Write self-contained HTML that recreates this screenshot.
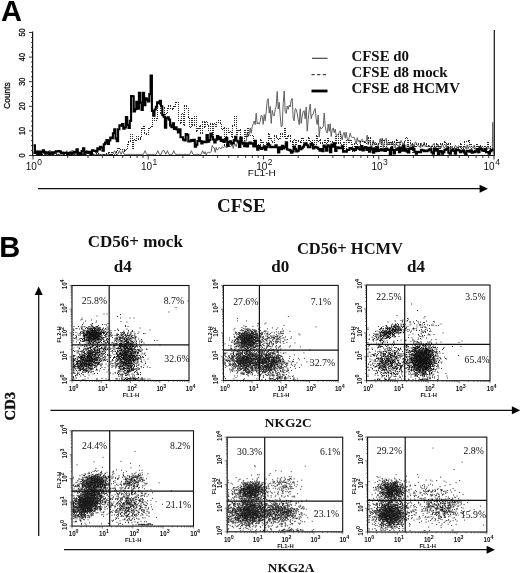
<!DOCTYPE html>
<html><head><meta charset="utf-8"><title>Figure</title>
<style>html,body{margin:0;padding:0;background:#fff}body{width:520px;height:573px;overflow:hidden}</style></head>
<body>
<svg width="520" height="573" viewBox="0 0 520 573" style="display:block;filter:grayscale(1)">
<rect width="520" height="573" fill="#fff"/>
<text x="1" y="21.2" font-family="Liberation Sans, sans-serif" font-weight="bold" font-size="29" fill="#000">A</text>
<text x="-0.7" y="256.7" font-family="Liberation Sans, sans-serif" font-weight="bold" font-size="29" fill="#000">B</text>
<path d="M32.6 31.5V155.5H494.3V30" fill="none" stroke="#111" stroke-width="1.2"/>
<path d="M29.0 155.5H33M31.0 150.6H33M31.0 145.7H33M31.0 140.7H33M31.0 135.8H33M29.0 130.9H33M31.0 126.0H33M31.0 121.1H33M31.0 116.1H33M31.0 111.2H33M29.0 106.3H33M31.0 101.4H33M31.0 96.5H33M31.0 91.5H33M31.0 86.6H33M29.0 81.7H33M31.0 76.8H33M31.0 71.9H33M31.0 66.9H33M31.0 62.0H33M29.0 57.1H33M31.0 52.2H33M31.0 47.3H33M31.0 42.3H33M31.0 37.4H33M29.0 32.5H33" stroke="#222" stroke-width="0.9" fill="none"/>
<path d="M33.0 155.5v4M67.7 155.5v2.5M88.0 155.5v2.5M102.4 155.5v2.5M113.6 155.5v2.5M122.7 155.5v2.5M130.4 155.5v2.5M137.1 155.5v2.5M143.0 155.5v2.5M148.2 155.5v4M182.9 155.5v2.5M203.2 155.5v2.5M217.6 155.5v2.5M228.8 155.5v2.5M237.9 155.5v2.5M245.6 155.5v2.5M252.3 155.5v2.5M258.2 155.5v2.5M263.5 155.5v4M298.2 155.5v2.5M318.5 155.5v2.5M332.9 155.5v2.5M344.1 155.5v2.5M353.2 155.5v2.5M360.9 155.5v2.5M367.6 155.5v2.5M373.5 155.5v2.5M378.8 155.5v4M413.4 155.5v2.5M433.7 155.5v2.5M448.1 155.5v2.5M459.3 155.5v2.5M468.4 155.5v2.5M476.1 155.5v2.5M482.8 155.5v2.5M488.7 155.5v2.5M494.0 155.5v4" stroke="#222" stroke-width="0.9" fill="none"/>
<text transform="translate(24.5 155.5) rotate(-90) scale(0.85 1)" text-anchor="middle" font-family="Liberation Sans, sans-serif" font-size="8.6" fill="#111" stroke="#111" stroke-width="0.3">0</text>
<text transform="translate(24.5 130.9) rotate(-90) scale(0.85 1)" text-anchor="middle" font-family="Liberation Sans, sans-serif" font-size="8.6" fill="#111" stroke="#111" stroke-width="0.3">10</text>
<text transform="translate(24.5 106.3) rotate(-90) scale(0.85 1)" text-anchor="middle" font-family="Liberation Sans, sans-serif" font-size="8.6" fill="#111" stroke="#111" stroke-width="0.3">20</text>
<text transform="translate(24.5 81.7) rotate(-90) scale(0.85 1)" text-anchor="middle" font-family="Liberation Sans, sans-serif" font-size="8.6" fill="#111" stroke="#111" stroke-width="0.3">30</text>
<text transform="translate(24.5 57.1) rotate(-90) scale(0.85 1)" text-anchor="middle" font-family="Liberation Sans, sans-serif" font-size="8.6" fill="#111" stroke="#111" stroke-width="0.3">40</text>
<text transform="translate(24.5 32.5) rotate(-90) scale(0.85 1)" text-anchor="middle" font-family="Liberation Sans, sans-serif" font-size="8.6" fill="#111" stroke="#111" stroke-width="0.3">50</text>
<text transform="translate(10.2 95.5) rotate(-90)" text-anchor="middle" font-family="Liberation Sans, sans-serif" font-size="8.3" fill="#111" stroke="#111" stroke-width="0.3">Counts</text>
<text x="25.7" y="169.5" font-family="Liberation Sans, sans-serif" font-size="10" fill="#111">10<tspan dy="-5" dx="0.5" font-size="8.5">0</tspan></text>
<text x="140.9" y="169.5" font-family="Liberation Sans, sans-serif" font-size="10" fill="#111">10<tspan dy="-5" dx="0.5" font-size="8.5">1</tspan></text>
<text x="256.2" y="169.5" font-family="Liberation Sans, sans-serif" font-size="10" fill="#111">10<tspan dy="-5" dx="0.5" font-size="8.5">2</tspan></text>
<text x="371.4" y="169.5" font-family="Liberation Sans, sans-serif" font-size="10" fill="#111">10<tspan dy="-5" dx="0.5" font-size="8.5">3</tspan></text>
<text x="483.5" y="169.5" font-family="Liberation Sans, sans-serif" font-size="10" fill="#111">10<tspan dy="-5" dx="0.5" font-size="8.5">4</tspan></text>
<text x="247.8" y="176.3" font-family="Liberation Sans, sans-serif" font-size="8.6" textLength="28" lengthAdjust="spacingAndGlyphs" fill="#111">FL1-H</text>
<path d="M33.0 154.4 L34.6 150.7 L36.2 154.4 L37.8 150.7 L39.4 154.4 L41.0 154.4 L42.6 150.7 L44.2 154.4 L45.8 150.7 L47.4 154.4 L49.0 150.7 L50.6 150.7 L52.2 154.4 L53.8 154.4 L55.4 150.7 L57.0 154.4 L58.6 154.4 L60.2 154.4 L61.8 154.4 L63.4 154.4 L65.0 154.4 L66.6 150.7 L68.2 154.4 L69.8 154.4 L71.4 150.7 L73.0 150.7 L74.6 154.4 L76.2 154.4 L77.8 154.4 L79.4 154.4 L81.0 154.4 L82.6 154.4 L84.2 154.4 L85.8 150.7 L87.4 150.7 L89.0 154.4 L90.6 154.4 L92.2 154.4 L93.8 154.4 L95.4 154.4 L97.0 154.4 L98.6 154.4 L100.2 154.4 L101.8 154.4 L103.4 154.4 L105.0 154.4 L106.6 154.4 L108.2 154.4 L109.8 154.4 L111.4 154.4 L113.0 154.4 L114.6 150.7 L116.2 154.4 L117.8 154.4 L119.4 150.7 L121.0 154.4 L122.6 150.7 L124.2 154.4 L125.8 154.4 L127.4 154.4 L129.0 154.4 L130.6 154.4 L132.2 154.4 L133.8 154.4 L135.4 154.4 L137.0 154.4 L138.6 154.4 L140.2 154.4 L141.8 154.4 L143.4 154.4 L145.0 150.7 L146.6 154.4 L148.2 154.4 L149.8 154.4 L151.4 154.4 L153.0 154.4 L154.6 154.4 L156.2 154.4 L157.8 150.7 L159.4 154.4 L161.0 154.4 L162.6 150.7 L164.2 150.7 L165.8 154.4 L167.4 150.7 L169.0 154.4 L170.6 154.4 L172.2 154.4 L173.8 150.7 L175.4 154.4 L177.0 154.4 L178.6 154.4 L180.2 154.4 L181.8 154.4 L183.4 154.4 L185.0 154.4 L186.6 154.4 L188.2 154.4 L189.8 154.4 L191.4 150.7 L193.0 154.4 L194.6 154.4 L196.2 154.4 L197.8 154.4 L199.4 154.4 L201.0 154.4 L202.6 150.7 L204.2 154.0 L205.2 151.7 L206.2 155.0 L207.2 153.4 L208.2 152.0 L209.2 152.8 L210.2 152.4 L211.2 151.8 L212.2 145.5 L213.2 147.5 L214.2 147.7 L215.2 152.4 L216.2 147.5 L217.2 150.2 L218.2 148.9 L219.2 147.5 L220.2 148.6 L221.2 148.7 L222.2 146.8 L223.2 147.5 L224.2 147.1 L225.2 146.2 L226.2 147.6 L227.2 147.4 L228.2 146.6 L229.2 146.1 L230.2 147.1 L231.2 146.1 L232.2 144.0 L233.2 148.4 L234.2 144.7 L235.2 144.1 L236.2 146.7 L237.2 143.1 L238.2 141.3 L239.2 141.1 L240.2 141.4 L241.2 144.3 L242.2 145.0 L243.2 143.5 L244.2 141.3 L245.2 141.2 L246.2 141.4 L247.2 132.4 L248.2 136.5 L249.2 134.2 L250.2 128.1 L251.2 133.2 L252.2 126.6 L253.2 123.8 L254.2 121.0 L255.2 124.6 L256.2 113.3 L257.2 124.1 L258.2 122.6 L259.2 124.2 L260.2 121.4 L261.2 115.2 L262.2 116.1 L263.2 124.4 L264.2 114.5 L265.2 120.8 L266.2 111.9 L267.2 100.7 L268.2 98.7 L269.2 113.1 L270.2 106.4 L271.2 123.4 L272.2 110.4 L273.2 114.9 L274.2 116.1 L275.2 109.3 L276.2 106.1 L277.2 91.5 L278.2 109.0 L279.2 102.3 L280.2 115.3 L281.2 126.7 L282.2 126.0 L283.2 103.7 L284.2 91.1 L285.2 111.4 L286.2 113.5 L287.2 106.0 L288.2 109.3 L289.2 105.1 L290.2 107.0 L291.2 100.0 L292.2 98.4 L293.2 118.4 L294.2 120.8 L295.2 108.6 L296.2 109.3 L297.2 113.5 L298.2 119.4 L299.2 124.6 L300.2 108.8 L301.2 123.4 L302.2 116.3 L303.2 111.4 L304.2 110.7 L305.2 118.7 L306.2 107.0 L307.2 131.1 L308.2 119.3 L309.2 109.9 L310.2 104.2 L311.2 118.7 L312.2 114.5 L313.2 114.3 L314.2 110.3 L315.2 108.5 L316.2 119.2 L317.2 124.5 L318.2 115.0 L319.2 137.1 L320.2 126.7 L321.2 128.8 L322.2 127.9 L323.2 126.8 L324.2 113.0 L325.2 126.1 L326.2 131.4 L327.2 133.1 L328.2 124.1 L329.2 131.3 L330.2 123.7 L331.2 136.5 L332.2 129.9 L333.2 127.9 L334.2 132.6 L335.2 129.1 L336.2 135.4 L337.2 134.6 L338.2 135.3 L339.2 132.6 L340.2 130.8 L341.2 136.4 L342.2 139.9 L343.2 133.8 L344.2 132.2 L345.2 138.1 L346.2 132.2 L347.2 138.5 L348.2 141.0 L349.2 137.7 L350.2 133.1 L351.2 136.8 L352.2 137.3 L353.2 137.4 L354.2 137.3 L355.2 140.2 L356.2 143.9 L357.2 137.7 L358.2 141.7 L359.2 140.1 L360.2 143.6 L361.2 140.0 L362.2 139.3 L363.2 141.3 L364.2 142.3 L365.2 141.1 L366.2 141.3 L367.2 135.1 L368.2 144.8 L369.2 141.0 L370.2 140.6 L371.2 148.0 L372.2 145.3 L373.2 140.1 L374.2 145.3 L375.2 142.0 L376.2 143.2 L377.2 145.3 L378.2 145.7 L379.2 143.3 L380.2 138.5 L381.2 144.4 L382.2 138.0 L383.2 147.8 L384.2 143.3 L385.2 139.6 L386.2 138.3 L387.2 145.3 L388.2 142.6 L389.2 142.5 L390.2 144.7 L391.2 143.4 L392.2 143.8 L393.2 143.0 L394.2 146.4 L395.2 148.3 L396.2 143.1 L397.2 145.3 L398.2 145.3 L399.2 148.4 L400.2 141.3 L401.2 140.5 L402.2 143.0 L403.2 145.3 L404.2 142.5 L405.2 145.8 L406.2 152.8 L407.2 144.5 L408.2 144.5 L409.2 146.6 L410.2 148.1 L411.2 144.1 L412.2 146.4 L413.2 144.1 L414.2 147.3 L415.2 142.1 L416.2 142.6 L417.2 145.4 L418.2 146.3 L419.2 145.8 L420.2 147.7 L421.2 143.1 L422.2 147.0 L423.2 146.3 L424.2 142.1 L425.2 146.7 L426.2 145.3 L427.2 146.7 L428.2 146.6 L429.2 145.9 L430.2 146.3 L431.2 148.5 L432.2 145.1 L433.2 145.0 L434.2 143.2 L435.2 149.1 L436.2 147.0 L437.2 145.6 L438.2 144.4 L439.2 148.5 L440.2 147.4 L441.2 148.0 L442.2 143.9 L443.2 146.0 L444.2 148.0 L445.2 146.9 L446.2 144.3 L447.2 148.6 L448.2 147.1 L449.2 148.3 L450.2 147.0 L451.2 148.2 L452.2 146.0 L453.2 149.4 L454.2 149.1 L455.2 145.3 L456.2 146.2 L457.2 148.5 L458.2 146.0 L459.2 145.9 L460.2 147.8 L461.2 146.9 L462.2 147.6 L463.2 147.4 L464.2 147.5 L465.2 146.3 L466.2 149.4 L467.2 144.8 L468.2 148.8 L469.2 145.8 L470.2 147.4 L471.2 146.6 L472.2 146.8 L473.2 148.2 L474.2 145.1 L475.2 148.2 L476.2 149.8 L477.2 149.0 L478.2 153.4 L479.2 147.9 L480.2 145.7 L481.2 146.4 L482.2 151.0 L483.2 147.8 L484.2 147.8 L485.2 150.7 L486.2 152.0 L487.2 149.1 L488.2 147.2 L489.2 149.3 L490.2 147.6 L491.2 151.9 L492.2 150.6 L492.3 150.6 L492.8 122.3 L493.3 154.3" fill="none" stroke="#5a5a5a" stroke-width="0.95" stroke-linejoin="miter"/>
<path d="M34 155.5h1M36 154.5h1M36 155.5h1M37 154.5h1M38 154.5h1M39 154.5h1M40 154.5h1M40 155.5h1M42 154.5h1M42 155.5h1M44 155.5h1M46 155.5h1M48 152.5h1M48 154.5h1M48 155.5h1M50 152.5h1M50 154.5h1M50 155.5h1M52 154.5h1M52 155.5h1M53 154.5h1M54 155.5h1M56 154.5h1M56 155.5h1M58 154.5h1M58 155.5h1M60 155.5h1M62 155.5h1M63 154.5h1M64 154.5h1M66 153.5h1M66 154.5h1M68 153.5h1M68 154.5h1M68 155.5h1M70 155.5h1M72 152.5h1M72 154.5h1M72 155.5h1M74 152.5h1M74 154.5h1M74 155.5h1M76 155.5h1M78 155.5h1M80 155.5h1M82 155.5h1M84 154.5h1M84 155.5h1M85 154.5h1M86 155.5h1M88 155.5h1M90 155.5h1M92 154.5h1M92 155.5h1M93 154.5h1M94 155.5h1M96 153.5h1M96 154.5h1M96 155.5h1M98 153.5h1M98 154.5h1M100 154.5h1M100 155.5h1M102 155.5h1M103 154.5h1M104 154.5h1M106 153.5h1M106 154.5h1M108 152.5h1M108 153.5h1M109 152.5h1M109 154.5h1M110 154.5h1M111 152.5h1M111 154.5h1M112 152.5h1M112 154.5h1M114 154.5h1M116 151.5h1M116 152.5h1M116 154.5h1M117 148.5h1M117 150.5h1M118 148.5h1M119 148.5h1M120 149.5h1M122 149.5h1M124 149.5h1M124 150.5h1M124 151.5h1M125 150.5h1M126 149.5h1M127 144.5h1M127 146.5h1M127 148.5h1M128 141.5h1M128 142.5h1M128 144.5h1M130 134.5h1M130 136.5h1M130 138.5h1M130 140.5h1M130 141.5h1M132 134.5h1M132 136.5h1M132 138.5h1M132 140.5h1M132 142.5h1M132 144.5h1M132 146.5h1M132 148.5h1M133 140.5h1M133 142.5h1M133 144.5h1M133 146.5h1M133 148.5h1M134 139.5h1M135 140.5h1M136 136.5h1M136 138.5h1M136 140.5h1M138 136.5h1M138 138.5h1M138 139.5h1M140 137.5h1M140 138.5h1M140 139.5h1M141 128.5h1M141 130.5h1M141 132.5h1M141 134.5h1M141 136.5h1M142 128.5h1M143 126.5h1M143 128.5h1M144 126.5h1M144 128.5h1M144 130.5h1M144 132.5h1M144 133.5h1M146 133.5h1M146 134.5h1M148 128.5h1M148 130.5h1M148 132.5h1M148 134.5h1M149 128.5h1M150 127.5h1M151 126.5h1M152 118.5h1M152 120.5h1M152 122.5h1M152 124.5h1M152 126.5h1M154 118.5h1M154 120.5h1M156 118.5h1M156 120.5h1M157 104.5h1M157 106.5h1M157 108.5h1M157 110.5h1M157 112.5h1M157 114.5h1M157 116.5h1M157 118.5h1M158 103.5h1M159 104.5h1M160 104.5h1M160 106.5h1M160 108.5h1M160 110.5h1M160 112.5h1M160 113.5h1M162 107.5h1M162 108.5h1M162 110.5h1M162 112.5h1M162 113.5h1M164 107.5h1M164 108.5h1M164 110.5h1M164 112.5h1M164 114.5h1M164 116.5h1M164 117.5h1M165 114.5h1M165 116.5h1M166 113.5h1M167 108.5h1M167 110.5h1M167 112.5h1M168 105.5h1M168 106.5h1M168 108.5h1M170 105.5h1M170 106.5h1M170 108.5h1M172 108.5h1M172 109.5h1M173 106.5h1M173 108.5h1M174 106.5h1M175 102.5h1M175 104.5h1M175 106.5h1M176 102.5h1M178 102.5h1M178 104.5h1M178 106.5h1M178 108.5h1M178 110.5h1M178 112.5h1M178 114.5h1M178 116.5h1M178 118.5h1M178 120.5h1M180 120.5h1M180 122.5h1M180 123.5h1M181 114.5h1M181 116.5h1M181 118.5h1M181 120.5h1M181 122.5h1M182 113.5h1M183 114.5h1M183 116.5h1M183 118.5h1M183 120.5h1M183 122.5h1M183 124.5h1M184 105.5h1M184 106.5h1M184 108.5h1M184 110.5h1M184 112.5h1M184 114.5h1M184 116.5h1M184 118.5h1M184 120.5h1M184 122.5h1M184 124.5h1M184 125.5h1M186 105.5h1M186 106.5h1M186 108.5h1M188 108.5h1M188 110.5h1M188 112.5h1M188 114.5h1M188 116.5h1M188 117.5h1M189 118.5h1M189 120.5h1M189 122.5h1M189 124.5h1M189 126.5h1M190 127.5h1M191 118.5h1M191 120.5h1M191 122.5h1M191 124.5h1M191 126.5h1M192 118.5h1M192 120.5h1M192 122.5h1M192 124.5h1M192 125.5h1M194 116.5h1M194 118.5h1M194 120.5h1M194 122.5h1M194 124.5h1M194 125.5h1M196 116.5h1M196 118.5h1M196 120.5h1M196 122.5h1M196 124.5h1M196 126.5h1M196 128.5h1M196 130.5h1M196 131.5h1M197 128.5h1M197 130.5h1M198 128.5h1M199 126.5h1M199 128.5h1M200 125.5h1M200 126.5h1M200 128.5h1M200 130.5h1M200 132.5h1M200 133.5h1M202 121.5h1M202 122.5h1M202 124.5h1M202 126.5h1M202 128.5h1M202 130.5h1M202 132.5h1M202 133.5h1M204 121.5h1M204 122.5h1M204 124.5h1M204 126.5h1M204 127.5h1M205 122.5h1M205 124.5h1M205 126.5h1M206 121.5h1M207 122.5h1M207 124.5h1M208 125.5h1M208 126.5h1M208 128.5h1M208 130.5h1M210 123.5h1M210 124.5h1M210 126.5h1M210 128.5h1M210 130.5h1M212 123.5h1M212 124.5h1M212 126.5h1M212 128.5h1M212 130.5h1M212 132.5h1M212 134.5h1M213 124.5h1M213 126.5h1M213 128.5h1M213 130.5h1M213 132.5h1M213 134.5h1M214 123.5h1M215 124.5h1M215 126.5h1M216 122.5h1M216 124.5h1M216 126.5h1M218 120.5h1M218 122.5h1M220 120.5h1M220 122.5h1M220 123.5h1M221 124.5h1M221 126.5h1M221 128.5h1M222 129.5h1M223 128.5h1M224 127.5h1M224 128.5h1M224 130.5h1M224 132.5h1M224 134.5h1M224 136.5h1M224 138.5h1M224 140.5h1M224 142.5h1M224 144.5h1M224 145.5h1M226 128.5h1M226 130.5h1M226 132.5h1M226 134.5h1M226 136.5h1M226 138.5h1M226 140.5h1M226 142.5h1M226 144.5h1M226 145.5h1M228 128.5h1M228 130.5h1M228 132.5h1M229 132.5h1M230 131.5h1M231 132.5h1M231 134.5h1M231 136.5h1M232 125.5h1M232 126.5h1M232 128.5h1M232 130.5h1M232 132.5h1M232 134.5h1M232 136.5h1M232 137.5h1M234 116.5h1M234 118.5h1M234 120.5h1M234 122.5h1M234 124.5h1M234 125.5h1M236 116.5h1M236 118.5h1M236 120.5h1M236 122.5h1M236 124.5h1M236 126.5h1M236 128.5h1M236 130.5h1M236 132.5h1M236 134.5h1M237 130.5h1M237 132.5h1M237 134.5h1M238 130.5h1M239 130.5h1M240 129.5h1M240 130.5h1M240 132.5h1M240 134.5h1M240 136.5h1M240 138.5h1M242 138.5h1M242 140.5h1M242 142.5h1M242 144.5h1M244 130.5h1M244 132.5h1M244 134.5h1M244 136.5h1M244 138.5h1M244 140.5h1M244 142.5h1M244 144.5h1M245 130.5h1M245 132.5h1M245 134.5h1M245 136.5h1M246 136.5h1M247 128.5h1M247 130.5h1M247 132.5h1M247 134.5h1M247 136.5h1M248 128.5h1M248 130.5h1M248 132.5h1M248 134.5h1M248 135.5h1M250 135.5h1M252 135.5h1M253 136.5h1M253 138.5h1M253 140.5h1M254 140.5h1M255 140.5h1M255 142.5h1M256 143.5h1M256 144.5h1M256 145.5h1M258 144.5h1M258 145.5h1M260 139.5h1M260 140.5h1M260 142.5h1M260 144.5h1M261 140.5h1M261 142.5h1M262 142.5h1M263 142.5h1M263 144.5h1M263 146.5h1M264 147.5h1M264 148.5h1M266 142.5h1M266 144.5h1M266 146.5h1M266 148.5h1M268 133.5h1M268 134.5h1M268 136.5h1M268 138.5h1M268 140.5h1M268 142.5h1M269 134.5h1M269 136.5h1M269 138.5h1M270 138.5h1M271 138.5h1M271 140.5h1M272 141.5h1M272 142.5h1M274 135.5h1M274 136.5h1M274 138.5h1M274 140.5h1M274 142.5h1M276 135.5h1M276 136.5h1M276 137.5h1M277 138.5h1M278 139.5h1M279 138.5h1M280 133.5h1M280 134.5h1M280 136.5h1M280 138.5h1M282 133.5h1M282 134.5h1M282 136.5h1M284 128.5h1M284 130.5h1M284 132.5h1M284 134.5h1M284 136.5h1M285 128.5h1M285 130.5h1M285 132.5h1M285 134.5h1M285 136.5h1M285 138.5h1M286 138.5h1M287 136.5h1M287 138.5h1M288 135.5h1M288 136.5h1M290 135.5h1M290 136.5h1M290 138.5h1M290 140.5h1M290 141.5h1M292 141.5h1M292 142.5h1M292 144.5h1M292 146.5h1M293 140.5h1M293 142.5h1M293 144.5h1M293 146.5h1M294 139.5h1M295 140.5h1M295 142.5h1M295 144.5h1M296 140.5h1M296 142.5h1M296 144.5h1M298 140.5h1M298 141.5h1M300 141.5h1M300 142.5h1M301 138.5h1M301 140.5h1M301 142.5h1M302 138.5h1M303 138.5h1M303 140.5h1M303 142.5h1M303 144.5h1M303 146.5h1M304 143.5h1M304 144.5h1M304 146.5h1M306 140.5h1M306 142.5h1M306 143.5h1M308 137.5h1M308 138.5h1M308 140.5h1M309 138.5h1M309 140.5h1M310 141.5h1M311 142.5h1M312 140.5h1M312 142.5h1M312 143.5h1M314 140.5h1M314 142.5h1M314 144.5h1M314 146.5h1M314 147.5h1M316 135.5h1M316 136.5h1M316 138.5h1M316 140.5h1M316 142.5h1M316 144.5h1M316 146.5h1M316 147.5h1M317 136.5h1M317 138.5h1M317 140.5h1M318 141.5h1M319 140.5h1M320 139.5h1M320 140.5h1M320 142.5h1M320 143.5h1M322 142.5h1M322 143.5h1M324 140.5h1M324 142.5h1M325 140.5h1M325 142.5h1M326 143.5h1M327 138.5h1M327 140.5h1M327 142.5h1M328 138.5h1M328 140.5h1M328 141.5h1M330 141.5h1M332 141.5h1M332 142.5h1M333 142.5h1M334 142.5h1M335 136.5h1M335 138.5h1M335 140.5h1M335 142.5h1M336 136.5h1M336 138.5h1M336 140.5h1M336 142.5h1M336 143.5h1M338 134.5h1M338 136.5h1M338 138.5h1M338 140.5h1M338 142.5h1M338 143.5h1M340 134.5h1M340 136.5h1M340 138.5h1M340 140.5h1M340 142.5h1M340 143.5h1M341 144.5h1M342 145.5h1M343 142.5h1M343 144.5h1M344 142.5h1M344 144.5h1M344 146.5h1M344 148.5h1M344 150.5h1M346 140.5h1M346 142.5h1M346 144.5h1M346 146.5h1M346 148.5h1M346 150.5h1M348 140.5h1M348 142.5h1M349 140.5h1M349 142.5h1M350 140.5h1M351 140.5h1M351 142.5h1M351 144.5h1M352 144.5h1M352 146.5h1M352 148.5h1M352 150.5h1M352 151.5h1M354 143.5h1M354 144.5h1M354 146.5h1M354 148.5h1M354 150.5h1M354 151.5h1M356 143.5h1M357 144.5h1M357 146.5h1M357 148.5h1M358 149.5h1M359 146.5h1M359 148.5h1M360 141.5h1M360 142.5h1M360 144.5h1M360 145.5h1M362 141.5h1M364 141.5h1M364 142.5h1M365 142.5h1M366 143.5h1M368 137.5h1M368 138.5h1M368 140.5h1M368 142.5h1M368 143.5h1M370 137.5h1M370 138.5h1M370 140.5h1M370 142.5h1M370 144.5h1M372 142.5h1M372 144.5h1M373 142.5h1M374 143.5h1M375 144.5h1M375 146.5h1M376 143.5h1M376 144.5h1M376 146.5h1M378 143.5h1M378 144.5h1M378 146.5h1M380 146.5h1M380 148.5h1M380 149.5h1M381 140.5h1M381 142.5h1M381 144.5h1M381 146.5h1M381 148.5h1M382 139.5h1M383 140.5h1M384 140.5h1M384 142.5h1M384 144.5h1M384 146.5h1M384 148.5h1M386 140.5h1M386 142.5h1M386 144.5h1M386 146.5h1M386 148.5h1M388 140.5h1M388 142.5h1M388 144.5h1M389 142.5h1M389 144.5h1M390 142.5h1M391 142.5h1M391 144.5h1M391 146.5h1M392 141.5h1M392 142.5h1M392 144.5h1M392 146.5h1M394 141.5h1M394 142.5h1M394 144.5h1M396 139.5h1M396 140.5h1M396 142.5h1M396 144.5h1M397 140.5h1M397 142.5h1M398 142.5h1M399 142.5h1M400 142.5h1M400 144.5h1M402 144.5h1M402 145.5h1M404 141.5h1M404 142.5h1M404 144.5h1M404 145.5h1M405 138.5h1M405 140.5h1M406 137.5h1M407 138.5h1M407 140.5h1M407 142.5h1M407 144.5h1M407 146.5h1M407 148.5h1M408 140.5h1M408 142.5h1M408 144.5h1M408 146.5h1M408 148.5h1M408 149.5h1M410 140.5h1M410 142.5h1M410 143.5h1M412 143.5h1M412 144.5h1M412 146.5h1M412 148.5h1M412 150.5h1M412 152.5h1M413 146.5h1M413 148.5h1M413 150.5h1M413 152.5h1M414 146.5h1M415 146.5h1M416 144.5h1M416 146.5h1M418 143.5h1M418 144.5h1M420 143.5h1M420 144.5h1M420 145.5h1M422 145.5h1M423 144.5h1M424 143.5h1M424 144.5h1M426 143.5h1M426 144.5h1M426 146.5h1M428 145.5h1M428 146.5h1M429 146.5h1M429 148.5h1M430 149.5h1M431 146.5h1M431 148.5h1M432 146.5h1M434 146.5h1M434 148.5h1M436 143.5h1M436 144.5h1M436 146.5h1M436 148.5h1M437 144.5h1M437 146.5h1M438 146.5h1M439 146.5h1M439 148.5h1M439 150.5h1M440 143.5h1M440 144.5h1M440 146.5h1M440 148.5h1M440 150.5h1M442 143.5h1M442 144.5h1M444 141.5h1M444 142.5h1M444 144.5h1M445 142.5h1M446 143.5h1M447 144.5h1M447 146.5h1M448 143.5h1M448 144.5h1M448 146.5h1M448 147.5h1M450 143.5h1M450 144.5h1M450 146.5h1M450 148.5h1M452 148.5h1M452 150.5h1M453 148.5h1M453 150.5h1M454 147.5h1M455 148.5h1M456 148.5h1M458 147.5h1M458 148.5h1M460 143.5h1M460 144.5h1M460 146.5h1M460 147.5h1M461 144.5h1M461 146.5h1M461 148.5h1M461 150.5h1M462 151.5h1M463 146.5h1M463 148.5h1M463 150.5h1M464 141.5h1M464 142.5h1M464 144.5h1M464 146.5h1M466 141.5h1M468 140.5h1M468 141.5h1M469 140.5h1M469 142.5h1M469 144.5h1M470 144.5h1M471 144.5h1M471 146.5h1M471 148.5h1M471 150.5h1M472 150.5h1M474 146.5h1M474 148.5h1M474 150.5h1M476 144.5h1M476 146.5h1M477 144.5h1M477 146.5h1M478 146.5h1M479 146.5h1M480 145.5h1M480 146.5h1M480 148.5h1M482 146.5h1M482 148.5h1M484 146.5h1M485 146.5h1M486 147.5h1M487 142.5h1M487 144.5h1M487 146.5h1M488 142.5h1M488 144.5h1M488 146.5h1M490 146.5h1M490 148.5h1M490 150.5h1M492 148.5h1M492 150.5h1" fill="none" stroke="#2a2a2a" stroke-width="1"/>
<path d="M33.6 145.2H34.9V153.0H36.2V151.5H37.5V154.3H38.8V151.5H40.1V154.2H41.4V152.0H42.7V150.4H44.0V152.2H45.3V153.7H46.6V152.5H47.9V152.3H49.2V154.3H50.5V153.5H51.8V152.3H53.1V153.3H54.4V152.4H55.7V151.4H57.0V151.3H58.3V151.1H59.6V151.6H60.9V153.0H62.2V152.6H63.5V153.0H64.8V153.0H66.1V152.8H67.4V154.3H68.7V153.1H70.0V152.6H71.3V154.1H72.6V152.6H73.9V151.7H75.2V152.8H76.5V149.3H77.8V154.3H79.1V152.9H80.4V154.3H81.7V151.0H83.0V148.3H84.3V154.3H85.6V152.3H86.9V151.7H88.2V153.0H89.5V151.7H90.8V154.3H92.1V150.4H93.4V150.8H94.7V151.0H96.0V151.6H97.3V148.3H98.6V149.5H99.9V146.9H101.2V147.5H102.5V150.8H103.8V144.3H105.1V142.6H106.4V140.1H107.7V143.9H109.0V140.5H110.3V137.5H111.6V138.1H112.9V133.2H114.2V129.2H115.5V138.4H116.8V141.2H118.1V129.3H119.4V125.2H120.7V125.8H122.0V124.1H123.3V128.8H124.6V127.4H125.9V117.1H127.2V124.9H128.5V128.0H129.8V120.9H131.1V96.0H132.4V96.3H133.7V111.5H135.0V109.3H136.3V101.7H137.6V108.6H138.9V92.8H140.2V102.6H141.5V109.9H142.8V92.8H144.1V105.1H145.4V98.2H146.7V99.6H148.0V101.4H149.3V94.1H150.6V75.5H151.9V111.0H153.2V115.7H154.5V109.5H155.8V106.7H157.1V102.3H158.4V103.0H159.7V100.7H161.0V106.2H162.3V114.9H163.6V116.7H164.9V127.7H166.2V118.3H167.5V117.2H168.8V119.6H170.1V125.5H171.4V127.1H172.7V123.4H174.0V129.0H175.3V127.3H176.6V129.5H177.9V132.4H179.2V129.3H180.5V137.2H181.8V137.3H183.1V139.7H184.4V140.5H185.7V134.0H187.0V134.9H188.3V141.5H189.6V141.2H190.9V140.0H192.2V141.0H193.5V139.9H194.8V146.6H196.1V144.6H197.4V141.0H198.7V137.7H200.0V141.1H201.3V143.4H202.6V141.5H203.9V142.0H205.2V142.2H206.5V135.0H207.8V141.8H209.1V140.0H210.4V133.5H211.7V136.7H213.0V139.5H214.3V142.5H215.6V139.6H216.9V136.1H218.2V139.2H219.5V137.4H220.8V140.9H222.1V139.8H223.4V142.0H224.7V140.3H226.0V137.9H227.3V145.9H228.6V142.0H229.9V141.3H231.2V143.7H232.5V143.0H233.8V140.1H235.1V136.8H236.4V140.7H237.7V141.7H239.0V147.0H240.3V137.5H241.6V142.7H242.9V143.1H244.2V146.2H245.5V143.4H246.8V146.4H248.1V143.4H249.4V142.5H250.7V143.8H252.0V143.3H253.3V146.4H254.6V140.7H255.9V146.4H257.2V149.7H258.5V146.1H259.8V147.9H261.1V148.9H262.4V147.7H263.7V146.3H265.0V149.6H266.3V147.3H267.6V143.7H268.9V145.4H270.2V147.3H271.5V146.7H272.8V147.3H274.1V147.2H275.4V145.4H276.7V147.3H278.0V152.5H279.3V147.2H280.6V149.1H281.9V145.7H283.2V148.5H284.5V146.9H285.8V142.4H287.1V149.5H288.4V149.7H289.7V150.4H291.0V152.6H292.3V151.4H293.6V146.5H294.9V148.7H296.2V151.5H297.5V150.6H298.8V146.0H300.1V149.1H301.4V148.2H302.7V146.7H304.0V144.5H305.3V143.3H306.6V145.3H307.9V147.3H309.2V147.3H310.5V143.8H311.8V144.6H313.1V148.4H314.4V146.8H315.7V147.2H317.0V147.8H318.3V149.0H319.6V150.8H320.9V149.1H322.2V151.3H323.5V145.5H324.8V147.0H326.1V150.7H327.4V145.2H328.7V146.4H330.0V152.3H331.3V144.5H332.6V146.7H333.9V144.1H335.2V151.0H336.5V147.4H337.8V147.6H339.1V148.1H340.4V148.2H341.7V146.4H343.0V151.7H344.3V151.2H345.6V151.6H346.9V149.9H348.2V150.0H349.5V148.1H350.8V148.3H352.1V148.9H353.4V150.3H354.7V149.9H356.0V147.1H357.3V147.5H358.6V148.9H359.9V149.8H361.2V146.1H362.5V150.4H363.8V148.0H365.1V147.0H366.4V149.9H367.7V147.8H369.0V151.6H370.3V147.5H371.6V149.1H372.9V152.6H374.2V148.3H375.5V151.3H376.8V147.2H378.1V151.0H379.4V150.0H380.7V149.2H382.0V150.4H383.3V149.3H384.6V150.9H385.9V148.6H387.2V149.9H388.5V149.6H389.8V154.3H391.1V147.9H392.4V150.0H393.7V153.5H395.0V150.0H396.3V149.4H397.6V148.3H398.9V152.3H400.2V147.5H401.5V150.7H402.8V146.0H404.1V150.7H405.4V149.2H406.7V151.1H408.0V152.5H409.3V148.5H410.6V148.9H411.9V147.8H413.2V149.0H414.5V151.7H415.8V153.7H417.1V151.8H418.4V151.9H419.7V152.2H421.0V149.7H422.3V150.2H423.6V151.3H424.9V150.5H426.2V151.1H427.5V150.5H428.8V149.6H430.1V149.2H431.4V152.2H432.7V153.6H434.0V148.5H435.3V150.8H436.6V149.1H437.9V154.0H439.2V151.7H440.5V151.1H441.8V153.7H443.1V152.1H444.4V149.9H445.7V149.4H447.0V148.5H448.3V152.8H449.6V153.7H450.9V150.4H452.2V149.7H453.5V151.0H454.8V153.6H456.1V150.1H457.4V150.1H458.7V150.5H460.0V152.3H461.3V151.0H462.6V150.2H463.9V152.5H465.2V154.3H466.5V151.0H467.8V150.8H469.1V151.6H470.4V150.2H471.7V152.7H473.0V151.8H474.3V152.2H475.6V150.8H476.9V149.1H478.2V152.2H479.5V148.4H480.8V149.3H482.1V150.5H483.4V150.9H484.7V149.0H486.0V152.2H487.3V152.1H488.6V153.7H489.9V151.2H491.2V149.8H492.5V151.2" fill="none" stroke="#000" stroke-width="2.1" stroke-linejoin="miter"/>
<path d="M312 58.3H327.5" stroke="#444" stroke-width="1.2"/>
<path d="M311.5 74.7H327" stroke="#444" stroke-width="1.2" stroke-dasharray="3.2 2.4"/>
<path d="M311.5 91H327.5" stroke="#000" stroke-width="2.8"/>
<text x="351.5" y="60.7" font-family="Liberation Serif, serif" font-weight="bold" font-size="14.9" fill="#111">CFSE d0</text>
<text x="351.5" y="77.3" font-family="Liberation Serif, serif" font-weight="bold" font-size="14.9" fill="#111">CFSE d8 mock</text>
<text x="351.5" y="93.2" font-family="Liberation Serif, serif" font-weight="bold" font-size="14.9" fill="#111">CFSE d8 HCMV</text>
<path d="M38 188.7H480.6" stroke="#111" stroke-width="1.25"/><path d="M488 188.7L479.6 184.7V192.7Z" fill="#000"/>
<text x="217" y="211.5" font-family="Liberation Serif, serif" font-weight="bold" font-size="19" fill="#111">CFSE</text>
<text x="135.3" y="247.2" text-anchor="middle" font-family="Liberation Serif, serif" font-weight="bold" font-size="17" fill="#111">CD56+ mock</text>
<text x="350" y="253.7" text-anchor="middle" font-family="Liberation Serif, serif" font-weight="bold" font-size="16.5" fill="#111">CD56+ HCMV</text>
<text x="122.8" y="271.8" text-anchor="middle" font-family="Liberation Serif, serif" font-weight="bold" font-size="17" fill="#111">d4</text>
<text x="280.3" y="272.3" text-anchor="middle" font-family="Liberation Serif, serif" font-weight="bold" font-size="17" fill="#111">d0</text>
<text x="416" y="272.3" text-anchor="middle" font-family="Liberation Serif, serif" font-weight="bold" font-size="17" fill="#111">d4</text>
<text transform="translate(15.3 406.2) rotate(-90)" text-anchor="middle" font-family="Liberation Serif, serif" font-weight="bold" font-size="14.6" fill="#111" stroke="#111" stroke-width="0.45">CD3</text>
<path d="M38.7 536V293.9" stroke="#111" stroke-width="1.25"/><path d="M38.7 286.5L34.7 294.9H42.7Z" fill="#000"/>
<path d="M50.5 410.3H512.9" stroke="#111" stroke-width="1.25"/><path d="M520.3 410.3L511.9 406.3V414.3Z" fill="#000"/>
<path d="M64 549.7H487.6" stroke="#111" stroke-width="1.25"/><path d="M495 549.7L486.6 545.7V553.7Z" fill="#000"/>
<text x="264.8" y="427" font-family="Liberation Serif, serif" font-weight="bold" font-size="13.4" fill="#111">NKG2C</text>
<text x="267.8" y="571.5" font-family="Liberation Serif, serif" font-weight="bold" font-size="13.3" fill="#111">NKG2A</text>
<g transform="translate(72 285.5) scale(0.5)"><path d="M232 31h0M208 44h0M194 53h0M64 57h0m6 0h0M97 58h0M50 61h0M91 62h0M20 65h0m77 0h0m19 0h0m8 0h0M20 68h0M18 69h0m21 0h0M27 71h0m22 0h0M98 72h0M110 73h0M48 74h0M23 75h0M41 76h0m31 0h0M40 77h0M21 78h0m17 0h0m23 0h0m5 0h0M69 79h0M39 80h0m14 0h0m54 0h0M20 81h0m21 0h0M4 82h0m9 0h0m11 0h0m10 0h0m2 0h0m6 0h0m6 0h1m2 0h0m56 0h0m5 0h0M18 83h0m2 0h0m6 0h0m8 0h0m5 0h0m2 0h0m11 0h0m20 0h0M29 84h0m14 0h0m2 0h0m3 0h0m6 0h0m2 0h0M20 85h1m10 0h0m2 0h0m4 0h0m5 0h0m3 0h0m3 0h1m2 0h0m3 0h0m2 0h0m7 0h0m7 0h0m66 0h0M8 86h0m2 0h0m9 0h0m8 0h0m4 0h0m4 0h1m2 0h1m3 0h0m2 0h0m2 0h1m5 0h0m2 0h0m8 0h0m5 0h0M3 87h0m12 0h0m17 0h1m4 0h0m3 0h2m2 0h1m2 0h1m4 0h0m3 0h0m2 0h0m16 0h0m18 0h0m19 0h0M20 88h0m16 0h0m4 0h1m4 0h1m4 0h0m2 0h0m2 0h0m3 0h0m4 0h0m5 0h0m4 0h0M4 89h0m18 0h1m3 0h0m6 0h3m2 0h0m2 0h0m2 0h0m4 0h0m3 0h5m2 0h0m3 0h1m3 0h0m30 0h0m64 0h0M3 90h0m21 0h0m2 0h0m5 0h0m7 0h1m2 0h6m3 0h2m2 0h0m6 0h0m4 0h0m14 0h0m8 0h0m7 0h0m20 0h0m8 0h0M24 91h0m5 0h0m3 0h0m2 0h1m2 0h2m2 0h1m2 0h4m4 0h0m2 0h0m2 0h0m14 0h0m34 0h0M18 92h0m2 0h0m4 0h0m5 0h0m2 0h2m2 0h0m3 0h0m3 0h1m2 0h0m2 0h3m5 0h0m5 0h0m3 0h0m5 0h0m53 0h1M22 93h0m6 0h0m4 0h2m3 0h0m2 0h0m2 0h5m2 0h1m2 0h2m4 0h0m3 0h0m3 0h0m2 0h0m8 0h0m3 0h0m27 0h0m10 0h0m11 0h0m10 0h0M3 94h0m5 0h0m9 0h0m6 0h1m5 0h2m2 0h3m2 0h13m2 0h1m2 0h0m2 0h0m3 0h3m2 0h0m5 0h0m7 0h0m20 0h0m3 0h0m4 0h0m13 0h0M18 95h0m3 0h0m3 0h1m3 0h0m2 0h0m2 0h0m3 0h0m2 0h4m3 0h1m3 0h1m2 0h1m2 0h1m2 0h2m3 0h1m6 0h0m10 0h0m19 0h0m5 0h0m8 0h0M16 96h0m4 0h0m3 0h1m6 0h0m2 0h1m2 0h3m2 0h0m2 0h3m2 0h0m2 0h1m2 0h1m2 0h4m4 0h2m4 0h1m20 0h0m15 0h0m7 0h0m6 0h0m8 0h0m6 0h0m11 0h0m3 0h0M12 97h0m4 0h0m8 0h2m2 0h0m2 0h2m2 0h0m2 0h7m2 0h0m2 0h2m2 0h8m4 0h0m14 0h0m22 0h1m3 0h0m8 0h0m7 0h0M3 98h0m21 0h0m3 0h5m3 0h0m2 0h6m2 0h5m3 0h0m2 0h3m9 0h0m2 0h1m6 0h0m15 0h0m2 0h0m5 0h0m3 0h0m6 0h0m9 0h0M3 99h0m14 0h0m6 0h1m2 0h2m2 0h2m2 0h3m2 0h2m2 0h8m2 0h0m2 0h3m22 0h0m9 0h0m13 0h0m4 0h1m3 0h0m7 0h0m8 0h1M8 100h0m6 0h0m9 0h2m2 0h2m3 0h0m3 0h13m2 0h4m6 0h0m5 0h1m9 0h0m5 0h0m6 0h0m4 0h1m5 0h0m3 0h0m7 0h0m2 0h0m3 0h1m2 0h1m5 0h0m2 0h0M22 101h0m3 0h2m2 0h0m2 0h0m2 0h13m2 0h3m2 0h3m3 0h0m8 0h0m3 0h0m3 0h0m4 0h0m2 0h0m21 0h1m6 0h0m6 0h0m7 0h0M9 102h0m15 0h1m7 0h0m2 0h1m2 0h0m2 0h0m2 0h6m2 0h0m2 0h0m2 0h0m2 0h0m2 0h0m11 0h0m28 0h0m7 0h0m6 0h0m7 0h0m3 0h0m7 0h0m2 0h0M24 103h0m2 0h0m3 0h1m2 0h1m3 0h3m3 0h0m3 0h7m2 0h3m3 0h0m8 0h0m22 0h0m3 0h0m8 0h0m9 0h0M9 104h0m16 0h1m4 0h1m2 0h4m3 0h0m2 0h1m2 0h2m2 0h3m7 0h0m4 0h1m2 0h0m15 0h0m9 0h0m5 0h0m2 0h0m3 0h0m2 0h0m4 0h1m6 0h0m5 0h0m3 0h0m3 0h0m3 0h1M3 105h0m4 0h0m17 0h0m4 0h0m2 0h0m3 0h0m2 0h2m2 0h0m4 0h6m2 0h0m2 0h0m2 0h0m2 0h0m2 0h4m24 0h0m10 0h0m2 0h0m3 0h0m8 0h0m4 0h1m8 0h0M5 106h0m12 0h2m4 0h0m2 0h0m7 0h0m2 0h7m2 0h0m2 0h4m2 0h0m2 0h1m7 0h0m10 0h0m4 0h0m14 0h2m4 0h0m3 0h0m4 0h0m3 0h0m4 0h0m3 0h0m5 0h1m2 0h0m6 0h0M9 107h0m6 0h0m6 0h0m4 0h1m3 0h4m2 0h3m2 0h2m3 0h3m3 0h1m2 0h0m4 0h1m10 0h1m2 0h0m13 0h0m5 0h0m7 0h0m5 0h0m2 0h0m2 0h1m4 0h0m4 0h0m11 0h0m7 0h0M21 108h0m4 0h0m4 0h0m3 0h2m2 0h0m2 0h0m3 0h4m3 0h0m3 0h4m2 0h0m3 0h0m3 0h0m6 0h0m4 0h0m15 0h0m4 0h0m3 0h0m10 0h0m4 0h0m2 0h0m3 0h0m25 0h0M12 109h0m9 0h0m3 0h0m3 0h2m3 0h2m4 0h0m2 0h4m3 0h0m3 0h1m2 0h0m11 0h0m26 0h0m7 0h0m5 0h0m7 0h0m4 0h0m3 0h1m2 0h1m7 0h0M17 110h0m7 0h2m3 0h0m2 0h2m2 0h0m3 0h0m2 0h0m2 0h0m4 0h1m2 0h0m5 0h0m4 0h1m9 0h0m2 0h0m17 0h0m7 0h0m4 0h2m6 0h0m2 0h2m6 0h0m49 0h0m5 0h0M3 111h0m22 0h1m6 0h4m2 0h2m4 0h0m2 0h1m7 0h0m10 0h1m20 0h0m5 0h0m8 0h0m6 0h0m3 0h0m2 0h0m3 0h0m5 0h0m7 0h0m5 0h0m6 0h1m4 0h0M18 112h0m3 0h0m2 0h1m10 0h0m2 0h0m3 0h0m5 0h2m11 0h0m6 0h0m8 0h0m18 0h0m7 0h0m3 0h1m5 0h0m2 0h1m2 0h0m3 0h0m6 0h0m2 0h0m8 0h0m11 0h0M9 113h0m19 0h0m2 0h0m4 0h1m4 0h0m2 0h2m5 0h1m2 0h1m2 0h0m2 0h0m8 0h0m2 0h0m5 0h0m2 0h0m20 0h0m8 0h0m3 0h0m6 0h1m7 0h0m2 0h0m6 0h0M15 114h0m19 0h0m2 0h0m8 0h0m4 0h0m5 0h0m2 0h0m4 0h0m8 0h0m4 0h0m9 0h1m28 0h0m2 0h3m8 0h1m16 0h0M15 115h0m16 0h1m3 0h0m2 0h0m3 0h1m2 0h0m6 0h0m2 0h1m2 0h0m15 0h0m15 0h0m6 0h0m7 0h0m2 0h0m3 0h1m2 0h0m6 0h0m2 0h2m3 0h0m4 0h0m6 0h0m7 0h0m9 0h0M16 116h0m17 0h0m3 0h1m5 0h0m2 0h0m7 0h0m17 0h0m5 0h0m13 0h0m3 0h0m6 0h0m2 0h0m2 0h0m8 0h2m3 0h0m5 0h0m3 0h0m9 0h0M26 117h0m3 0h0m7 0h0m2 0h0m8 0h1m11 0h0m3 0h0m2 0h0m2 0h1m9 0h0m5 0h0m3 0h0m4 0h0m4 0h0m5 0h0m3 0h0m3 0h4m2 0h5m2 0h6m2 0h1m4 0h0M13 118h0m14 0h0m13 0h0m11 0h0m7 0h0m4 0h0m2 0h0m13 0h0m17 0h0m3 0h2m2 0h0m3 0h2m4 0h0m4 0h1m2 0h0m3 0h1m3 0h1M24 119h0m3 0h1m7 0h0m7 0h0m2 0h0m3 0h0m6 0h2m8 0h0m7 0h0m15 0h0m2 0h0m2 0h0m5 0h0m2 0h0m2 0h1m2 0h0m6 0h0m2 0h0m2 0h1m5 0h2m2 0h1m7 0h0m47 0h0M21 120h0m9 0h0m4 0h0m7 0h0m2 0h0m8 0h0m6 0h0m21 0h0m5 0h0m2 0h0m5 0h0m5 0h0m2 0h1m4 0h0m3 0h4m4 0h0m4 0h0m2 0h1m10 0h0m8 0h0M18 121h0m23 0h0m7 0h0m2 0h0m8 0h2m4 0h1m2 0h0m2 0h0m15 0h0m2 0h0m9 0h0m2 0h5m2 0h1m2 0h2m4 0h2m2 0h0m2 0h0m2 0h0m2 0h0m3 0h0m12 0h0M25 122h0m5 0h0m8 0h0m3 0h1m7 0h0m2 0h1m3 0h0m39 0h2m2 0h0m2 0h0m2 0h1m2 0h3m2 0h0m2 0h0m4 0h1m4 0h0m2 0h0m4 0h0m2 0h0m6 0h0M12 123h0m16 0h0m8 0h0m2 0h0m12 0h0m16 0h1m15 0h1m2 0h0m10 0h1m2 0h0m7 0h1m3 0h2m4 0h0m4 0h0m2 0h1m3 0h0m6 0h0M32 124h0m3 0h2m3 0h0m6 0h1m4 0h0m8 0h1m6 0h0m2 0h0m24 0h0m5 0h0m3 0h0m3 0h3m3 0h2m5 0h2m8 0h0m11 0h0M4 125h0m11 0h0m9 0h0m13 0h0m7 0h0m2 0h0m4 0h2m7 0h0m5 0h0m8 0h0m4 0h0m12 0h0m5 0h0m12 0h1m3 0h0m2 0h3m2 0h0m4 0h0m6 0h0M15 126h0m13 0h0m3 0h0m2 0h0m3 0h1m7 0h0m10 0h0m3 0h0m3 0h1m4 0h1m4 0h0m10 0h0m9 0h2m3 0h2m2 0h0m6 0h0m2 0h0m2 0h4m2 0h0m3 0h0m2 0h1m4 0h0M14 127h0m11 0h2m3 0h0m3 0h0m4 0h0m5 0h1m2 0h3m6 0h1m3 0h0m5 0h0m4 0h0m10 0h0m6 0h0m2 0h0m7 0h0m2 0h0m2 0h2m2 0h1m2 0h2m2 0h0m5 0h1m2 0h0m2 0h2m3 0h2m12 0h0m3 0h0m10 0h0M23 128h0m7 0h0m9 0h0m5 0h1m6 0h0m4 0h0m8 0h1m3 0h0m4 0h0m28 0h0m7 0h0m2 0h0m4 0h1m2 0h4m2 0h0m3 0h0m2 0h1m4 0h0m2 0h0m17 0h0M27 129h0m2 0h0m11 0h0m8 0h0m3 0h2m2 0h0m7 0h0m4 0h0m2 0h1m4 0h0m13 0h0m11 0h2m2 0h0m3 0h1m2 0h0m4 0h1m2 0h0m5 0h0m2 0h0m9 0h0m5 0h0m6 0h0M3 130h0m19 0h0m11 0h0m2 0h0m2 0h0m3 0h0m5 0h0m2 0h1m2 0h1m3 0h1m9 0h0m17 0h0m10 0h0m4 0h0m3 0h1m4 0h1m4 0h2m3 0h1m6 0h1m12 0h1M8 131h0m3 0h0m2 0h0m6 0h1m2 0h0m8 0h0m3 0h1m2 0h0m2 0h2m2 0h0m3 0h0m3 0h2m2 0h0m3 0h0m3 0h0m22 0h1m12 0h1m3 0h0m3 0h1m3 0h1m2 0h4m3 0h0m3 0h2m2 0h0m2 0h2m2 0h2m4 0h0m3 0h1m2 0h0M5 132h0m9 0h0m3 0h0m3 0h0m5 0h0m7 0h0m4 0h0m2 0h0m2 0h0m3 0h1m2 0h0m9 0h1m5 0h1m4 0h0m12 0h0m6 0h0m3 0h0m4 0h1m8 0h0m2 0h0m2 0h0m2 0h2m2 0h1m2 0h2m2 0h0m5 0h0m4 0h1m9 0h1M23 133h0m8 0h0m3 0h0m2 0h0m6 0h0m5 0h1m3 0h0m3 0h0m6 0h0m2 0h0m4 0h0m26 0h0m4 0h0m4 0h0m4 0h0m2 0h1m9 0h0m2 0h4m2 0h0m6 0h1M12 134h0m10 0h0m2 0h0m6 0h0m3 0h0m3 0h0m2 0h1m2 0h2m2 0h1m3 0h0m2 0h0m2 0h0m2 0h1m11 0h0m22 0h0m8 0h0m4 0h1m3 0h8m5 0h2m4 0h1m2 0h0m4 0h0m2 0h0M10 135h0m9 0h0m3 0h0m3 0h0m6 0h0m2 0h0m2 0h0m2 0h1m3 0h0m6 0h0m4 0h2m5 0h0m23 0h0m8 0h0m2 0h0m3 0h0m2 0h1m2 0h0m3 0h2m2 0h5m2 0h1m2 0h0m2 0h0m4 0h0m3 0h0m2 0h0m3 0h0m3 0h0m7 0h0m6 0h0M14 136h0m11 0h2m3 0h0m3 0h0m2 0h0m2 0h3m7 0h0m2 0h0m10 0h1m2 0h0m3 0h0m24 0h0m6 0h3m2 0h0m3 0h5m2 0h0m6 0h3m3 0h2m7 0h1M25 137h0m7 0h0m5 0h4m2 0h0m2 0h0m6 0h0m3 0h0m2 0h0m7 0h0m25 0h0m2 0h0m7 0h4m2 0h1m2 0h5m2 0h0m3 0h3m2 0h1m5 0h0m15 0h0m3 0h0M15 138h0m3 0h0m4 0h0m2 0h0m4 0h1m4 0h0m2 0h2m3 0h1m3 0h3m3 0h0m5 0h1m6 0h0m5 0h0m4 0h0m13 0h0m6 0h0m2 0h0m2 0h1m2 0h1m2 0h2m2 0h0m2 0h5m5 0h0m3 0h0M20 139h1m10 0h1m2 0h0m6 0h1m3 0h0m3 0h0m2 0h1m4 0h1m4 0h0m2 0h0m15 0h0m15 0h1m2 0h0m5 0h0m2 0h1m2 0h0m2 0h1m3 0h1m2 0h1m2 0h5m2 0h0m2 0h0m4 0h0m2 0h0m7 0h0M3 140h0m2 0h1m10 0h0m4 0h0m3 0h0m2 0h1m5 0h4m2 0h1m3 0h0m3 0h0m2 0h1m5 0h0m2 0h0m17 0h0m3 0h0m2 0h0m15 0h0m2 0h0m5 0h2m2 0h1m2 0h4m3 0h5m2 0h0m2 0h2m2 0h0m3 0h2m2 0h0m3 0h0m12 0h0M20 141h1m3 0h0m2 0h0m3 0h3m3 0h0m2 0h0m2 0h2m3 0h0m2 0h0m7 0h0m4 0h0m3 0h0m5 0h0m13 0h0m15 0h0m2 0h1m3 0h1m2 0h0m2 0h0m2 0h1m2 0h0m2 0h0m2 0h2m7 0h2M3 142h1m9 0h0m4 0h3m2 0h0m3 0h1m4 0h1m2 0h4m2 0h0m5 0h0m4 0h0m4 0h1m7 0h0m6 0h0m19 0h0m4 0h0m2 0h1m3 0h3m5 0h1m2 0h0m2 0h1m4 0h5m3 0h1m2 0h2m2 0h0m9 0h0m4 0h0M10 143h0m5 0h0m2 0h0m2 0h0m2 0h0m4 0h0m3 0h5m2 0h0m2 0h2m3 0h6m8 0h0m12 0h0m18 0h0m5 0h0m2 0h0m4 0h1m5 0h0m2 0h0m2 0h4m3 0h2m2 0h0m2 0h1m2 0h1m3 0h0m3 0h1m11 0h0M12 144h0m2 0h2m3 0h2m2 0h0m2 0h0m3 0h0m3 0h2m3 0h3m3 0h0m6 0h4m2 0h1m8 0h0m14 0h0m6 0h0m2 0h1m7 0h2m4 0h1m2 0h1m3 0h6m3 0h3m2 0h1m3 0h2m7 0h1m4 0h0m4 0h1M3 145h0m13 0h0m2 0h4m2 0h1m4 0h1m2 0h6m2 0h0m4 0h0m2 0h4m2 0h0m9 0h0m3 0h1m2 0h0m22 0h0m10 0h6m6 0h0m2 0h3m2 0h3m6 0h1m2 0h0m7 0h0M3 146h0m4 0h0m5 0h0m5 0h2m3 0h1m4 0h1m3 0h0m3 0h1m3 0h3m3 0h0m2 0h1m2 0h0m5 0h0m4 0h0m25 0h0m6 0h0m5 0h3m4 0h4m2 0h1m2 0h0m2 0h1m3 0h0m2 0h1m3 0h1m5 0h0m2 0h0m2 0h0m2 0h0M4 147h0m2 0h1m3 0h0m14 0h3m3 0h5m2 0h1m3 0h5m5 0h0m5 0h2m33 0h2m2 0h0m6 0h2m3 0h1m2 0h1m3 0h3m2 0h1m3 0h5m3 0h0m6 0h0m2 0h0m14 0h0M3 148h1m7 0h0m7 0h1m2 0h2m3 0h0m2 0h0m2 0h0m4 0h2m2 0h1m2 0h1m2 0h2m2 0h1m2 0h0m3 0h0m8 0h0m3 0h1m4 0h0m11 0h0m10 0h0m2 0h1m3 0h3m3 0h9m3 0h2m3 0h4m3 0h1m3 0h1M3 149h1m13 0h1m2 0h0m2 0h2m3 0h3m2 0h1m3 0h1m3 0h8m8 0h0m2 0h0m6 0h0m6 0h0m11 0h0m6 0h1m9 0h0m2 0h0m5 0h0m3 0h3m2 0h1m2 0h2m5 0h0m2 0h3m2 0h1m2 0h0m7 0h0m5 0h0M3 150h0m2 0h1m6 0h4m4 0h0m2 0h0m2 0h0m2 0h7m2 0h2m2 0h0m2 0h0m5 0h1m2 0h0m2 0h0m4 0h0m4 0h0m5 0h0m3 0h0m15 0h0m8 0h2m5 0h0m9 0h2m2 0h0m3 0h0m2 0h3m2 0h3m2 0h0M10 151h0m6 0h0m4 0h0m3 0h2m2 0h2m3 0h9m3 0h1m8 0h0m6 0h0m3 0h0m18 0h0m14 0h3m2 0h0m2 0h0m3 0h5m2 0h2m2 0h4m3 0h0m2 0h0m3 0h0m4 0h0M3 152h0m6 0h0m2 0h0m2 0h1m2 0h2m2 0h1m4 0h0m3 0h3m2 0h0m2 0h7m2 0h1m5 0h0m7 0h0m14 0h0m4 0h1m12 0h2m9 0h0m2 0h0m3 0h1m3 0h1m2 0h2m5 0h1m4 0h0m15 0h1M3 153h1m4 0h1m2 0h0m2 0h0m3 0h1m5 0h0m4 0h0m2 0h2m5 0h0m2 0h0m5 0h0m2 0h2m9 0h0m23 0h0m17 0h4m3 0h0m3 0h0m4 0h0m4 0h2m2 0h2m5 0h1m5 0h0m3 0h0m14 0h0M11 154h0m6 0h1m3 0h1m2 0h2m4 0h0m3 0h1m4 0h1m4 0h1m3 0h0m2 0h1m2 0h0m2 0h1m31 0h0m10 0h0m2 0h0m2 0h0m2 0h1m2 0h4m3 0h2m4 0h1m5 0h0m16 0h0M3 155h0m7 0h0m5 0h0m2 0h0m2 0h1m2 0h1m3 0h0m2 0h2m5 0h0m6 0h1m2 0h4m2 0h1m2 0h0m34 0h0m5 0h0m10 0h8m3 0h0m2 0h2m4 0h0m7 0h0m3 0h0M4 156h0m5 0h0m2 0h0m2 0h0m3 0h0m2 0h2m3 0h0m2 0h3m2 0h0m3 0h6m7 0h2m4 0h2m26 0h0m2 0h0m8 0h0m3 0h0m3 0h0m3 0h2m2 0h0m4 0h0m2 0h0m2 0h0m2 0h3m2 0h2m2 0h0m6 0h0m19 0h0M3 157h0m6 0h0m2 0h0m5 0h0m3 0h0m2 0h0m2 0h0m2 0h0m2 0h0m2 0h0m2 0h1m2 0h3m4 0h0m9 0h0m6 0h0m3 0h0m2 0h0m7 0h0m9 0h0m9 0h0m4 0h0m2 0h0m3 0h2m5 0h0m2 0h2m2 0h1m2 0h3m3 0h1m2 0h1m4 0h0m9 0h0M3 158h0m5 0h0m2 0h0m2 0h0m4 0h1m2 0h0m3 0h0m3 0h1m2 0h5m2 0h0m4 0h1m2 0h0m9 0h0m2 0h0m3 0h0m32 0h0m4 0h0m6 0h0m5 0h0m3 0h1m2 0h0m7 0h0m7 0h0M5 159h0m2 0h0m5 0h0m3 0h0m2 0h3m2 0h0m2 0h0m4 0h1m2 0h0m3 0h3m3 0h0m3 0h0m2 0h2m4 0h0m29 0h0m11 0h0m7 0h0m4 0h1m2 0h0m2 0h1m2 0h2m2 0h0m2 0h0m3 0h0m6 0h0m4 0h0m4 0h0m11 0h0M4 160h1m7 0h0m5 0h1m2 0h2m3 0h0m3 0h2m3 0h0m2 0h4m3 0h0m3 0h0m3 0h0m10 0h0m31 0h0m7 0h0m4 0h1m3 0h0m6 0h1m2 0h1m2 0h1m3 0h1m4 0h0m7 0h0M3 161h1m4 0h0m4 0h0m2 0h1m3 0h0m5 0h0m2 0h0m2 0h1m5 0h0m3 0h0m2 0h0m3 0h0m5 0h0m2 0h0m2 0h0m8 0h0m14 0h0m8 0h0m2 0h0m2 0h0m3 0h0m3 0h0m6 0h0m2 0h0m2 0h0m3 0h1m2 0h1m2 0h1m2 0h1m6 0h2M3 162h0m2 0h2m3 0h1m2 0h3m3 0h0m2 0h1m5 0h0m2 0h1m4 0h0m4 0h0m55 0h0m2 0h0m2 0h0m3 0h1m7 0h0m4 0h2m2 0h1m2 0h0m5 0h1m4 0h0m9 0h0M3 163h0m5 0h0m3 0h0m3 0h0m2 0h2m2 0h0m3 0h0m2 0h0m3 0h0m2 0h1m2 0h0m6 0h1m6 0h1m2 0h0m39 0h1m5 0h0m3 0h0m2 0h0m17 0h3m20 0h0m12 0h0M2 164h0m3 0h0m8 0h1m4 0h0m5 0h0m10 0h1m2 0h0m9 0h0m15 0h0m6 0h0m14 0h0m15 0h0m8 0h2m5 0h0m2 0h0m4 0h2m5 0h0m9 0h0m11 0h0m13 0h0M3 165h0m9 0h0m4 0h0m4 0h0m2 0h0m8 0h0m7 0h0m4 0h0m46 0h0m15 0h1m3 0h0m4 0h0m2 0h2m4 0h0m2 0h0m3 0h0M6 166h0m4 0h0m4 0h1m2 0h0m4 0h0m2 0h0m5 0h1m3 0h0m3 0h0m2 0h0m2 0h1m17 0h0m37 0h0m2 0h0m4 0h0m3 0h0m2 0h0m2 0h0m3 0h1m2 0h2m4 0h1m2 0h0m6 0h0m2 0h0m4 0h1M3 167h0m4 0h0m7 0h3m3 0h0m2 0h0m2 0h0m3 0h0m7 0h0m3 0h0m4 0h0m2 0h0m6 0h0m47 0h1m3 0h0m4 0h1m4 0h0m5 0h0m4 0h0m5 0h1m2 0h0M17 168h2m2 0h0m3 0h1m3 0h0m2 0h0m8 0h1m10 0h0m15 0h0m33 0h0m3 0h0m2 0h1m12 0h0m4 0h0m2 0h1m2 0h0m4 0h0m4 0h0m2 0h0M3 169h0m3 0h0m8 0h0m2 0h0m8 0h2m7 0h0m4 0h0m14 0h0m22 0h0m27 0h0m8 0h0m3 0h0m2 0h0m4 0h2m4 0h0M9 170h0m5 0h0m3 0h0m6 0h0m4 0h2m2 0h0m17 0h0m46 0h0m2 0h0m9 0h0m2 0h0m4 0h1m3 0h0m3 0h0m3 0h0m2 0h0m6 0h0M3 171h1m12 0h0m6 0h1m2 0h0m3 0h1m6 0h0m4 0h0m16 0h0m37 0h0m2 0h0m12 0h0m6 0h0m2 0h1m4 0h0m11 0h0M29 172h0m3 0h0m2 0h0m8 0h1m51 0h0m4 0h0m4 0h0m8 0h4m3 0h0m9 0h1M11 173h0m10 0h0m6 0h0m11 0h0m32 0h0m33 0h1m8 0h0m3 0h0M3 174h0m19 0h0m4 0h0m7 0h0m5 0h0m48 0h0m7 0h0m15 0h0m3 0h0m2 0h0m12 0h0m5 0h0m7 0h0M3 175h0m2 0h0m8 0h1m18 0h0m45 0h0m10 0h0m4 0h0m5 0h0m9 0h0m5 0h0m21 0h0M6 176h0m5 0h0m8 0h0m26 0h0m6 0h0m40 0h0m15 0h0m2 0h0M42 177h0m40 0h0m13 0h0m5 0h0m2 0h0m5 0h0m2 0h0m4 0h0m7 0h0m2 0h0m9 0h0m2 0h0M10 178h0m5 0h0m7 0h0m71 0h0m5 0h0m4 0h0m9 0h0m19 0h0m3 0h0m4 0h0M11 179h0m12 0h0m11 0h0m59 0h0m5 0h0m3 0h0m11 0h0m3 0h0m9 0h0M7 180h1m99 0h0m2 0h0M7 181h0m10 0h0m81 0h0m2 0h0m21 0h0m4 0h0M3 182h0m23 0h0m68 0h0M101 183h0m15 0h0m6 0h0M3 184h0m107 0h0m23 0h0m7 0h0M3 185h0m5 0h1m23 0h0m67 0h0m5 0h0m4 0h0m9 0h0m3 0h0m2 0h1m2 0h0m2 0h0M60 186h0m28 0h0m19 0h0m5 0h3m2 0h1m5 0h2m5 0h0m10 0h0M4 187h0m22 0h0m23 0h0m2 0h0m17 0h0m21 0h0m2 0h0m4 0h0m4 0h0m2 0h0m6 0h1m3 0h1m2 0h19m3 0h3m2 0h1m2 0h0m2 0h0m6 0h0m4 0h0M2 188h0m20 0h0m52 0h0m28 0h0m3 0h0m4 0h0m2 0h0m5 0h0m8 0h0m3 0h0m13 0h0" stroke="#000" stroke-width="1.6" stroke-linecap="square" fill="none"/></g>
<rect x="72" y="285.5" width="117" height="95.0" fill="none" stroke="#111" stroke-width="1.1"/>
<path d="M109.2 285.5V380.5M72 344.8H189" stroke="#111" stroke-width="1.2" fill="none"/>
<path d="M72.0 380.5v2.5M72 380.5h-2.5M80.8 380.5v1.4M72 373.4h-1.4M86.0 380.5v1.4M72 369.2h-1.4M89.6 380.5v1.4M72 366.2h-1.4M92.4 380.5v1.4M72 363.9h-1.4M94.8 380.5v1.4M72 362.0h-1.4M96.7 380.5v1.4M72 360.4h-1.4M98.4 380.5v1.4M72 359.1h-1.4M99.9 380.5v1.4M72 357.8h-1.4M101.2 380.5v2.5M72 356.8h-2.5M110.1 380.5v1.4M72 349.6h-1.4M115.2 380.5v1.4M72 345.4h-1.4M118.9 380.5v1.4M72 342.5h-1.4M121.7 380.5v1.4M72 340.1h-1.4M124.0 380.5v1.4M72 338.3h-1.4M126.0 380.5v1.4M72 336.7h-1.4M127.7 380.5v1.4M72 335.3h-1.4M129.2 380.5v1.4M72 334.1h-1.4M130.5 380.5v2.5M72 333.0h-2.5M139.3 380.5v1.4M72 325.9h-1.4M144.5 380.5v1.4M72 321.7h-1.4M148.1 380.5v1.4M72 318.7h-1.4M150.9 380.5v1.4M72 316.4h-1.4M153.3 380.5v1.4M72 314.5h-1.4M155.2 380.5v1.4M72 312.9h-1.4M156.9 380.5v1.4M72 311.6h-1.4M158.4 380.5v1.4M72 310.3h-1.4M159.8 380.5v2.5M72 309.2h-2.5M168.6 380.5v1.4M72 302.1h-1.4M173.7 380.5v1.4M72 297.9h-1.4M177.4 380.5v1.4M72 295.0h-1.4M180.2 380.5v1.4M72 292.6h-1.4M182.5 380.5v1.4M72 290.8h-1.4M184.5 380.5v1.4M72 289.2h-1.4M186.2 380.5v1.4M72 287.8h-1.4M187.7 380.5v1.4M72 286.6h-1.4M189 380.5v2.5M72 285.5h-2.5" stroke="#222" stroke-width="0.55" fill="none"/>
<text transform="translate(68.7 390.5) scale(0.9 1)" font-family="Liberation Sans, sans-serif" font-weight="bold" font-size="6.9" fill="#111">10<tspan dy="-2.7" font-size="5.9">0</tspan></text>
<text transform="translate(67.0 384.3) rotate(-90) scale(0.9 1)" font-family="Liberation Sans, sans-serif" font-weight="bold" font-size="6.9" fill="#111">10<tspan dy="-2.7" font-size="5.9">0</tspan></text>
<text transform="translate(98.0 390.5) scale(0.9 1)" font-family="Liberation Sans, sans-serif" font-weight="bold" font-size="6.9" fill="#111">10<tspan dy="-2.7" font-size="5.9">1</tspan></text>
<text transform="translate(67.0 360.6) rotate(-90) scale(0.9 1)" font-family="Liberation Sans, sans-serif" font-weight="bold" font-size="6.9" fill="#111">10<tspan dy="-2.7" font-size="5.9">1</tspan></text>
<text transform="translate(127.2 390.5) scale(0.9 1)" font-family="Liberation Sans, sans-serif" font-weight="bold" font-size="6.9" fill="#111">10<tspan dy="-2.7" font-size="5.9">2</tspan></text>
<text transform="translate(67.0 336.8) rotate(-90) scale(0.9 1)" font-family="Liberation Sans, sans-serif" font-weight="bold" font-size="6.9" fill="#111">10<tspan dy="-2.7" font-size="5.9">2</tspan></text>
<text transform="translate(156.4 390.5) scale(0.9 1)" font-family="Liberation Sans, sans-serif" font-weight="bold" font-size="6.9" fill="#111">10<tspan dy="-2.7" font-size="5.9">3</tspan></text>
<text transform="translate(67.0 313.1) rotate(-90) scale(0.9 1)" font-family="Liberation Sans, sans-serif" font-weight="bold" font-size="6.9" fill="#111">10<tspan dy="-2.7" font-size="5.9">3</tspan></text>
<text transform="translate(185.7 390.5) scale(0.9 1)" font-family="Liberation Sans, sans-serif" font-weight="bold" font-size="6.9" fill="#111">10<tspan dy="-2.7" font-size="5.9">4</tspan></text>
<text transform="translate(67.0 289.3) rotate(-90) scale(0.9 1)" font-family="Liberation Sans, sans-serif" font-weight="bold" font-size="6.9" fill="#111">10<tspan dy="-2.7" font-size="5.9">4</tspan></text>
<text x="131.0" y="396.8" text-anchor="middle" font-family="Liberation Sans, sans-serif" font-weight="bold" font-size="5.8" fill="#111">FL1-H</text>
<text transform="translate(60.7 334.5) rotate(-90)" text-anchor="middle" font-family="Liberation Sans, sans-serif" font-weight="bold" font-size="5.8" fill="#111">FL2-H</text>
<text transform="translate(107 304.4) scale(0.91 1)" text-anchor="end" font-family="Liberation Serif, serif" font-size="10.7" fill="#111">25.8%</text>
<text transform="translate(184 304.4) scale(0.91 1)" text-anchor="end" font-family="Liberation Serif, serif" font-size="10.7" fill="#111">8.7%</text>
<text transform="translate(189.5 362) scale(0.91 1)" text-anchor="end" font-family="Liberation Serif, serif" font-size="10.7" fill="#111">32.6%</text>
<g transform="translate(223.4 285.4) scale(0.5)"><path d="M130 62h0M28 66h0M28 71h0m18 0h0M85 75h0M69 76h0M70 77h0m13 0h0M121 80h0M41 81h0m27 0h0M46 82h0m13 0h0M44 83h0m141 0h0M37 84h0m36 0h0M98 85h0m11 0h0M23 86h0m17 0h0m31 0h0M43 87h0m2 0h0m3 0h1m2 0h0m37 0h0m30 0h0M37 88h0m10 0h0m6 0h0m5 0h0m13 0h0m35 0h0M21 89h0m24 0h0m4 0h0m4 0h0m7 0h0m2 0h1M34 90h0m3 0h0m3 0h0m8 0h1m2 0h0m3 0h0m11 0h1m8 0h0M37 91h2m4 0h0m5 0h0m9 0h0m4 0h0m2 0h0m20 0h0m2 0h0m35 0h0M44 92h2m9 0h1m2 0h0m5 0h0m2 0h0m17 0h0m33 0h0m4 0h0m14 0h0M24 93h0m19 0h0m3 0h0m4 0h0m2 0h0m4 0h2m6 0h0m3 0h0m4 0h0m2 0h0m8 0h0m4 0h0m4 0h0m17 0h0m4 0h0m5 0h0M26 94h0m4 0h0m3 0h0m9 0h0m3 0h0m4 0h1m7 0h1m3 0h0m4 0h0m12 0h1m19 0h0M24 95h0m8 0h0m6 0h0m3 0h2m4 0h1m4 0h1m4 0h0m3 0h0m3 0h1m38 0h0m12 0h0M25 96h0m7 0h1m2 0h0m2 0h3m2 0h0m3 0h1m3 0h0m4 0h0m3 0h0m2 0h2m6 0h1m8 0h0m2 0h1m10 0h0m6 0h0m22 0h0m2 0h0m2 0h0M27 97h1m3 0h0m5 0h1m2 0h0m2 0h0m3 0h3m2 0h0m5 0h0m2 0h4m4 0h1m3 0h0m4 0h0m2 0h1m8 0h0m3 0h0m3 0h0m21 0h0m3 0h0m38 0h0M21 98h0m9 0h0m7 0h0m5 0h0m4 0h0m3 0h0m2 0h1m2 0h0m5 0h0m2 0h2m2 0h0m2 0h0m5 0h0m5 0h1m11 0h0m3 0h0m14 0h0M26 99h0m6 0h0m2 0h0m3 0h1m2 0h3m2 0h5m2 0h1m2 0h0m2 0h0m4 0h1m2 0h0m4 0h0m4 0h1m3 0h0m77 0h0M32 100h1m2 0h0m2 0h3m3 0h1m2 0h1m2 0h3m2 0h0m2 0h0m2 0h1m7 0h1m2 0h0m32 0h0m17 0h0M33 101h0m4 0h0m2 0h1m2 0h6m3 0h1m2 0h3m3 0h0m4 0h0m4 0h0m6 0h0m11 0h0m4 0h0m5 0h0m3 0h0m10 0h1m3 0h0M22 102h0m7 0h1m3 0h1m3 0h0m3 0h2m3 0h4m2 0h2m2 0h2m2 0h0m3 0h1m2 0h2m2 0h0m4 0h0m2 0h0m5 0h0m8 0h0m16 0h0m3 0h0m8 0h0M22 103h0m9 0h0m2 0h0m2 0h1m2 0h0m3 0h1m3 0h0m6 0h1m4 0h1m2 0h3m11 0h0m6 0h0m17 0h1m4 0h0m4 0h0m3 0h0m5 0h0m11 0h0m12 0h0M23 104h0m4 0h0m3 0h2m2 0h0m3 0h2m3 0h2m2 0h2m2 0h9m3 0h2m2 0h1m2 0h0m4 0h0m2 0h0m4 0h0m11 0h0m2 0h0m7 0h0m2 0h1m10 0h0M12 105h0m16 0h0m4 0h0m2 0h2m2 0h0m2 0h0m2 0h6m2 0h1m2 0h3m2 0h0m2 0h0m3 0h0m2 0h0m2 0h1m2 0h1m7 0h0m10 0h1m8 0h0m4 0h0m6 0h0m12 0h0m2 0h0M27 106h1m7 0h1m2 0h0m3 0h3m2 0h1m2 0h6m2 0h0m3 0h0m4 0h1m2 0h2m2 0h0m9 0h0m9 0h0m6 0h0m7 0h0m8 0h0m5 0h0m20 0h0M26 107h3m2 0h0m2 0h0m4 0h0m2 0h6m2 0h1m2 0h4m2 0h5m4 0h0m8 0h0m8 0h0m4 0h0m2 0h0m5 0h0m8 0h0m3 0h0m5 0h1m2 0h0M25 108h0m4 0h1m4 0h1m2 0h2m2 0h2m2 0h3m2 0h1m2 0h0m3 0h0m3 0h1m2 0h1m5 0h0m9 0h1m5 0h0m4 0h0m12 0h0m7 0h0m7 0h0m15 0h0M12 109h0m11 0h1m5 0h2m4 0h0m2 0h0m2 0h3m3 0h10m3 0h1m4 0h0m2 0h0m4 0h3m12 0h0m23 0h0m2 0h0m13 0h0m3 0h0M18 110h0m6 0h0m13 0h1m3 0h3m3 0h9m2 0h1m3 0h0m2 0h0m2 0h0m2 0h0m2 0h0m2 0h1m2 0h0m11 0h1m11 0h0M22 111h0m6 0h3m4 0h2m2 0h5m2 0h7m3 0h0m3 0h1m6 0h0m2 0h0m10 0h0m2 0h0m12 0h1m12 0h0m9 0h0M22 112h0m6 0h0m9 0h1m2 0h0m3 0h2m2 0h4m3 0h5m5 0h0m2 0h0m2 0h0m2 0h1m3 0h0m7 0h0m14 0h0m5 0h0m4 0h0m2 0h0m2 0h0m2 0h0m10 0h0M17 113h0m5 0h0m4 0h1m4 0h2m4 0h0m2 0h2m2 0h1m2 0h2m3 0h0m2 0h1m2 0h0m2 0h4m2 0h0m2 0h0m6 0h0m4 0h0m11 0h0m9 0h0m17 0h0m6 0h0M17 114h0m12 0h0m2 0h0m3 0h5m2 0h5m3 0h5m3 0h0m2 0h2m2 0h0m10 0h2m2 0h0m16 0h0m3 0h0m11 0h1m19 0h0M21 115h0m4 0h0m2 0h0m2 0h1m3 0h0m3 0h0m3 0h8m2 0h4m2 0h0m2 0h1m2 0h0m3 0h1m7 0h0m12 0h0m9 0h0m12 0h0m10 0h0m29 0h0M25 116h0m4 0h0m6 0h1m2 0h0m2 0h2m2 0h2m3 0h0m3 0h0m3 0h1m3 0h4m2 0h0m2 0h0m2 0h0m4 0h1m7 0h0m5 0h2m4 0h0m7 0h0m7 0h0m15 0h0M3 117h0m19 0h0m3 0h1m5 0h1m4 0h1m2 0h0m4 0h0m3 0h0m3 0h0m2 0h2m2 0h0m4 0h2m5 0h0m2 0h0m23 0h0m5 0h0m4 0h0M22 118h1m12 0h0m2 0h0m2 0h1m2 0h0m2 0h2m2 0h2m3 0h1m2 0h1m2 0h0m2 0h0m2 0h0m11 0h0m4 0h1m9 0h0m12 0h0M29 119h0m2 0h1m10 0h0m5 0h10m2 0h0m7 0h0m6 0h0m20 0h0m7 0h0M11 120h0m16 0h0m5 0h2m2 0h0m2 0h1m2 0h1m3 0h1m4 0h2m2 0h0m3 0h0m2 0h0m5 0h0m4 0h0m3 0h0m2 0h0m2 0h0m5 0h0m10 0h0m16 0h0M15 121h1m20 0h0m4 0h1m3 0h1m2 0h0m3 0h0m2 0h2m2 0h1m3 0h1m5 0h0m2 0h0m6 0h0m2 0h0m6 0h0m5 0h3m8 0h0m16 0h0m20 0h0M25 122h1m3 0h1m8 0h1m2 0h0m2 0h1m2 0h0m2 0h0m6 0h3m3 0h0m4 0h0m2 0h0m5 0h0m17 0h0m4 0h0m2 0h0m19 0h0M23 123h0m3 0h0m4 0h0m2 0h0m2 0h2m2 0h1m8 0h1m3 0h0m8 0h0m4 0h0m5 0h0m9 0h0m10 0h0m10 0h0m7 0h0m3 0h0m6 0h0m19 0h0m22 0h0M35 124h0m4 0h0m3 0h0m6 0h1m3 0h0m3 0h0m5 0h0m2 0h2m9 0h0m5 0h0m9 0h0m24 0h0M15 125h0m8 0h0m12 0h1m2 0h1m2 0h0m4 0h0m3 0h1m2 0h0m6 0h0m5 0h1M15 126h0m20 0h0m9 0h1m3 0h2m5 0h1m2 0h0m9 0h0m4 0h0m10 0h0m2 0h0m3 0h0m9 0h0m11 0h0M16 127h0m9 0h0m7 0h0m10 0h2m10 0h0m6 0h0m16 0h0m34 0h0m5 0h0M17 128h0m5 0h0m8 0h0m16 0h0m8 0h0m7 0h0m5 0h0m2 0h0m7 0h0m4 0h0m13 0h0m8 0h0m5 0h0M3 129h0m10 0h0m23 0h0m3 0h1m6 0h0m2 0h1m4 0h1m7 0h0m4 0h0m8 0h0m11 0h0m7 0h0m6 0h2m2 0h0m13 0h0m27 0h0m32 0h0M9 130h0m16 0h0m7 0h0m2 0h0m2 0h1m4 0h2m2 0h0m6 0h1m4 0h0m3 0h0m18 0h0m14 0h0m2 0h0m2 0h0m15 0h0M21 131h1m3 0h0m4 0h0m4 0h0m5 0h1m2 0h0m2 0h0m3 0h0m3 0h0m2 0h0m20 0h0m9 0h0m3 0h0m7 0h0m6 0h0m5 0h0m7 0h1M17 132h0m11 0h0m2 0h0m8 0h0m7 0h4m4 0h1m9 0h0m6 0h0m4 0h0m5 0h0m4 0h0m5 0h0m3 0h0m17 0h0m2 0h0M21 133h0m6 0h1m4 0h1m14 0h2m3 0h1m5 0h0m4 0h0m7 0h0m5 0h0m2 0h2m11 0h0m12 0h2M20 134h0m11 0h0m4 0h0m3 0h1m3 0h0m3 0h1m7 0h0m3 0h0m10 0h0m4 0h0m5 0h0m3 0h0m10 0h0m7 0h0m4 0h0m8 0h3M3 135h0m4 0h0m13 0h0m14 0h0m2 0h0m10 0h1m3 0h1m3 0h1m5 0h0m20 0h0m2 0h0m4 0h0m7 0h1m3 0h1m2 0h0m15 0h0m6 0h0m4 0h0m36 0h0M2 136h0m2 0h0m13 0h0m3 0h0m8 0h0m2 0h2m4 0h0m2 0h0m4 0h1m3 0h0m2 0h0m5 0h0m2 0h0m2 0h1m5 0h0m4 0h0m6 0h0m3 0h0m10 0h0m4 0h0m3 0h0m5 0h0m3 0h1m18 0h0M14 137h0m6 0h0m5 0h1m4 0h0m4 0h0m4 0h0m7 0h0m2 0h0m5 0h1m6 0h0m2 0h1m2 0h1m6 0h0m3 0h0m3 0h3m3 0h0m7 0h1m4 0h0m4 0h2m3 0h0m6 0h0M3 138h0m17 0h0m6 0h1m2 0h1m4 0h1m3 0h0m6 0h0m2 0h0m4 0h1m2 0h1m2 0h2m3 0h0m3 0h1m2 0h0m4 0h0m6 0h0m4 0h0m2 0h4m5 0h2M15 139h0m5 0h0m7 0h0m2 0h0m2 0h1m3 0h0m13 0h3m3 0h1m3 0h0m2 0h0m8 0h0m8 0h0m10 0h3m2 0h0m2 0h0m6 0h0m4 0h0m5 0h1m2 0h0m31 0h0M3 140h0m14 0h0m6 0h0m3 0h0m5 0h0m2 0h0m7 0h0m2 0h0m7 0h0m2 0h1m5 0h0m2 0h3m3 0h0m3 0h0m2 0h1m3 0h0m2 0h2m5 0h5m2 0h0m3 0h0m4 0h0m10 0h0m5 0h0M10 141h0m2 0h0m6 0h0m3 0h1m8 0h0m2 0h1m2 0h0m3 0h1m3 0h0m2 0h1m2 0h0m2 0h6m3 0h1m3 0h2m2 0h0m10 0h0m3 0h0m5 0h0m2 0h1m7 0h0m3 0h1m7 0h0m4 0h1m4 0h0m2 0h0M5 142h0m6 0h0m6 0h0m2 0h0m4 0h0m4 0h1m2 0h1m3 0h1m2 0h0m3 0h1m2 0h2m2 0h0m2 0h0m3 0h0m3 0h0m2 0h2m2 0h0m2 0h5m4 0h0m2 0h3m7 0h1m4 0h1m3 0h1m8 0h0m4 0h1m3 0h0m5 0h1m17 0h0M5 143h0m12 0h0m3 0h0m3 0h0m15 0h0m3 0h3m2 0h0m2 0h0m7 0h0m3 0h0m7 0h0m2 0h0m3 0h1m6 0h0m2 0h1m4 0h0m2 0h0m5 0h0m3 0h0m3 0h1m2 0h0m8 0h0m10 0h0M12 144h0m5 0h0m2 0h1m6 0h0m2 0h1m3 0h0m3 0h0m2 0h0m2 0h1m2 0h0m4 0h0m2 0h3m2 0h1m9 0h0m3 0h0m3 0h2m2 0h3m4 0h0m3 0h0m3 0h0m2 0h1m2 0h1m2 0h2m2 0h0m2 0h0m2 0h0m2 0h0m2 0h1m4 0h0m2 0h0M9 145h0m4 0h0m5 0h0m11 0h2m2 0h2m3 0h3m2 0h0m2 0h12m2 0h1m4 0h0m6 0h0m4 0h0m6 0h1m4 0h0m3 0h1m2 0h2m4 0h0m4 0h0m2 0h0m2 0h1m3 0h1m3 0h0M15 146h0m2 0h0m3 0h0m4 0h0m2 0h1m4 0h2m3 0h5m2 0h0m3 0h3m2 0h0m3 0h2m3 0h1m2 0h1m3 0h0m2 0h3m3 0h1m2 0h0m3 0h0m2 0h0m2 0h2m2 0h0m3 0h1m8 0h1m5 0h0m2 0h1m2 0h0m2 0h0m5 0h0m14 0h0m18 0h0m12 0h0M3 147h0m8 0h0m4 0h3m9 0h1m2 0h1m3 0h5m2 0h0m3 0h2m2 0h5m3 0h1m3 0h0m2 0h1m2 0h3m11 0h0m3 0h3m2 0h1m2 0h0m2 0h0m4 0h0m2 0h0m2 0h1m2 0h0m3 0h0m3 0h0m10 0h0M7 148h0m14 0h0m6 0h1m4 0h0m3 0h0m3 0h2m2 0h4m2 0h0m2 0h1m4 0h0m2 0h0m2 0h1m3 0h4m2 0h0m5 0h2m2 0h1m2 0h2m2 0h0m3 0h3m5 0h1m2 0h1m2 0h0m3 0h0m7 0h1m6 0h1m20 0h0M3 149h0m11 0h0m3 0h0m2 0h0m2 0h0m7 0h2m3 0h0m2 0h3m3 0h0m2 0h2m2 0h0m2 0h0m2 0h1m3 0h3m4 0h1m2 0h0m3 0h1m2 0h7m2 0h1m4 0h1m2 0h4m3 0h0m3 0h0m2 0h0m5 0h0m4 0h0m2 0h0m3 0h0m2 0h0m36 0h0M5 150h0m2 0h0m2 0h2m7 0h0m3 0h1m3 0h0m3 0h1m2 0h4m2 0h6m2 0h2m2 0h3m3 0h1m2 0h1m2 0h0m8 0h2m3 0h0m4 0h1m3 0h0m2 0h1m5 0h2m4 0h1m2 0h4m3 0h1m4 0h1m2 0h0M7 151h0m4 0h0m2 0h0m4 0h0m8 0h0m2 0h1m3 0h5m2 0h3m2 0h2m2 0h1m5 0h0m2 0h2m3 0h0m4 0h0m4 0h1m6 0h1m3 0h2m2 0h2m2 0h0m3 0h2m3 0h0m4 0h1m2 0h0m2 0h0m2 0h0m4 0h0m2 0h0m2 0h0m5 0h0m2 0h0m9 0h0M8 152h0m5 0h0m8 0h0m4 0h2m2 0h0m2 0h0m2 0h4m3 0h1m3 0h0m3 0h0m2 0h0m2 0h3m2 0h1m6 0h2m3 0h2m2 0h0m3 0h5m3 0h0m2 0h2m4 0h3m2 0h0m2 0h0m2 0h0m2 0h1m3 0h0m2 0h2m4 0h1m4 0h1m13 0h0m5 0h0m2 0h0M3 153h0m10 0h0m6 0h0m4 0h0m4 0h2m2 0h0m3 0h0m2 0h2m3 0h3m3 0h0m2 0h3m2 0h0m2 0h0m3 0h0m2 0h0m3 0h0m4 0h3m4 0h0m2 0h2m3 0h0m2 0h1m2 0h0m2 0h0m2 0h1m4 0h0m2 0h0m2 0h1m2 0h0m3 0h0m4 0h1m3 0h0m4 0h0m5 0h0m16 0h0m28 0h0m7 0h0M22 154h0m5 0h1m3 0h0m3 0h0m3 0h1m2 0h1m3 0h2m2 0h0m2 0h0m2 0h1m2 0h0m2 0h2m3 0h0m3 0h1m3 0h0m2 0h3m3 0h1m2 0h6m4 0h0m5 0h4m2 0h1m2 0h0m2 0h2m5 0h0m8 0h0M3 155h1m7 0h0m17 0h1m2 0h1m2 0h0m2 0h3m2 0h2m2 0h1m2 0h0m3 0h2m5 0h0m2 0h0m5 0h1m2 0h2m2 0h4m2 0h2m3 0h6m6 0h2m2 0h0m4 0h1m2 0h0m3 0h1m6 0h1m5 0h0m3 0h0m4 0h0m7 0h0m11 0h0M3 156h0m16 0h3m2 0h0m5 0h4m2 0h1m2 0h0m2 0h0m2 0h0m2 0h3m5 0h0m2 0h3m2 0h1m2 0h0m2 0h1m2 0h0m4 0h0m4 0h2m2 0h1m3 0h0m4 0h1m3 0h0m2 0h0m2 0h0m2 0h0m2 0h2m3 0h0m9 0h0m8 0h0m5 0h1M12 157h0m2 0h0m17 0h0m2 0h3m3 0h0m2 0h0m2 0h2m2 0h0m3 0h3m2 0h3m3 0h0m2 0h0m3 0h1m4 0h0m2 0h0m5 0h1m2 0h1m3 0h1m5 0h0m2 0h1m2 0h0m5 0h1m4 0h2m3 0h0m4 0h2m11 0h0M3 158h0m10 0h0m2 0h0m2 0h0m3 0h0m3 0h0m2 0h0m6 0h1m2 0h0m5 0h0m2 0h0m6 0h0m2 0h0m3 0h2m10 0h0m2 0h0m2 0h2m3 0h0m7 0h0m7 0h0m2 0h0m2 0h0m4 0h2m2 0h1m2 0h0m3 0h0m2 0h1m9 0h0m7 0h0m12 0h0M18 159h0m3 0h0m3 0h1m5 0h3m2 0h0m3 0h1m2 0h2m2 0h0m2 0h2m5 0h0m5 0h1m2 0h1m3 0h0m3 0h2m2 0h0m5 0h0m8 0h0m2 0h0m2 0h1m3 0h3m2 0h0m6 0h0m3 0h0m3 0h0m6 0h0m2 0h0m8 0h0m16 0h1m12 0h0M4 160h1m6 0h1m2 0h0m4 0h0m8 0h1m3 0h0m4 0h1m5 0h2m2 0h0m2 0h0m3 0h4m2 0h0m5 0h2m3 0h0m2 0h0m3 0h1m5 0h0m3 0h0m3 0h0m2 0h1m3 0h2m4 0h1m2 0h2m3 0h1m24 0h0m11 0h0M21 161h1m3 0h1m4 0h0m4 0h1m2 0h1m3 0h0m2 0h0m3 0h0m3 0h1m7 0h0m2 0h0m2 0h2m2 0h0m2 0h0m3 0h0m3 0h1m2 0h0m6 0h1m2 0h0m2 0h0m2 0h0m3 0h3m2 0h0m3 0h0m3 0h0m4 0h1m4 0h0m4 0h0M7 162h0m14 0h0m2 0h0m4 0h0m2 0h0m6 0h0m2 0h0m3 0h1m5 0h0m2 0h0m2 0h0m3 0h0m4 0h1m13 0h0m2 0h0m5 0h2m2 0h0m2 0h4m2 0h0m4 0h2m2 0h1m3 0h1m5 0h2m4 0h2m7 0h0m3 0h0m16 0h0M17 163h0m8 0h0m5 0h0m2 0h1m2 0h0m4 0h0m4 0h4m3 0h1m4 0h1m6 0h0m2 0h2m2 0h2m3 0h2m4 0h0m3 0h0m2 0h1m3 0h3m2 0h3m20 0h0m7 0h0M4 164h0m20 0h0m9 0h0m6 0h0m5 0h0m2 0h0m7 0h2m3 0h0m7 0h1m4 0h1m2 0h1m3 0h0m3 0h0m2 0h0m3 0h0m2 0h0m2 0h0m2 0h2m2 0h1m5 0h0m3 0h1m6 0h1m5 0h0m2 0h1m14 0h0m18 0h0M19 165h0m2 0h0m8 0h0m11 0h3m2 0h0m2 0h0m4 0h0m5 0h1m4 0h0m2 0h0m2 0h0m5 0h2m2 0h0m5 0h0m5 0h5m3 0h0m2 0h0m2 0h1m3 0h0m2 0h1m6 0h0m4 0h0m2 0h0m12 0h0M19 166h0m4 0h0m6 0h0m2 0h0m3 0h1m3 0h2m3 0h0m2 0h0m2 0h2m6 0h0m3 0h1m5 0h1m2 0h2m2 0h0m5 0h0m4 0h0m6 0h1m3 0h1m2 0h0m4 0h0m5 0h1m3 0h0m8 0h0m2 0h0m28 0h0M13 167h0m16 0h0m3 0h1m3 0h1m8 0h0m10 0h0m2 0h1m6 0h0m9 0h2m4 0h0m2 0h0m3 0h0m7 0h0m3 0h0m6 0h0m2 0h0m6 0h0m4 0h1m6 0h1m9 0h0M29 168h0m6 0h1m7 0h2m3 0h1m2 0h0m7 0h0m3 0h0m11 0h0m3 0h0m3 0h1m2 0h0m2 0h0m2 0h0m2 0h1m2 0h1m3 0h1m2 0h1m3 0h1M13 169h0m3 0h0m2 0h0m2 0h0m14 0h0m7 0h1m2 0h0m4 0h2m6 0h1m8 0h1m3 0h0m3 0h0m5 0h0m4 0h0m4 0h1m5 0h0m3 0h2m9 0h0m13 0h0m3 0h0m8 0h0M17 170h0m9 0h0m5 0h0m2 0h0m7 0h0m2 0h4m5 0h0m2 0h0m6 0h0m4 0h0m2 0h0m2 0h0m5 0h1m8 0h0m6 0h0m2 0h0m2 0h0m2 0h0m2 0h1m6 0h0m2 0h0m5 0h0m5 0h0m9 0h0m7 0h0m6 0h0M23 171h0m6 0h0m11 0h0m16 0h0m2 0h0m2 0h1m9 0h0m6 0h0m4 0h0m4 0h0m8 0h0m5 0h0m18 0h0m4 0h0m8 0h0m2 0h0M18 172h0m11 0h0m15 0h0m3 0h0m4 0h0m2 0h0m13 0h1m6 0h0m2 0h0m4 0h0m2 0h1m2 0h0m2 0h1m6 0h0m6 0h0m6 0h0m9 0h0m13 0h0M14 173h0m31 0h0m2 0h0m2 0h0m2 0h2m2 0h0m23 0h1m8 0h0m5 0h1m12 0h0m12 0h0m2 0h1M28 174h0m9 0h0m9 0h1m2 0h1m2 0h0m4 0h0m11 0h0m4 0h0m8 0h0m3 0h2m6 0h0m9 0h0m11 0h0m10 0h0m3 0h0M35 175h0m4 0h0m3 0h0m7 0h1m8 0h0m14 0h0m6 0h1m4 0h0m11 0h0m4 0h0m2 0h0m4 0h0m4 0h0m4 0h0m19 0h0M27 176h0m10 0h0m2 0h1m9 0h0m2 0h0m18 0h0m38 0h0M35 177h0m6 0h0m14 0h0m3 0h0m13 0h0m5 0h0m13 0h0m2 0h0m3 0h0m2 0h0m11 0h1m5 0h0M39 178h0m2 0h0m5 0h0m28 0h0m10 0h0m7 0h0m8 0h0m14 0h0m5 0h0m3 0h0m5 0h0M48 179h1m9 0h0m16 0h0m12 0h0m13 0h0m9 0h0m2 0h0m9 0h1M63 180h0m6 0h0m11 0h0m7 0h0m2 0h0m8 0h1m3 0h1m4 0h0m2 0h0m13 0h0M22 181h0m6 0h0m22 0h0m24 0h0m18 0h0m2 0h0m5 0h0m15 0h0m16 0h0m10 0h0M112 182h0m5 0h1m6 0h0m9 0h0m5 0h0M2 183h0m78 0h0m21 0h0m7 0h0m2 0h1m3 0h0M25 184h0m55 0h0m32 0h0m3 0h0m8 0h1M93 185h0m14 0h0m2 0h0m3 0h1m4 0h1m4 0h0m3 0h0m4 0h0m12 0h0M4 186h0m88 0h0m3 0h0m4 0h0m7 0h0m2 0h0m3 0h0m11 0h1m2 0h0m9 0h0m7 0h0M21 187h0m21 0h0m25 0h0m27 0h2m2 0h1m10 0h0m4 0h3m9 0h0m23 0h0M40 188h0m37 0h0m7 0h0m9 0h0m8 0h0m2 0h1m4 0h0m15 0h0m17 0h0m3 0h0" stroke="#000" stroke-width="1.6" stroke-linecap="square" fill="none"/></g>
<rect x="223.4" y="285.4" width="114.79999999999998" height="95.10000000000002" fill="none" stroke="#111" stroke-width="1.1"/>
<path d="M259.4 285.4V380.5M223.4 350.1H338.2" stroke="#111" stroke-width="1.2" fill="none"/>
<path d="M223.4 380.5v2.5M223.4 380.5h-2.5M232.0 380.5v1.4M223.4 373.3h-1.4M237.1 380.5v1.4M223.4 369.2h-1.4M240.7 380.5v1.4M223.4 366.2h-1.4M243.5 380.5v1.4M223.4 363.9h-1.4M245.7 380.5v1.4M223.4 362.0h-1.4M247.7 380.5v1.4M223.4 360.4h-1.4M249.3 380.5v1.4M223.4 359.0h-1.4M250.8 380.5v1.4M223.4 357.8h-1.4M252.1 380.5v2.5M223.4 356.7h-2.5M260.7 380.5v1.4M223.4 349.6h-1.4M265.8 380.5v1.4M223.4 345.4h-1.4M269.4 380.5v1.4M223.4 342.4h-1.4M272.2 380.5v1.4M223.4 340.1h-1.4M274.4 380.5v1.4M223.4 338.2h-1.4M276.4 380.5v1.4M223.4 336.6h-1.4M278.0 380.5v1.4M223.4 335.3h-1.4M279.5 380.5v1.4M223.4 334.0h-1.4M280.8 380.5v2.5M223.4 332.9h-2.5M289.4 380.5v1.4M223.4 325.8h-1.4M294.5 380.5v1.4M223.4 321.6h-1.4M298.1 380.5v1.4M223.4 318.6h-1.4M300.9 380.5v1.4M223.4 316.3h-1.4M303.1 380.5v1.4M223.4 314.4h-1.4M305.1 380.5v1.4M223.4 312.9h-1.4M306.7 380.5v1.4M223.4 311.5h-1.4M308.2 380.5v1.4M223.4 310.3h-1.4M309.5 380.5v2.5M223.4 309.2h-2.5M318.1 380.5v1.4M223.4 302.0h-1.4M323.2 380.5v1.4M223.4 297.8h-1.4M326.8 380.5v1.4M223.4 294.9h-1.4M329.6 380.5v1.4M223.4 292.6h-1.4M331.8 380.5v1.4M223.4 290.7h-1.4M333.8 380.5v1.4M223.4 289.1h-1.4M335.4 380.5v1.4M223.4 287.7h-1.4M336.9 380.5v1.4M223.4 286.5h-1.4M338.2 380.5v2.5M223.4 285.4h-2.5" stroke="#222" stroke-width="0.55" fill="none"/>
<text transform="translate(220.1 390.5) scale(0.9 1)" font-family="Liberation Sans, sans-serif" font-weight="bold" font-size="6.9" fill="#111">10<tspan dy="-2.7" font-size="5.9">0</tspan></text>
<text transform="translate(218.4 384.3) rotate(-90) scale(0.9 1)" font-family="Liberation Sans, sans-serif" font-weight="bold" font-size="6.9" fill="#111">10<tspan dy="-2.7" font-size="5.9">0</tspan></text>
<text transform="translate(248.8 390.5) scale(0.9 1)" font-family="Liberation Sans, sans-serif" font-weight="bold" font-size="6.9" fill="#111">10<tspan dy="-2.7" font-size="5.9">1</tspan></text>
<text transform="translate(218.4 360.5) rotate(-90) scale(0.9 1)" font-family="Liberation Sans, sans-serif" font-weight="bold" font-size="6.9" fill="#111">10<tspan dy="-2.7" font-size="5.9">1</tspan></text>
<text transform="translate(277.5 390.5) scale(0.9 1)" font-family="Liberation Sans, sans-serif" font-weight="bold" font-size="6.9" fill="#111">10<tspan dy="-2.7" font-size="5.9">2</tspan></text>
<text transform="translate(218.4 336.8) rotate(-90) scale(0.9 1)" font-family="Liberation Sans, sans-serif" font-weight="bold" font-size="6.9" fill="#111">10<tspan dy="-2.7" font-size="5.9">2</tspan></text>
<text transform="translate(306.2 390.5) scale(0.9 1)" font-family="Liberation Sans, sans-serif" font-weight="bold" font-size="6.9" fill="#111">10<tspan dy="-2.7" font-size="5.9">3</tspan></text>
<text transform="translate(218.4 313.0) rotate(-90) scale(0.9 1)" font-family="Liberation Sans, sans-serif" font-weight="bold" font-size="6.9" fill="#111">10<tspan dy="-2.7" font-size="5.9">3</tspan></text>
<text transform="translate(334.9 390.5) scale(0.9 1)" font-family="Liberation Sans, sans-serif" font-weight="bold" font-size="6.9" fill="#111">10<tspan dy="-2.7" font-size="5.9">4</tspan></text>
<text transform="translate(218.4 289.2) rotate(-90) scale(0.9 1)" font-family="Liberation Sans, sans-serif" font-weight="bold" font-size="6.9" fill="#111">10<tspan dy="-2.7" font-size="5.9">4</tspan></text>
<text x="281.3" y="396.8" text-anchor="middle" font-family="Liberation Sans, sans-serif" font-weight="bold" font-size="5.8" fill="#111">FL1-H</text>
<text transform="translate(212.1 334.4) rotate(-90)" text-anchor="middle" font-family="Liberation Sans, sans-serif" font-weight="bold" font-size="5.8" fill="#111">FL2-H</text>
<text transform="translate(258.3 304.7) scale(0.91 1)" text-anchor="end" font-family="Liberation Serif, serif" font-size="10.7" fill="#111">27.6%</text>
<text transform="translate(331 304.7) scale(0.91 1)" text-anchor="end" font-family="Liberation Serif, serif" font-size="10.7" fill="#111">7.1%</text>
<text transform="translate(335 365.5) scale(0.91 1)" text-anchor="end" font-family="Liberation Serif, serif" font-size="10.7" fill="#111">32.7%</text>
<g transform="translate(366.5 285) scale(0.5)"><path d="M90 38h0M102 51h0M61 61h0M117 63h0M115 66h0M82 67h0M84 68h0M73 70h0M69 71h0m13 0h0m18 0h0M57 72h1m14 0h0m9 0h0m39 0h0M87 73h0m16 0h0m31 0h0M43 74h0m29 0h0m22 0h0m14 0h0m28 0h0M87 75h0m27 0h0m2 0h0M104 76h0M62 77h0m34 0h0M52 78h0m6 0h0m11 0h0m4 0h0m16 0h0m23 0h0m21 0h0m16 0h0M58 79h1m5 0h0m10 0h0m3 0h0m29 0h0m2 0h0m8 0h0M50 80h0m5 0h0m5 0h0m4 0h0m5 0h1m4 0h0m13 0h0m14 0h0m21 0h0m8 0h0M39 81h1m17 0h0m2 0h0m48 0h0m19 0h0m7 0h0m6 0h0m5 0h0M50 82h0m4 0h1m3 0h0m4 0h1m46 0h0m4 0h0M24 83h0m9 0h0m7 0h1m9 0h0m3 0h3m5 0h2m2 0h0m4 0h0m2 0h0m3 0h2m7 0h0M54 84h0m3 0h3m4 0h1m10 0h0m5 0h0m21 0h0m15 0h0m2 0h0M30 85h0m12 0h0m4 0h0m3 0h0m2 0h0m5 0h0m2 0h0m5 0h0m4 0h0m5 0h0m4 0h0m33 0h0m3 0h0m7 0h0M3 86h0m35 0h0m2 0h0m3 0h0m2 0h0m4 0h0m8 0h0m4 0h1m3 0h1m10 0h0m4 0h0m14 0h0M28 87h0m2 0h0m4 0h0m5 0h0m2 0h2m2 0h3m4 0h0m2 0h0m4 0h1m5 0h0m5 0h0m9 0h0m15 0h1m3 0h0m29 0h0M29 88h0m4 0h0m9 0h2m7 0h3m5 0h0m2 0h0m4 0h1m2 0h0m25 0h0m7 0h0m21 0h0M3 89h0m23 0h0m16 0h0m4 0h0m3 0h0m3 0h2m2 0h0m2 0h2m3 0h2m3 0h0m3 0h0m4 0h0m8 0h0m27 0h0m8 0h0M27 90h1m5 0h0m5 0h0m3 0h1m4 0h1m5 0h0m2 0h0m5 0h0m2 0h2m5 0h0m2 0h0m8 0h0m3 0h0m5 0h0m9 0h0m33 0h0M32 91h0m5 0h0m3 0h0m5 0h1m4 0h2m3 0h1m2 0h0m4 0h1m2 0h2m2 0h1m6 0h0m24 0h0m6 0h0m16 0h0M21 92h0m11 0h1m2 0h0m11 0h0m2 0h0m2 0h2m4 0h1m3 0h0m14 0h0m2 0h0m14 0h0m20 0h0m3 0h0m3 0h0M18 93h0m7 0h0m5 0h0m6 0h0m2 0h3m3 0h4m5 0h0m3 0h2m5 0h0m20 0h0m35 0h0m8 0h0m3 0h0M29 94h0m4 0h1m3 0h0m3 0h4m2 0h0m6 0h0m2 0h2m3 0h1m3 0h1m3 0h0m4 0h0m17 0h0m24 0h0M27 95h0m3 0h0m2 0h0m2 0h1m2 0h0m2 0h0m2 0h3m3 0h1m2 0h0m4 0h0m5 0h0m2 0h0m7 0h0m6 0h0m40 0h0m4 0h0M26 96h2m3 0h1m2 0h3m2 0h2m2 0h0m3 0h3m3 0h0m10 0h0m2 0h0m2 0h1m2 0h0m6 0h0m34 0h0m44 0h0M15 97h0m13 0h0m5 0h0m3 0h0m3 0h1m3 0h5m3 0h1m4 0h0m3 0h0M19 98h0m2 0h0m2 0h0m12 0h1m2 0h1m3 0h3m2 0h0m2 0h0m3 0h3m9 0h0m29 0h0m17 0h0m14 0h0M17 99h0m5 0h0m6 0h1m6 0h1m2 0h2m6 0h1m5 0h1m2 0h0m49 0h0m22 0h0m9 0h0M6 100h0m13 0h0m2 0h0m4 0h0m6 0h1m2 0h1m3 0h0m2 0h0m3 0h0m4 0h1m4 0h0m3 0h0m30 0h0m38 0h0m4 0h0M14 101h0m14 0h0m3 0h0m2 0h0m2 0h1m6 0h1m5 0h0m5 0h0m2 0h0m50 0h0m7 0h0m4 0h0M19 102h0m6 0h0m2 0h0m2 0h0m7 0h0m2 0h0m3 0h0m2 0h1m12 0h0m20 0h0m36 0h0M17 103h0m11 0h0m2 0h0m4 0h0m7 0h3m2 0h0m6 0h0m6 0h0m7 0h0m42 0h0m2 0h0M11 104h0m8 0h1m3 0h0m4 0h1m6 0h0m3 0h0m8 0h0m4 0h0m6 0h0m2 0h0m56 0h0M20 105h0m4 0h0m8 0h0m8 0h2m2 0h0m4 0h0m36 0h0M13 106h0m12 0h0m15 0h0m6 0h1m44 0h0m13 0h0m16 0h0M16 107h0m13 0h0m2 0h0m2 0h0m4 0h1m3 0h0m5 0h0m62 0h0M6 108h0m15 0h3m5 0h2m78 0h0M5 109h0m9 0h0m8 0h0m7 0h0m74 0h0m36 0h0M12 110h0m7 0h1m7 0h0m2 0h1m5 0h0m34 0h0m10 0h0m13 0h0m2 0h0m36 0h0M26 111h0m2 0h1m3 0h0m30 0h0m14 0h0m2 0h0M14 112h0m27 0h0m14 0h0m41 0h0m95 0h0M28 113h0m6 0h0m55 0h0m8 0h0m5 0h0m7 0h0m18 0h0M34 114h0m3 0h0m17 0h0m40 0h0m6 0h0m22 0h0m27 0h0M3 115h0m29 0h0m10 0h0m13 0h0m48 0h0m2 0h0m24 0h0m56 0h0M20 116h0m9 0h0m66 0h0m8 0h0m4 0h0m3 0h0m14 0h0m2 0h0m14 0h0M32 117h0m67 0h0m10 0h0m11 0h0m10 0h0M24 118h0m28 0h0m4 0h0m38 0h0m9 0h0m2 0h0m6 0h0m3 0h0m4 0h0m5 0h0M24 119h0m23 0h0m20 0h0m6 0h0m54 0h0M21 120h0m8 0h0m21 0h0m29 0h0m13 0h0m14 0h1m7 0h0m6 0h0m15 0h0M6 121h0m19 0h1m12 0h0m5 0h0m11 0h0m26 0h0m17 0h1m14 0h3m3 0h0m5 0h0m4 0h0M4 122h0m23 0h0m16 0h0m37 0h0m2 0h0m20 0h1m3 0h0m2 0h0m7 0h0m3 0h1m8 0h1M25 123h0m4 0h1m2 0h0m8 0h0m39 0h0m5 0h0m16 0h1m2 0h0m2 0h1m9 0h0m4 0h0m14 0h0m39 0h0m17 0h0M24 124h0m4 0h0m23 0h0m24 0h0m8 0h0m10 0h0m5 0h0m5 0h0m3 0h0m7 0h0m11 0h0m2 0h0m7 0h0m5 0h0M24 125h0m3 0h0m16 0h0m3 0h0m10 0h0m4 0h0m20 0h0m14 0h0m2 0h0m2 0h0m3 0h1m2 0h1m5 0h0m8 0h0m12 0h0m4 0h2m2 0h0m4 0h0m13 0h0M11 126h0m11 0h0m12 0h0m15 0h0m9 0h0m10 0h0m19 0h0m3 0h2m3 0h1m2 0h2m2 0h0m3 0h0m2 0h0m3 0h0m2 0h2m3 0h1m2 0h0m3 0h1m2 0h1m2 0h0M3 127h0m38 0h0m7 0h0m15 0h1m4 0h0m29 0h2m2 0h1m6 0h0m3 0h0m3 0h0m3 0h1m2 0h1m33 0h0M37 128h0m6 0h0m3 0h0m31 0h0m6 0h0m10 0h0m3 0h1m7 0h0m9 0h1m7 0h2m2 0h0m4 0h0m3 0h0m5 0h0m3 0h0M3 129h0m9 0h0m38 0h0m14 0h0m5 0h0m8 0h0m4 0h0m13 0h1m3 0h1m7 0h0m3 0h0m2 0h0m2 0h0m2 0h0m2 0h6m9 0h0m9 0h0m11 0h0M27 130h0m9 0h1m5 0h0m4 0h0m16 0h0m3 0h0m17 0h0m10 0h1m3 0h0m2 0h0m2 0h0m2 0h4m2 0h0m10 0h3m2 0h2m2 0h1m2 0h1M44 131h1m3 0h0m8 0h1m9 0h0m14 0h0m6 0h0m3 0h0m2 0h0m5 0h2m3 0h0m4 0h2m2 0h0m2 0h1m3 0h1m2 0h0m2 0h1m2 0h1m2 0h2m4 0h0m2 0h0M18 132h0m21 0h0m10 0h0m3 0h0m3 0h0m6 0h0m23 0h0m8 0h0m2 0h0m3 0h1m3 0h0m2 0h1m4 0h0m2 0h0m2 0h3m2 0h10m3 0h0m5 0h0m5 0h0M25 133h0m9 0h1m3 0h1m21 0h0m12 0h0m15 0h0m3 0h0m2 0h0m2 0h1m2 0h0m2 0h2m2 0h4m2 0h0m2 0h0m2 0h0m3 0h4m3 0h0m3 0h3m2 0h0m6 0h0m4 0h0m5 0h0M5 134h0m17 0h0m4 0h0m2 0h0m2 0h0m3 0h1m7 0h0m4 0h0m8 0h0m4 0h0m6 0h0m18 0h0m5 0h0m2 0h0m8 0h0m3 0h1m3 0h1m4 0h9m2 0h1m2 0h0m2 0h1m2 0h0m5 0h0m2 0h0m2 0h0m3 0h1M7 135h0m33 0h0m5 0h0m3 0h0m8 0h0m2 0h1m21 0h0m3 0h1m3 0h0m9 0h0m4 0h6m2 0h0m2 0h3m2 0h5m3 0h3m3 0h0m3 0h1m6 0h0M28 136h0m2 0h0m15 0h0m11 0h0m8 0h0m29 0h0m2 0h0m2 0h3m2 0h2m2 0h0m2 0h1m2 0h11m4 0h0m3 0h0m2 0h0m8 0h1m3 0h0m4 0h0M18 137h0m6 0h0m7 0h0m3 0h1m2 0h1m7 0h1m5 0h0m5 0h0m2 0h0m7 0h0m10 0h0m16 0h0m7 0h1m2 0h1m3 0h6m2 0h3m2 0h3m3 0h0m3 0h0m4 0h2m20 0h0M3 138h0m13 0h0m17 0h0m5 0h0m5 0h0m5 0h0m2 0h3m3 0h1m5 0h0m6 0h0m2 0h0m3 0h0m4 0h0m8 0h1m3 0h2m2 0h0m4 0h3m2 0h0m2 0h6m2 0h4m2 0h5m2 0h0m4 0h0m10 0h0m3 0h0M12 139h0m2 0h0m8 0h0m7 0h0m5 0h0m3 0h1m8 0h0m2 0h0m9 0h1m22 0h0m7 0h0m2 0h2m2 0h0m3 0h3m2 0h0m2 0h0m2 0h17m2 0h1m2 0h0m2 0h1m3 0h1M9 140h0m10 0h0m15 0h0m2 0h0m8 0h0m5 0h1m15 0h0m13 0h0m3 0h0m13 0h2m3 0h11m2 0h3m4 0h0m2 0h0m3 0h0m2 0h1m2 0h1m2 0h0m6 0h0M14 141h0m2 0h0m5 0h0m7 0h0m7 0h0m7 0h0m6 0h0m3 0h2m3 0h0m5 0h0m3 0h0m2 0h1m8 0h0m14 0h0m2 0h0m2 0h3m2 0h10m3 0h6m3 0h5m2 0h2m3 0h1m5 0h0m46 0h0M3 142h0m13 0h0m14 0h0m3 0h5m3 0h0m2 0h1m4 0h0m2 0h1m3 0h0m15 0h1m2 0h0m14 0h0m5 0h0m5 0h0m2 0h0m2 0h16m2 0h2m4 0h0m3 0h1m6 0h0m2 0h0m2 0h1m2 0h0m2 0h0M3 143h0m6 0h0m11 0h0m11 0h0m3 0h0m4 0h1m2 0h0m4 0h0m2 0h0m8 0h0m2 0h0m3 0h0m9 0h0m10 0h0m2 0h0m4 0h0m10 0h0m2 0h0m2 0h3m2 0h11m2 0h0m2 0h0m2 0h1m3 0h5m4 0h1M47 144h1m4 0h0m2 0h0m2 0h0m2 0h1m2 0h1m4 0h0m13 0h0m6 0h1m2 0h1m2 0h0m2 0h0m4 0h0m2 0h1m3 0h10m3 0h9m2 0h1m5 0h0m10 0h0m13 0h0M30 145h0m9 0h0m4 0h1m4 0h0m2 0h0m8 0h0m22 0h1m10 0h0m4 0h2m2 0h12m3 0h13m2 0h0m4 0h2m12 0h0M21 146h2m2 0h0m3 0h3m5 0h0m3 0h0m4 0h0m7 0h0m9 0h0m2 0h0m2 0h1m4 0h0m19 0h1m2 0h1m3 0h2m2 0h0m2 0h2m2 0h0m2 0h16m2 0h0m4 0h0m3 0h1m2 0h0m3 0h0M20 147h0m2 0h0m2 0h0m4 0h0m4 0h1m7 0h0m2 0h1m2 0h0m2 0h0m10 0h0m3 0h0m14 0h0m13 0h1m2 0h1m3 0h0m2 0h0m2 0h4m3 0h14m2 0h4m2 0h0m6 0h0m2 0h0m6 0h0m2 0h0m5 0h0m10 0h0M7 148h0m18 0h0m4 0h0m2 0h0m5 0h0m3 0h1m6 0h1m3 0h2m5 0h0m3 0h0m12 0h0m3 0h0m2 0h0m5 0h0m4 0h0m2 0h1m3 0h0m3 0h0m2 0h1m2 0h0m3 0h1m2 0h18m2 0h0m5 0h1m3 0h0m2 0h0m12 0h0m11 0h0M17 149h0m7 0h0m6 0h2m4 0h0m6 0h1m2 0h0m6 0h0m4 0h0m2 0h0m18 0h0m3 0h0m5 0h0m7 0h0m2 0h1m4 0h0m3 0h6m2 0h15m2 0h1m2 0h3m3 0h0m3 0h0M11 150h0m7 0h0m9 0h0m2 0h0m3 0h0m7 0h0m2 0h0m2 0h0m2 0h0m4 0h1m3 0h0m9 0h0m3 0h0m16 0h0m4 0h1m2 0h0m2 0h2m2 0h1m2 0h13m2 0h11m2 0h1m5 0h0m4 0h0m6 0h0m4 0h0M31 151h1m2 0h0m4 0h1m2 0h0m3 0h0m3 0h0m4 0h1m2 0h0m3 0h0m5 0h2m11 0h0m7 0h0m8 0h1m2 0h1m2 0h2m2 0h20m2 0h0m3 0h4m5 0h1m2 0h0m9 0h0M15 152h0m2 0h1m4 0h1m4 0h0m2 0h0m8 0h0m2 0h0m3 0h0m2 0h0m2 0h0m2 0h0m5 0h1m3 0h0m21 0h0m5 0h0m4 0h0m3 0h0m3 0h2m2 0h0m2 0h1m2 0h11m2 0h8m2 0h1m2 0h1m3 0h1m2 0h0m4 0h0M8 153h0m11 0h0m8 0h1m2 0h3m5 0h0m3 0h0m3 0h0m2 0h0m2 0h1m3 0h0m4 0h0m7 0h0m11 0h0m6 0h0m7 0h0m4 0h1m4 0h0m3 0h4m2 0h3m2 0h15m2 0h0m2 0h1m6 0h0m4 0h0M6 154h0m30 0h0m3 0h0m9 0h0m5 0h0m2 0h0m3 0h0m13 0h0m4 0h0m6 0h0m10 0h2m2 0h1m2 0h4m2 0h13m2 0h3m5 0h2m5 0h0m5 0h0m5 0h0m3 0h0m4 0h0M30 155h0m2 0h2m4 0h0m2 0h0m2 0h1m5 0h0m2 0h2m2 0h0m3 0h0m7 0h0m9 0h0m2 0h0m5 0h0m3 0h0m3 0h0m2 0h0m2 0h0m2 0h3m3 0h3m3 0h7m2 0h1m2 0h5m3 0h3m2 0h0m2 0h1m4 0h0m8 0h0M13 156h0m13 0h1m2 0h0m8 0h0m3 0h0m7 0h0m3 0h0m5 0h0m8 0h0m2 0h1m11 0h0m4 0h0m4 0h0m7 0h2m3 0h1m2 0h0m2 0h0m2 0h20m2 0h0m2 0h1m2 0h0m3 0h0m4 0h0m12 0h0M17 157h0m5 0h1m2 0h0m4 0h0m3 0h0m3 0h0m3 0h0m3 0h0m3 0h0m4 0h1m2 0h1m7 0h0m6 0h0m3 0h0m10 0h0m3 0h0m2 0h0m2 0h0m4 0h0m5 0h4m4 0h5m2 0h0m2 0h5m2 0h8m3 0h1m6 0h0m2 0h3M4 158h0m8 0h0m13 0h0m2 0h0m2 0h0m5 0h3m6 0h0m3 0h0m2 0h1m3 0h0m5 0h0m3 0h0m2 0h0m6 0h0m5 0h1m5 0h0m13 0h3m3 0h0m2 0h0m2 0h6m2 0h8m2 0h4m2 0h2m2 0h0m2 0h0m3 0h0M4 159h0m22 0h0m8 0h0m2 0h0m5 0h0m3 0h0m6 0h1m11 0h0m19 0h0m14 0h1m2 0h1m2 0h4m3 0h6m3 0h1m2 0h1m4 0h1m2 0h1m2 0h0m2 0h0M8 160h1m12 0h0m3 0h0m5 0h0m3 0h0m5 0h1m2 0h0m2 0h0m8 0h0m6 0h0m4 0h1m2 0h0m3 0h0m18 0h0m2 0h0m3 0h0m5 0h0m2 0h19m2 0h1m2 0h0m3 0h0m2 0h2m7 0h0m8 0h0m2 0h0M14 161h0m9 0h1m3 0h0m2 0h0m2 0h0m2 0h0m4 0h0m6 0h0m5 0h0m2 0h0m2 0h0m11 0h1m3 0h0m3 0h0m2 0h0m10 0h0m2 0h1m4 0h0m5 0h0m2 0h0m2 0h8m2 0h1m2 0h1m3 0h2m3 0h5m3 0h0m4 0h0m5 0h0M15 162h0m5 0h0m6 0h0m7 0h0m2 0h1m2 0h0m8 0h0m13 0h0m8 0h1m5 0h0m18 0h0m3 0h1m2 0h0m2 0h4m2 0h10m4 0h6m3 0h0m4 0h0m4 0h0m7 0h0M18 163h0m2 0h0m9 0h0m4 0h0m2 0h1m3 0h0m6 0h0m2 0h0m3 0h0m5 0h0m3 0h0m2 0h0m8 0h1m2 0h0m14 0h1m5 0h1m4 0h1m4 0h0m2 0h1m2 0h5m2 0h5m2 0h0m3 0h3m2 0h1m2 0h0m2 0h1m6 0h0m3 0h0M3 164h0m20 0h0m3 0h0m2 0h0m2 0h0m3 0h0m2 0h0m2 0h1m6 0h0m4 0h1m3 0h0m6 0h0m3 0h0m8 0h1m16 0h0m2 0h0m6 0h0m2 0h2m3 0h0m2 0h0m2 0h0m2 0h0m4 0h0m2 0h1m2 0h2m2 0h1m2 0h4M3 165h0m6 0h0m8 0h0m9 0h1m2 0h0m6 0h0m2 0h1m5 0h0m9 0h0m3 0h0m8 0h0m5 0h1m13 0h0m4 0h0m4 0h0m2 0h0m3 0h1m3 0h0m2 0h0m2 0h7m3 0h0m2 0h1m2 0h0m2 0h3m4 0h1M24 166h0m7 0h0m2 0h0m2 0h0m3 0h0m2 0h0m14 0h0m2 0h0m2 0h0m3 0h1m7 0h1m6 0h0m3 0h1m4 0h0m2 0h0m4 0h0m5 0h0m2 0h0m3 0h0m2 0h0m2 0h0m2 0h4m2 0h0m2 0h1m2 0h8m3 0h0m7 0h0m8 0h0m2 0h0M12 167h0m14 0h0m5 0h0m14 0h0m2 0h0m6 0h1m2 0h0m4 0h0m2 0h0m5 0h1m11 0h0m17 0h0m3 0h1m2 0h2m4 0h0m4 0h2m3 0h1m2 0h2m4 0h1m3 0h0m4 0h0m16 0h0M12 168h0m12 0h0m4 0h0m3 0h0m2 0h0m5 0h0m2 0h0m4 0h0m6 0h0m9 0h0m2 0h0m25 0h0m4 0h1m3 0h0m3 0h0m5 0h0m4 0h0m2 0h2m3 0h0m2 0h1m2 0h3m2 0h0m2 0h2m2 0h0m4 0h1m6 0h0M33 169h1m2 0h0m4 0h0m13 0h0m7 0h0m6 0h0m3 0h0m15 0h0m6 0h0m5 0h0m2 0h0m2 0h1m3 0h2m2 0h1m4 0h0m2 0h6m3 0h1m7 0h1m2 0h0m3 0h0M4 170h0m2 0h0m26 0h1m5 0h0m2 0h0m7 0h0m20 0h0m16 0h0m4 0h1m5 0h1m5 0h0m2 0h1m2 0h4m3 0h0m2 0h2m2 0h4m8 0h0m9 0h0M15 171h0m5 0h0m4 0h0m6 0h0m3 0h0m3 0h0m5 0h0m6 0h0m6 0h0m5 0h0m12 0h0m20 0h0m3 0h0m5 0h0m2 0h3m3 0h3m3 0h0m2 0h0m8 0h0m3 0h0m3 0h0m2 0h0M19 172h0m2 0h0m22 0h0m4 0h0m2 0h0m8 0h0m33 0h0m6 0h0m4 0h2m4 0h0m2 0h0m4 0h5m2 0h1m4 0h1m2 0h0m6 0h0M27 173h0m34 0h1m4 0h0m5 0h0m14 0h1m9 0h1m8 0h1m2 0h0m4 0h0m2 0h0m4 0h1m7 0h0m12 0h0M36 174h0m5 0h1m2 0h0m5 0h0m9 0h0m5 0h0m7 0h0m2 0h0m7 0h0m25 0h0m2 0h0m4 0h0m4 0h0m3 0h1m9 0h0m5 0h0m10 0h0M22 175h0m8 0h0m8 0h0m5 0h1m7 0h0m3 0h0m44 0h0m3 0h0m4 0h0m2 0h0m4 0h1m5 0h2m7 0h0m4 0h0m13 0h0M22 176h0m6 0h0m5 0h0m3 0h0m2 0h1m5 0h1m40 0h0m3 0h0m8 0h1m2 0h2m6 0h0m3 0h0m4 0h1m2 0h0m13 0h0M18 177h1m15 0h0m6 0h0m8 0h0m2 0h0m4 0h0m2 0h0m5 0h0m2 0h0m36 0h0m3 0h0m10 0h2m2 0h0m3 0h0m7 0h0m3 0h1m29 0h0M44 178h0m6 0h0m6 0h0m4 0h0m10 0h0m23 0h1m2 0h0m4 0h0m7 0h1m5 0h1m5 0h1m6 0h0m5 0h0m4 0h0M30 179h0m28 0h0m4 0h0m23 0h0m6 0h0m7 0h1m4 0h1m7 0h0m2 0h1m2 0h0m3 0h0m2 0h1m3 0h0M3 180h0m14 0h0m33 0h0m3 0h0m5 0h0m31 0h0m38 0h0m6 0h0M23 181h0m9 0h0m3 0h1m4 0h0m4 0h0m54 0h0m3 0h0m7 0h0m3 0h2m3 0h0m27 0h0M31 182h0m2 0h0m33 0h0m6 0h0m24 0h3m2 0h1m10 0h0m8 0h0m7 0h0m5 0h0m29 0h0M3 183h0m37 0h0m9 0h0m6 0h0m2 0h0m2 0h0m18 0h0m25 0h0m13 0h1M31 184h0m13 0h0m24 0h0m21 0h0m34 0h0m13 0h0m8 0h0M47 185h0m20 0h0m38 0h0m22 0h0m5 0h0M36 186h0m11 0h0m66 0h0m9 0h0m5 0h0m9 0h0m26 0h0M117 187h0m10 0h0M22 188h0m2 0h0m3 0h0m9 0h0m2 0h0m6 0h0m2 0h0m12 0h0m5 0h0m7 0h0m7 0h0m7 0h0m14 0h0m8 0h0m6 0h1m6 0h0m3 0h1m4 0h0m17 0h0M17 189h0m5 0h0m4 0h0m12 0h0m2 0h0m4 0h0m3 0h0m4 0h0m4 0h0m21 0h0m9 0h0m8 0h0m12 0h0m3 0h0m2 0h2m3 0h0m2 0h0m3 0h1m21 0h0" stroke="#000" stroke-width="1.6" stroke-linecap="square" fill="none"/></g>
<rect x="366.5" y="285" width="123.5" height="95.69999999999999" fill="none" stroke="#111" stroke-width="1.1"/>
<path d="M404.7 285V380.7M366.5 344.4H490" stroke="#111" stroke-width="1.2" fill="none"/>
<path d="M366.5 380.7v2.5M366.5 380.7h-2.5M375.8 380.7v1.4M366.5 373.5h-1.4M381.2 380.7v1.4M366.5 369.3h-1.4M385.1 380.7v1.4M366.5 366.3h-1.4M388.1 380.7v1.4M366.5 364.0h-1.4M390.5 380.7v1.4M366.5 362.1h-1.4M392.6 380.7v1.4M366.5 360.5h-1.4M394.4 380.7v1.4M366.5 359.1h-1.4M396.0 380.7v1.4M366.5 357.9h-1.4M397.4 380.7v2.5M366.5 356.8h-2.5M406.7 380.7v1.4M366.5 349.6h-1.4M412.1 380.7v1.4M366.5 345.4h-1.4M416.0 380.7v1.4M366.5 342.4h-1.4M419.0 380.7v1.4M366.5 340.1h-1.4M421.4 380.7v1.4M366.5 338.2h-1.4M423.5 380.7v1.4M366.5 336.6h-1.4M425.3 380.7v1.4M366.5 335.2h-1.4M426.8 380.7v1.4M366.5 333.9h-1.4M428.2 380.7v2.5M366.5 332.9h-2.5M437.5 380.7v1.4M366.5 325.6h-1.4M443.0 380.7v1.4M366.5 321.4h-1.4M446.8 380.7v1.4M366.5 318.4h-1.4M449.8 380.7v1.4M366.5 316.1h-1.4M452.3 380.7v1.4M366.5 314.2h-1.4M454.3 380.7v1.4M366.5 312.6h-1.4M456.1 380.7v1.4M366.5 311.2h-1.4M457.7 380.7v1.4M366.5 310.0h-1.4M459.1 380.7v2.5M366.5 308.9h-2.5M468.4 380.7v1.4M366.5 301.7h-1.4M473.9 380.7v1.4M366.5 297.5h-1.4M477.7 380.7v1.4M366.5 294.5h-1.4M480.7 380.7v1.4M366.5 292.2h-1.4M483.2 380.7v1.4M366.5 290.3h-1.4M485.2 380.7v1.4M366.5 288.7h-1.4M487.0 380.7v1.4M366.5 287.3h-1.4M488.6 380.7v1.4M366.5 286.1h-1.4M490 380.7v2.5M366.5 285h-2.5" stroke="#222" stroke-width="0.55" fill="none"/>
<text transform="translate(363.2 390.7) scale(0.9 1)" font-family="Liberation Sans, sans-serif" font-weight="bold" font-size="6.9" fill="#111">10<tspan dy="-2.7" font-size="5.9">0</tspan></text>
<text transform="translate(361.5 384.5) rotate(-90) scale(0.9 1)" font-family="Liberation Sans, sans-serif" font-weight="bold" font-size="6.9" fill="#111">10<tspan dy="-2.7" font-size="5.9">0</tspan></text>
<text transform="translate(394.1 390.7) scale(0.9 1)" font-family="Liberation Sans, sans-serif" font-weight="bold" font-size="6.9" fill="#111">10<tspan dy="-2.7" font-size="5.9">1</tspan></text>
<text transform="translate(361.5 360.6) rotate(-90) scale(0.9 1)" font-family="Liberation Sans, sans-serif" font-weight="bold" font-size="6.9" fill="#111">10<tspan dy="-2.7" font-size="5.9">1</tspan></text>
<text transform="translate(424.9 390.7) scale(0.9 1)" font-family="Liberation Sans, sans-serif" font-weight="bold" font-size="6.9" fill="#111">10<tspan dy="-2.7" font-size="5.9">2</tspan></text>
<text transform="translate(361.5 336.7) rotate(-90) scale(0.9 1)" font-family="Liberation Sans, sans-serif" font-weight="bold" font-size="6.9" fill="#111">10<tspan dy="-2.7" font-size="5.9">2</tspan></text>
<text transform="translate(455.8 390.7) scale(0.9 1)" font-family="Liberation Sans, sans-serif" font-weight="bold" font-size="6.9" fill="#111">10<tspan dy="-2.7" font-size="5.9">3</tspan></text>
<text transform="translate(361.5 312.7) rotate(-90) scale(0.9 1)" font-family="Liberation Sans, sans-serif" font-weight="bold" font-size="6.9" fill="#111">10<tspan dy="-2.7" font-size="5.9">3</tspan></text>
<text transform="translate(486.7 390.7) scale(0.9 1)" font-family="Liberation Sans, sans-serif" font-weight="bold" font-size="6.9" fill="#111">10<tspan dy="-2.7" font-size="5.9">4</tspan></text>
<text transform="translate(361.5 288.8) rotate(-90) scale(0.9 1)" font-family="Liberation Sans, sans-serif" font-weight="bold" font-size="6.9" fill="#111">10<tspan dy="-2.7" font-size="5.9">4</tspan></text>
<text x="428.8" y="397.0" text-anchor="middle" font-family="Liberation Sans, sans-serif" font-weight="bold" font-size="5.8" fill="#111">FL1-H</text>
<text transform="translate(355.2 334.4) rotate(-90)" text-anchor="middle" font-family="Liberation Sans, sans-serif" font-weight="bold" font-size="5.8" fill="#111">FL2-H</text>
<text transform="translate(401.5 300.2) scale(0.91 1)" text-anchor="end" font-family="Liberation Serif, serif" font-size="10.7" fill="#111">22.5%</text>
<text transform="translate(485.5 300.2) scale(0.91 1)" text-anchor="end" font-family="Liberation Serif, serif" font-size="10.7" fill="#111">3.5%</text>
<text transform="translate(489.7 362.8) scale(0.91 1)" text-anchor="end" font-family="Liberation Serif, serif" font-size="10.7" fill="#111">65.4%</text>
<g transform="translate(72 430.8) scale(0.5)"><path d="M126 41h0M62 53h0M98 61h0M44 62h0M117 65h0M10 68h0M135 70h0M61 73h0M118 74h0M48 75h0M89 78h0M47 79h0m52 0h0m36 0h0m5 0h0M52 80h0M42 81h0m3 0h0m4 0h0m10 0h0m24 0h0m26 0h0M82 82h0M34 83h0m24 0h0m12 0h0m58 0h0M39 84h0m18 0h0m2 0h0m16 0h0m7 0h0m21 0h0m37 0h0M34 85h1m31 0h1m69 0h0M26 86h0m6 0h0m22 0h0m6 0h0m24 0h0m36 0h1m4 0h1m26 0h0M27 87h0m15 0h0m7 0h3m2 0h0m3 0h1m44 0h0m31 0h0M20 88h0m20 0h1m6 0h0m4 0h0m14 0h0m16 0h0m52 0h0m4 0h0m4 0h0M23 89h0m2 0h0m9 0h1m3 0h0m9 0h1m9 0h0m6 0h0m40 0h0m19 0h1m7 0h0m4 0h1M16 90h0m9 0h0m18 0h0m2 0h1m4 0h0m2 0h0m2 0h0m3 0h0m6 0h0m3 0h0m8 0h0m20 0h0m9 0h0m8 0h0m3 0h0m13 0h0m7 0h0m4 0h0M32 91h0m2 0h0m5 0h0m3 0h0m3 0h2m3 0h1m2 0h2m7 0h0m5 0h0m5 0h0m6 0h0m37 0h0m4 0h0m3 0h0m3 0h0m6 0h1M28 92h1m7 0h0m3 0h2m3 0h1m3 0h1m2 0h0m9 0h0m4 0h0m3 0h0m6 0h2m7 0h0m22 0h0m2 0h0m10 0h0m11 0h0m2 0h0m2 0h0m3 0h0M3 93h0m18 0h0m3 0h0m5 0h1m5 0h1m3 0h0m3 0h1m3 0h1m4 0h0m4 0h1m2 0h0m2 0h0m4 0h2m3 0h1m3 0h2m19 0h0m7 0h0m14 0h0m6 0h2m2 0h0m2 0h0m2 0h0m5 0h0m3 0h0M26 94h1m2 0h0m2 0h1m2 0h0m2 0h3m3 0h1m2 0h0m2 0h1m2 0h0m2 0h3m3 0h1m4 0h0m4 0h0m11 0h0m4 0h0m5 0h0m21 0h0m12 0h2m9 0h0m8 0h0m3 0h0M22 95h0m9 0h1m3 0h0m3 0h3m3 0h1m3 0h0m2 0h0m3 0h0m2 0h1m3 0h0m2 0h0m8 0h0m18 0h0m5 0h0m18 0h0m2 0h0m4 0h0m3 0h0m3 0h0m16 0h0M2 96h0m12 0h0m18 0h1m2 0h0m2 0h0m2 0h4m3 0h6m2 0h0m2 0h0m4 0h0m2 0h0m4 0h0m3 0h0m2 0h1m8 0h0m12 0h1m14 0h0m3 0h0m10 0h0m9 0h3m3 0h0m14 0h0M14 97h0m4 0h1m2 0h0m2 0h0m5 0h0m3 0h0m3 0h0m4 0h1m2 0h1m3 0h0m2 0h0m2 0h0m2 0h1m3 0h0m2 0h4m3 0h0m27 0h0m13 0h0m3 0h0m2 0h0m7 0h1m2 0h0m5 0h1m11 0h0m3 0h0m2 0h0M29 98h4m3 0h2m2 0h0m2 0h7m2 0h6m3 0h1m7 0h1m7 0h0m31 0h0m5 0h0m2 0h2m3 0h0m2 0h0m4 0h0m5 0h0m12 0h0M21 99h1m3 0h0m3 0h0m3 0h0m7 0h8m4 0h4m4 0h5m4 0h0m7 0h0m43 0h2m6 0h1m10 0h1m5 0h0m3 0h0M11 100h1m9 0h1m3 0h0m2 0h0m2 0h0m4 0h6m2 0h14m2 0h0m2 0h0m4 0h2m3 0h0m8 0h0m10 0h0m23 0h1m12 0h3m2 0h0m5 0h1m3 0h0m6 0h0M19 101h0m4 0h0m7 0h0m3 0h0m2 0h1m3 0h1m5 0h6m4 0h7m2 0h0m6 0h1m12 0h0m16 0h0m9 0h0m3 0h0m5 0h0m5 0h0m5 0h0m8 0h0m7 0h0M16 102h1m3 0h0m3 0h0m2 0h2m2 0h0m2 0h1m4 0h0m2 0h2m2 0h13m2 0h3m2 0h1m4 0h0m40 0h0m5 0h0m2 0h0m3 0h0m3 0h0m8 0h2m8 0h0M10 103h0m12 0h2m4 0h1m2 0h0m4 0h4m2 0h15m2 0h0m2 0h1m2 0h0m3 0h1m7 0h0m12 0h0m22 0h0m2 0h0m4 0h0m5 0h0m4 0h0m3 0h0m3 0h1m2 0h0M8 104h0m13 0h0m8 0h0m3 0h10m2 0h1m2 0h2m2 0h2m3 0h4m2 0h0m4 0h2m30 0h0m15 0h3m2 0h0m10 0h0m3 0h2m11 0h0m30 0h0M18 105h0m5 0h0m2 0h1m2 0h1m2 0h2m2 0h3m2 0h2m2 0h2m4 0h3m3 0h2m2 0h0m7 0h0m7 0h1m8 0h0m20 0h0m2 0h0m2 0h0m4 0h3m2 0h0m9 0h1m22 0h0m2 0h0M14 106h0m4 0h2m2 0h0m5 0h2m2 0h0m2 0h1m4 0h0m2 0h0m3 0h4m2 0h1m3 0h1m2 0h0m2 0h4m2 0h0m5 0h0m2 0h1m7 0h0m29 0h1m2 0h0m4 0h0m6 0h0m3 0h0m2 0h0m20 0h0M4 107h0m10 0h0m7 0h0m3 0h1m4 0h5m3 0h4m3 0h0m3 0h0m4 0h1m3 0h2m3 0h0m2 0h1m2 0h0m4 0h0m3 0h1m16 0h1m6 0h1m9 0h0m6 0h0m4 0h0m6 0h0m8 0h0m2 0h0M11 108h0m9 0h1m2 0h0m3 0h0m2 0h0m2 0h0m2 0h0m2 0h0m2 0h6m2 0h1m2 0h0m2 0h2m2 0h7m2 0h0m3 0h0m2 0h0m2 0h0m3 0h0m27 0h0m4 0h0m2 0h0m4 0h0m5 0h0m4 0h1m14 0h0m15 0h0M2 109h0m10 0h0m2 0h0m7 0h1m3 0h2m5 0h0m2 0h4m4 0h1m2 0h3m3 0h3m2 0h0m2 0h0m3 0h0m3 0h1m2 0h0m3 0h0m22 0h0m20 0h1m2 0h0m4 0h0m4 0h0m2 0h0M3 110h0m4 0h0m3 0h0m2 0h1m8 0h2m2 0h0m3 0h0m2 0h0m2 0h3m2 0h2m2 0h0m3 0h1m2 0h1m3 0h0m2 0h0m4 0h0m4 0h1m3 0h1m2 0h0m5 0h1m12 0h0m13 0h0m11 0h0m8 0h0m12 0h1m10 0h0m3 0h0M7 111h0m3 0h0m4 0h1m5 0h2m4 0h0m2 0h1m3 0h3m2 0h2m3 0h1m2 0h0m3 0h6m2 0h3m2 0h1m5 0h0m41 0h0m14 0h1m2 0h0m3 0h0m2 0h1M5 112h0m5 0h0m11 0h0m3 0h0m2 0h0m2 0h0m3 0h0m3 0h2m6 0h6m2 0h1m2 0h1m4 0h0m4 0h0m3 0h0m43 0h0m7 0h0m9 0h0m6 0h0M22 113h1m4 0h3m2 0h1m2 0h4m3 0h4m2 0h3m3 0h3m2 0h1m5 0h0m2 0h0m67 0h1M16 114h0m4 0h1m9 0h2m2 0h0m4 0h6m3 0h0m2 0h0m4 0h0m4 0h0m2 0h0m4 0h0m2 0h2m3 0h0m2 0h0m14 0h0m10 0h0m4 0h0m2 0h0m5 0h0m6 0h0m6 0h0m6 0h0m16 0h0M13 115h0m16 0h0m5 0h3m3 0h0m2 0h0m2 0h2m20 0h0m11 0h0m3 0h0m2 0h0m2 0h0m14 0h0m8 0h0m6 0h0m2 0h0m9 0h0m3 0h0m7 0h0M4 116h0m9 0h0m5 0h0m2 0h1m4 0h0m2 0h0m2 0h0m4 0h1m2 0h0m3 0h0m3 0h0m3 0h0m2 0h1m2 0h2m4 0h0m3 0h0m3 0h1m3 0h1m3 0h0m16 0h1m19 0h0m16 0h0m23 0h0M12 117h0m3 0h1m4 0h1m3 0h2m4 0h0m2 0h2m3 0h0m2 0h3m2 0h1m3 0h0m7 0h0m2 0h0m5 0h0m14 0h0m44 0h0M18 118h1m5 0h1m5 0h0m2 0h0m2 0h1m2 0h3m2 0h0m3 0h0m2 0h2m3 0h1m3 0h2m2 0h1m6 0h0m3 0h0m4 0h0m13 0h0m11 0h0m24 0h0m36 0h0M2 119h0m7 0h0m16 0h0m3 0h2m8 0h1m2 0h2m2 0h1m2 0h4m2 0h0m4 0h0m4 0h0m2 0h0m9 0h0m15 0h0m8 0h0m6 0h1m16 0h0m17 0h0M6 120h0m9 0h0m2 0h0m10 0h1m3 0h0m2 0h1m2 0h0m3 0h0m2 0h0m2 0h0m2 0h1m2 0h0m2 0h0m2 0h0m4 0h1m2 0h0m4 0h0m5 0h1m16 0h0m4 0h0m15 0h0m2 0h0m6 0h0m7 0h0m3 0h0m11 0h0m17 0h0m49 0h0M9 121h0m4 0h0m2 0h0m5 0h2m5 0h0m2 0h1m3 0h1m2 0h0m2 0h6m2 0h0m3 0h0m2 0h1m2 0h0m2 0h2m4 0h1m4 0h0m2 0h0m5 0h0m34 0h0m12 0h0m13 0h0m8 0h0M4 122h0m6 0h0m5 0h0m3 0h0m5 0h3m2 0h5m2 0h1m2 0h0m2 0h4m3 0h1m2 0h3m8 0h0m3 0h0m10 0h1m38 0h1m5 0h0m8 0h0m7 0h0M6 123h0m8 0h1m5 0h2m3 0h1m2 0h0m3 0h3m6 0h1m2 0h0m2 0h1m3 0h0m5 0h0m5 0h0m3 0h0m2 0h0m6 0h0m35 0h0m4 0h0m12 0h0m6 0h0m11 0h0M11 124h0m11 0h0m2 0h0m3 0h0m3 0h0m2 0h0m3 0h0m2 0h3m3 0h2m2 0h1m2 0h5m4 0h0m4 0h0m11 0h1m2 0h0m12 0h0m6 0h0m3 0h0m21 0h0m2 0h0m40 0h0M12 125h0m15 0h0m2 0h5m2 0h3m2 0h0m4 0h1m5 0h0m2 0h0m2 0h0m5 0h0m4 0h0m3 0h0m2 0h0m22 0h0m17 0h0m11 0h0m6 0h0m14 0h0m2 0h0m5 0h2M17 126h0m2 0h0m3 0h1m2 0h1m3 0h0m2 0h1m3 0h0m2 0h4m2 0h2m3 0h1m4 0h0m2 0h0m2 0h0m3 0h0m4 0h0m4 0h0m24 0h0m3 0h0m4 0h1m2 0h0m6 0h0m4 0h0m3 0h0m4 0h0m6 0h1m2 0h0M21 127h2m2 0h11m3 0h4m2 0h2m3 0h1m2 0h1m11 0h0m39 0h0m15 0h1m2 0h0m24 0h0M18 128h0m3 0h3m4 0h0m3 0h9m3 0h0m2 0h3m2 0h0m2 0h0m2 0h1m3 0h0m13 0h0m15 0h0m5 0h0m2 0h0m6 0h0m10 0h0m6 0h0m5 0h0m12 0h0m21 0h0M10 129h0m2 0h0m5 0h0m2 0h0m6 0h7m4 0h0m2 0h1m2 0h2m2 0h0m2 0h1m3 0h0m3 0h0m3 0h0m2 0h1m10 0h0m10 0h0m32 0h0m21 0h0m8 0h0m3 0h0M2 130h0m2 0h0m10 0h0m2 0h0m5 0h1m2 0h3m2 0h1m3 0h0m2 0h0m2 0h0m2 0h2m2 0h3m2 0h0m7 0h2m2 0h0m45 0h0m4 0h0m4 0h0m2 0h0m16 0h0m8 0h1M12 131h1m2 0h1m2 0h0m2 0h0m4 0h2m4 0h3m4 0h1m2 0h2m3 0h0m4 0h0m3 0h0m3 0h1m2 0h0m4 0h0m2 0h0m9 0h0m17 0h0m3 0h0m10 0h0m9 0h0m14 0h0m12 0h0m7 0h0m5 0h0M15 132h0m7 0h9m2 0h3m3 0h0m4 0h0m3 0h0m4 0h2m4 0h0m2 0h0m3 0h0m22 0h0m22 0h0m25 0h0M13 133h0m2 0h0m2 0h4m5 0h5m2 0h0m2 0h1m2 0h1m2 0h1m2 0h2m2 0h0m3 0h0m7 0h0m2 0h0m41 0h0m3 0h0m4 0h0m2 0h1m17 0h0m5 0h0M5 134h0m4 0h0m7 0h0m2 0h0m2 0h1m2 0h1m3 0h20m2 0h0m3 0h0m2 0h0m3 0h2m3 0h0m5 0h0m15 0h0m12 0h0m4 0h0m12 0h0m3 0h0m6 0h0m7 0h0m2 0h0m5 0h0M3 135h0m6 0h0m6 0h3m2 0h1m2 0h0m2 0h2m2 0h0m2 0h5m2 0h11m2 0h0m2 0h1m3 0h1m14 0h0m8 0h0m8 0h0m4 0h0m7 0h0m9 0h0m2 0h0m2 0h0m3 0h0m8 0h0m18 0h0m20 0h0M5 136h0m2 0h0m4 0h0m4 0h1m3 0h6m2 0h4m2 0h0m2 0h3m2 0h0m2 0h2m3 0h0m3 0h4m3 0h0m6 0h0m2 0h2m10 0h0m11 0h0m3 0h0m6 0h1m3 0h0m7 0h0m3 0h0m3 0h0m3 0h0m4 0h0m3 0h0m13 0h0m3 0h0M13 137h2m2 0h0m2 0h0m3 0h3m2 0h0m3 0h17m3 0h0m6 0h1m7 0h1m12 0h1m3 0h0m6 0h0m5 0h0m6 0h0m10 0h0m9 0h0m4 0h1m5 0h0m2 0h1m8 0h0M6 138h3m3 0h1m2 0h3m2 0h0m2 0h5m2 0h3m3 0h2m3 0h0m3 0h3m3 0h1m4 0h0m2 0h0m6 0h0m7 0h0m22 0h0m7 0h0m3 0h0m9 0h0m4 0h0m4 0h0m17 0h0m6 0h0m2 0h0M5 139h0m4 0h0m6 0h0m2 0h1m2 0h4m2 0h2m2 0h4m2 0h5m2 0h0m5 0h0m3 0h2m2 0h2m2 0h0m2 0h0m10 0h0m27 0h0m11 0h0m2 0h1m2 0h0m8 0h0m11 0h0m2 0h0m23 0h0M2 140h0m4 0h0m2 0h1m4 0h1m2 0h8m2 0h3m2 0h5m2 0h2m2 0h7m2 0h0m3 0h0m14 0h0m5 0h0m22 0h0m11 0h0m3 0h0m4 0h0m4 0h0m2 0h0m3 0h0m2 0h0m2 0h0m9 0h2m5 0h0m9 0h0M2 141h0m5 0h1m2 0h0m2 0h1m3 0h16m2 0h8m2 0h0m2 0h2m2 0h0m2 0h0m2 0h0m3 0h0m4 0h1m3 0h0m3 0h0m29 0h0m10 0h0m2 0h0m10 0h0m9 0h1m8 0h1m2 0h0M3 142h0m4 0h0m2 0h1m2 0h0m3 0h0m2 0h1m2 0h0m3 0h1m2 0h12m2 0h4m2 0h2m2 0h2m4 0h0m2 0h0m9 0h0m17 0h0m9 0h0m17 0h0m2 0h0m2 0h0m5 0h0m16 0h0m11 0h0m22 0h0M3 143h0m2 0h0m9 0h3m2 0h0m2 0h0m2 0h12m2 0h1m2 0h4m3 0h4m7 0h0m3 0h1m5 0h1m10 0h0m14 0h0m6 0h1m9 0h1m2 0h0m3 0h0m2 0h0m2 0h0m6 0h1m16 0h0M3 144h0m9 0h2m2 0h21m2 0h3m3 0h0m2 0h1m2 0h0m2 0h0m5 0h0m8 0h1m6 0h1m17 0h0m13 0h1m2 0h0m5 0h0m3 0h0m2 0h0m4 0h0m4 0h1m3 0h0m12 0h0m3 0h0m6 0h0M2 145h1m3 0h0m2 0h0m2 0h3m2 0h2m4 0h2m2 0h11m2 0h0m2 0h0m2 0h3m3 0h1m2 0h2m2 0h1m19 0h0m7 0h0m9 0h0m4 0h0m8 0h1m5 0h0m2 0h0m2 0h0m2 0h0m10 0h0m2 0h0m6 0h0m5 0h0M2 146h0m2 0h0m3 0h0m5 0h1m3 0h0m3 0h1m2 0h2m2 0h19m2 0h2m2 0h0m3 0h0m4 0h1m8 0h0m12 0h0m10 0h0m5 0h0m4 0h0m3 0h0m2 0h2m5 0h0m3 0h0m2 0h1m2 0h0m8 0h1m24 0h0M3 147h0m4 0h0m2 0h0m3 0h0m2 0h3m2 0h13m2 0h0m2 0h1m2 0h0m2 0h1m4 0h2m3 0h0m5 0h0m5 0h0m3 0h0m7 0h1m8 0h0m21 0h1m3 0h0m3 0h1m5 0h1m2 0h0m3 0h0m11 0h0m13 0h0m14 0h0m23 0h0M3 148h0m9 0h0m3 0h0m2 0h2m2 0h1m2 0h6m2 0h7m2 0h2m2 0h2m17 0h0m17 0h0m7 0h0m6 0h0m3 0h0m14 0h0m3 0h0m6 0h0m2 0h0m3 0h1m2 0h1m9 0h0m6 0h0M3 149h1m11 0h1m2 0h5m2 0h0m2 0h0m2 0h2m2 0h4m2 0h3m3 0h0m2 0h2m23 0h0m6 0h0m3 0h1m9 0h0m13 0h0m4 0h0m8 0h0m2 0h0m2 0h0m3 0h0m5 0h0m18 0h0m2 0h0M3 150h0m3 0h0m4 0h3m2 0h17m2 0h3m2 0h4m2 0h0m2 0h0m2 0h1m7 0h0m22 0h0m17 0h1m2 0h1m2 0h0m2 0h0m17 0h0m11 0h0m3 0h0m3 0h0m10 0h1M3 151h1m4 0h0m6 0h3m2 0h1m2 0h6m2 0h0m2 0h0m3 0h0m3 0h0m4 0h1m3 0h4m2 0h0m3 0h3m11 0h0m8 0h0m8 0h0m2 0h0m12 0h0m2 0h0m11 0h0m5 0h0m2 0h0m3 0h2m13 0h0m61 0h0M3 152h0m2 0h0m2 0h2m3 0h0m2 0h2m2 0h0m2 0h2m2 0h2m2 0h5m2 0h2m2 0h0m2 0h1m2 0h0m4 0h0m5 0h0m2 0h1m10 0h0m8 0h0m21 0h0m4 0h0m5 0h0m2 0h0m12 0h0m6 0h0m5 0h0m9 0h0m21 0h0M6 153h2m2 0h2m2 0h1m2 0h3m2 0h8m2 0h4m2 0h0m2 0h1m5 0h1m4 0h0m9 0h0m18 0h0m19 0h0m5 0h0m7 0h0m4 0h0m2 0h0m2 0h0m6 0h0m3 0h0m4 0h0m10 0h0M3 154h0m2 0h0m2 0h0m2 0h0m2 0h1m2 0h0m2 0h1m2 0h0m2 0h0m2 0h3m3 0h1m2 0h4m2 0h1m3 0h0m6 0h2m2 0h0m3 0h0m2 0h0m9 0h0m9 0h0m11 0h0m16 0h0m4 0h0m2 0h0m2 0h1m2 0h1m2 0h0m13 0h0m8 0h0m3 0h0m6 0h0m2 0h0m5 0h0M12 155h0m2 0h0m5 0h1m2 0h1m3 0h7m2 0h0m2 0h1m6 0h1m2 0h0m4 0h0m6 0h0m35 0h0m6 0h1m3 0h1m5 0h0m2 0h0m26 0h0M3 156h0m3 0h0m3 0h1m2 0h0m5 0h4m2 0h3m2 0h3m2 0h4m2 0h0m3 0h0m3 0h0m2 0h0m2 0h0m5 0h0m2 0h0m3 0h0m12 0h0m20 0h0m4 0h0m3 0h1m5 0h1m4 0h0m3 0h0m2 0h1m4 0h0m6 0h0m2 0h0m8 0h0m2 0h0m16 0h0M3 157h0m2 0h0m8 0h1m2 0h1m3 0h7m4 0h0m3 0h6m7 0h1m9 0h0m2 0h0m7 0h0m11 0h0m18 0h0m2 0h0m16 0h0m3 0h0m6 0h1m38 0h0M2 158h1m4 0h0m2 0h0m2 0h1m4 0h12m2 0h1m2 0h0m3 0h1m2 0h1m4 0h0m2 0h0m4 0h1m4 0h1m33 0h0m9 0h0m4 0h0m5 0h1m26 0h0m5 0h0m2 0h1m2 0h0m6 0h0M2 159h3m8 0h0m2 0h0m2 0h0m2 0h0m3 0h2m2 0h1m4 0h0m2 0h1m2 0h5m3 0h0m2 0h0m36 0h0m6 0h0m4 0h0m4 0h0m6 0h0m5 0h0m4 0h0m2 0h0m6 0h0m2 0h0m5 0h0m3 0h0M3 160h0m3 0h1m3 0h0m2 0h2m7 0h3m3 0h0m2 0h0m2 0h0m3 0h2m2 0h1m2 0h0m5 0h0m11 0h0m31 0h2m6 0h0m4 0h0m6 0h0m2 0h0m3 0h0m2 0h0m6 0h0m4 0h0m7 0h0m9 0h0m3 0h0m3 0h0M2 161h2m3 0h0m3 0h1m3 0h0m4 0h9m2 0h1m3 0h2m2 0h2m4 0h0m2 0h1m30 0h0m10 0h0m19 0h0m5 0h0m3 0h0m2 0h1m6 0h0m10 0h0m10 0h0m8 0h0M3 162h0m2 0h0m2 0h1m3 0h0m3 0h0m2 0h0m2 0h0m2 0h0m2 0h1m2 0h1m2 0h5m5 0h0m2 0h0m24 0h0m15 0h0m13 0h0m2 0h0m15 0h1m15 0h0m27 0h0M3 163h0m3 0h0m2 0h2m4 0h0m3 0h0m3 0h2m2 0h0m2 0h1m3 0h0m5 0h1m24 0h0m3 0h0m14 0h0m4 0h0m6 0h0m2 0h1m10 0h1m6 0h0m2 0h0m7 0h0m3 0h0m3 0h0m2 0h0m9 0h0m2 0h0m8 0h0m2 0h0m9 0h0M3 164h3m9 0h0m2 0h3m3 0h1m6 0h1m5 0h0m5 0h0m7 0h0m2 0h0m2 0h0m42 0h0m5 0h0m7 0h0m2 0h0m25 0h0M5 165h0m4 0h0m6 0h0m4 0h0m5 0h1m5 0h1m12 0h0m31 0h0m23 0h0m8 0h0m25 0h0m24 0h0M16 166h0m3 0h1m16 0h0m3 0h1m53 0h0m4 0h0m7 0h0m4 0h0m6 0h1m6 0h0m2 0h0m16 0h1m8 0h0M3 167h1m9 0h1m3 0h1m2 0h0m2 0h2m2 0h1m11 0h0m24 0h0m8 0h0m21 0h0m6 0h0m16 0h0m8 0h0m4 0h0m8 0h0M3 168h0m4 0h0m3 0h0m3 0h0m3 0h0m2 0h0m2 0h1m2 0h0m2 0h2m13 0h0m2 0h0m17 0h0m26 0h0m8 0h0m12 0h0m7 0h1m14 0h0m2 0h0m12 0h1M5 169h0m3 0h0m2 0h0m2 0h0m6 0h1m6 0h0m6 0h0m2 0h0m5 0h0m4 0h0m38 0h0m9 0h0m10 0h1m9 0h0m2 0h0m10 0h0m4 0h0m5 0h0m20 0h0M7 170h0m3 0h2m7 0h0m3 0h1m3 0h2m6 0h0m5 0h0m54 0h0m14 0h0m4 0h0m8 0h0m7 0h0m12 0h0M3 171h0m10 0h2m3 0h0m3 0h0m3 0h0m3 0h0m36 0h0m35 0h2m3 0h0m6 0h0m3 0h0m10 0h0m6 0h0m26 0h0M5 172h1m2 0h0m4 0h0m2 0h0m4 0h2m6 0h0m8 0h0m2 0h0m55 0h0m19 0h0m4 0h2M6 173h1m3 0h0m6 0h0m4 0h0m2 0h2m3 0h0m4 0h1m77 0h0m60 0h0M22 174h0m5 0h0m8 0h0m53 0h0m36 0h0m17 0h1m4 0h0M3 175h0m13 0h0m3 0h0m70 0h0m4 0h0m13 0h0m9 0h0m6 0h0m8 0h0M6 176h0m4 0h0m11 0h0m92 0h0m19 0h0M16 177h0m7 0h0m64 0h0m18 0h0m15 0h0m5 0h0m9 0h0M25 178h0m7 0h0m70 0h0m4 0h0m5 0h0m4 0h0M16 179h0m2 0h0m62 0h0m3 0h0m27 0h0m7 0h0m2 0h0M17 180h0m79 0h0m16 0h0M7 181h0m2 0h0m9 0h0m63 0h0m57 0h0M4 182h0m3 0h1m118 0h0m19 0h0m4 0h0M90 183h0m17 0h0m6 0h0m19 0h0M35 184h0m78 0h0m7 0h0m11 0h0M19 185h0m7 0h0m47 0h0m21 0h0m3 0h0M59 186h0m93 0h0m2 0h1m2 0h0M19 187h0m82 0h0m32 0h0m3 0h0m3 0h4m2 0h0m5 0h0m4 0h0m6 0h0M28 188h0m65 0h0m29 0h0m6 0h0m6 0h0m2 0h0m2 0h4m2 0h9m4 0h1m3 0h0" stroke="#000" stroke-width="1.6" stroke-linecap="square" fill="none"/></g>
<rect x="72" y="430.8" width="121.5" height="95.30000000000001" fill="none" stroke="#111" stroke-width="1.1"/>
<path d="M109.7 430.8V526.1M72 491.2H193.5" stroke="#111" stroke-width="1.2" fill="none"/>
<path d="M72.0 526.1v2.5M72 526.1h-2.5M81.1 526.1v1.4M72 518.9h-1.4M86.5 526.1v1.4M72 514.7h-1.4M90.3 526.1v1.4M72 511.8h-1.4M93.2 526.1v1.4M72 509.4h-1.4M95.6 526.1v1.4M72 507.6h-1.4M97.7 526.1v1.4M72 506.0h-1.4M99.4 526.1v1.4M72 504.6h-1.4M101.0 526.1v1.4M72 503.4h-1.4M102.4 526.1v2.5M72 502.3h-2.5M111.5 526.1v1.4M72 495.1h-1.4M116.9 526.1v1.4M72 490.9h-1.4M120.7 526.1v1.4M72 487.9h-1.4M123.6 526.1v1.4M72 485.6h-1.4M126.0 526.1v1.4M72 483.7h-1.4M128.0 526.1v1.4M72 482.1h-1.4M129.8 526.1v1.4M72 480.8h-1.4M131.4 526.1v1.4M72 479.5h-1.4M132.8 526.1v2.5M72 478.5h-2.5M141.9 526.1v1.4M72 471.3h-1.4M147.2 526.1v1.4M72 467.1h-1.4M151.0 526.1v1.4M72 464.1h-1.4M154.0 526.1v1.4M72 461.8h-1.4M156.4 526.1v1.4M72 459.9h-1.4M158.4 526.1v1.4M72 458.3h-1.4M160.2 526.1v1.4M72 456.9h-1.4M161.7 526.1v1.4M72 455.7h-1.4M163.1 526.1v2.5M72 454.6h-2.5M172.3 526.1v1.4M72 447.5h-1.4M177.6 526.1v1.4M72 443.3h-1.4M181.4 526.1v1.4M72 440.3h-1.4M184.4 526.1v1.4M72 438.0h-1.4M186.8 526.1v1.4M72 436.1h-1.4M188.8 526.1v1.4M72 434.5h-1.4M190.6 526.1v1.4M72 433.1h-1.4M192.1 526.1v1.4M72 431.9h-1.4M193.5 526.1v2.5M72 430.8h-2.5" stroke="#222" stroke-width="0.55" fill="none"/>
<text transform="translate(68.7 536.1) scale(0.9 1)" font-family="Liberation Sans, sans-serif" font-weight="bold" font-size="6.9" fill="#111">10<tspan dy="-2.7" font-size="5.9">0</tspan></text>
<text transform="translate(67.0 529.9) rotate(-90) scale(0.9 1)" font-family="Liberation Sans, sans-serif" font-weight="bold" font-size="6.9" fill="#111">10<tspan dy="-2.7" font-size="5.9">0</tspan></text>
<text transform="translate(99.1 536.1) scale(0.9 1)" font-family="Liberation Sans, sans-serif" font-weight="bold" font-size="6.9" fill="#111">10<tspan dy="-2.7" font-size="5.9">1</tspan></text>
<text transform="translate(67.0 506.1) rotate(-90) scale(0.9 1)" font-family="Liberation Sans, sans-serif" font-weight="bold" font-size="6.9" fill="#111">10<tspan dy="-2.7" font-size="5.9">1</tspan></text>
<text transform="translate(129.4 536.1) scale(0.9 1)" font-family="Liberation Sans, sans-serif" font-weight="bold" font-size="6.9" fill="#111">10<tspan dy="-2.7" font-size="5.9">2</tspan></text>
<text transform="translate(67.0 482.3) rotate(-90) scale(0.9 1)" font-family="Liberation Sans, sans-serif" font-weight="bold" font-size="6.9" fill="#111">10<tspan dy="-2.7" font-size="5.9">2</tspan></text>
<text transform="translate(159.8 536.1) scale(0.9 1)" font-family="Liberation Sans, sans-serif" font-weight="bold" font-size="6.9" fill="#111">10<tspan dy="-2.7" font-size="5.9">3</tspan></text>
<text transform="translate(67.0 458.4) rotate(-90) scale(0.9 1)" font-family="Liberation Sans, sans-serif" font-weight="bold" font-size="6.9" fill="#111">10<tspan dy="-2.7" font-size="5.9">3</tspan></text>
<text transform="translate(190.2 536.1) scale(0.9 1)" font-family="Liberation Sans, sans-serif" font-weight="bold" font-size="6.9" fill="#111">10<tspan dy="-2.7" font-size="5.9">4</tspan></text>
<text transform="translate(67.0 434.6) rotate(-90) scale(0.9 1)" font-family="Liberation Sans, sans-serif" font-weight="bold" font-size="6.9" fill="#111">10<tspan dy="-2.7" font-size="5.9">4</tspan></text>
<text x="133.2" y="542.4" text-anchor="middle" font-family="Liberation Sans, sans-serif" font-weight="bold" font-size="5.8" fill="#111">FL1-H</text>
<text transform="translate(60.7 480.0) rotate(-90)" text-anchor="middle" font-family="Liberation Sans, sans-serif" font-weight="bold" font-size="5.8" fill="#111">FL2-H</text>
<text transform="translate(107.2 449.3) scale(0.91 1)" text-anchor="end" font-family="Liberation Serif, serif" font-size="10.7" fill="#111">24.4%</text>
<text transform="translate(190.3 449.3) scale(0.91 1)" text-anchor="end" font-family="Liberation Serif, serif" font-size="10.7" fill="#111">8.2%</text>
<text transform="translate(191 508) scale(0.91 1)" text-anchor="end" font-family="Liberation Serif, serif" font-size="10.7" fill="#111">21.1%</text>
<g transform="translate(227.2 437.2) scale(0.5)"><path d="M55 57h0M156 58h0M56 59h0M97 67h0M108 68h0M128 69h0M86 73h0M61 75h0m3 0h0M49 76h0m35 0h0M124 79h0m4 0h0M63 80h0m51 0h0M18 81h0m91 0h0M60 82h0m41 0h0m26 0h0M40 83h0m35 0h0m31 0h0m10 0h0m10 0h0m8 0h0M26 84h0m25 0h0m27 0h0m29 0h0m18 0h0m4 0h0M24 85h0m36 0h0m31 0h0m25 0h0m5 0h0m2 0h0M2 86h0m73 0h0m25 0h0m25 0h0m24 0h0M33 87h0m26 0h0m47 0h0m8 0h0M22 88h0m10 0h0m23 0h0m37 0h0m17 0h0m4 0h0m9 0h0M47 89h0m3 0h0m10 0h0m5 0h0m30 0h0m6 0h0m4 0h0m27 0h0m9 0h0M41 90h0m2 0h0m3 0h0m10 0h1m2 0h0m4 0h0m29 0h0m2 0h0m6 0h0m6 0h0m4 0h0m2 0h0m2 0h2m2 0h0m9 0h0m7 0h0M3 91h0m26 0h0m3 0h0m3 0h0m3 0h0m11 0h0m3 0h0m8 0h0m4 0h0m7 0h1m31 0h0m3 0h0m10 0h0m15 0h1M8 92h0m28 0h0m4 0h0m5 0h0m2 0h0m4 0h1m4 0h0m7 0h0m2 0h0m4 0h0m6 0h0m2 0h0m10 0h0m5 0h0m12 0h0m4 0h0m11 0h1M30 93h0m4 0h0m2 0h1m3 0h0m11 0h1m2 0h0m3 0h0m2 0h0m4 0h0m12 0h0m10 0h0m11 0h0m27 0h1m10 0h0M11 94h0m22 0h0m6 0h0m2 0h1m3 0h0m9 0h0m2 0h0m5 0h0m10 0h0m11 0h0m21 0h0m2 0h0m23 0h0M32 95h1m3 0h0m2 0h2m4 0h0m2 0h1m2 0h0m3 0h0m3 0h0m4 0h0m3 0h2m4 0h0m3 0h0m4 0h0m25 0h0m9 0h0m16 0h0m15 0h0M26 96h0m10 0h0m2 0h0m5 0h0m2 0h1m2 0h3m4 0h0m2 0h5m6 0h1m20 0h0m12 0h0m14 0h1m2 0h0m17 0h0M33 97h0m3 0h0m4 0h0m3 0h0m3 0h0m2 0h2m4 0h2m2 0h1m7 0h0m2 0h0m14 0h0m10 0h0m8 0h0m12 0h0M29 98h0m7 0h1m5 0h1m2 0h1m4 0h0m6 0h0m2 0h0m2 0h0m3 0h2m2 0h1m27 0h0m21 0h0m3 0h0m8 0h0M22 99h0m6 0h0m4 0h3m4 0h2m2 0h0m2 0h0m3 0h0m2 0h1m2 0h5m2 0h0m4 0h0m2 0h0m6 0h3m4 0h0m4 0h0m14 0h0m13 0h0m2 0h0m6 0h0m7 0h0m4 0h0m9 0h0m11 0h0M21 100h0m6 0h0m12 0h2m2 0h1m2 0h2m2 0h3m3 0h0m2 0h0m3 0h4m11 0h0m2 0h0m28 0h0m6 0h1m2 0h0m3 0h0m2 0h0m7 0h0M13 101h0m2 0h0m3 0h0m8 0h0m8 0h0m3 0h2m2 0h4m2 0h0m2 0h0m3 0h1m3 0h1m3 0h5m2 0h0m2 0h1m3 0h0m2 0h0m41 0h0M12 102h0m16 0h0m4 0h0m2 0h2m4 0h1m2 0h1m2 0h0m2 0h5m4 0h3m2 0h2m4 0h2m5 0h0m4 0h0m3 0h0m10 0h0m12 0h0m5 0h0m13 0h0m8 0h0M23 103h0m6 0h1m2 0h3m3 0h0m2 0h0m2 0h2m2 0h3m4 0h0m2 0h3m2 0h0m4 0h0m10 0h0m5 0h0m5 0h0m13 0h0m16 0h0m13 0h0m2 0h0m4 0h0M12 104h0m15 0h0m2 0h1m2 0h1m2 0h9m3 0h0m2 0h6m2 0h0m3 0h0m2 0h1m2 0h1m2 0h0m2 0h0m2 0h0m29 0h0m8 0h1m13 0h0m24 0h0M3 105h0m13 0h0m3 0h1m5 0h0m4 0h0m3 0h1m2 0h4m2 0h0m2 0h3m3 0h4m2 0h2m2 0h0m3 0h1m5 0h1m2 0h0m5 0h0m29 0h0m13 0h0M9 106h0m6 0h0m4 0h0m3 0h0m5 0h1m3 0h3m3 0h4m3 0h3m2 0h2m2 0h5m2 0h1m2 0h1m3 0h1m3 0h0m4 0h1m2 0h0M15 107h0m9 0h0m2 0h1m2 0h0m2 0h1m3 0h0m9 0h1m2 0h0m2 0h4m4 0h2m2 0h0m3 0h0m8 0h1m2 0h0m34 0h0m3 0h0M26 108h0m2 0h0m6 0h3m2 0h4m2 0h0m2 0h3m2 0h0m2 0h4m2 0h1m2 0h2m2 0h1m3 0h1m2 0h0m12 0h0m25 0h0m9 0h0M11 109h0m3 0h0m10 0h0m3 0h0m5 0h0m2 0h9m2 0h2m3 0h3m2 0h1m3 0h0m3 0h1m3 0h0m2 0h1m10 0h0m3 0h0m20 0h0m9 0h0m6 0h0m7 0h0m3 0h0M2 110h0m22 0h0m2 0h1m5 0h0m2 0h0m2 0h0m4 0h6m2 0h3m4 0h0m2 0h1m3 0h0m2 0h0m6 0h0m11 0h0m15 0h0M14 111h0m8 0h0m3 0h4m2 0h0m3 0h0m2 0h0m4 0h7m2 0h1m3 0h1m2 0h6m4 0h0m2 0h0m2 0h1m2 0h0m3 0h0m5 0h0m7 0h0m14 0h0m21 0h0M10 112h0m7 0h0m9 0h0m6 0h2m2 0h0m5 0h1m2 0h8m2 0h5m3 0h1m8 0h0m19 0h0m20 0h2M10 113h0m5 0h0m4 0h0m2 0h0m3 0h0m3 0h0m6 0h8m2 0h0m2 0h7m4 0h0m10 0h0m7 0h0m4 0h0m24 0h0m40 0h0M3 114h0m8 0h0m10 0h0m2 0h0m3 0h0m4 0h1m2 0h0m2 0h0m2 0h1m3 0h1m3 0h7m2 0h2m3 0h0m3 0h0m2 0h0m2 0h0m5 0h0m6 0h0m49 0h0M11 115h0m6 0h0m15 0h1m3 0h5m6 0h0m2 0h0m2 0h1m2 0h0m2 0h1m4 0h0m2 0h0m39 0h0M23 116h1m3 0h0m4 0h0m4 0h0m2 0h1m2 0h0m2 0h6m2 0h3m2 0h2m3 0h0m2 0h0m9 0h0m4 0h0m6 0h0m16 0h0M2 117h0m16 0h0m14 0h1m2 0h2m5 0h0m2 0h2m2 0h1m3 0h0m2 0h4m2 0h1m7 0h1m19 0h0m21 0h0m12 0h0M3 118h0m23 0h0m2 0h0m4 0h0m4 0h0m2 0h2m4 0h1m3 0h0m7 0h1m2 0h1m7 0h0m6 0h0m4 0h0m6 0h0m27 0h0m7 0h0m6 0h0m11 0h0m2 0h0M3 119h0m12 0h1m8 0h0m3 0h1m2 0h0m2 0h0m2 0h0m3 0h0m3 0h0m3 0h1m2 0h3m6 0h3m2 0h0m9 0h0m5 0h0m2 0h0m20 0h0m34 0h0M15 120h0m4 0h0m3 0h0m3 0h0m5 0h0m8 0h0m2 0h0m3 0h4m3 0h0m3 0h1m3 0h0m4 0h1m26 0h0m26 0h0m20 0h0M11 121h0m29 0h0m5 0h1m2 0h0m2 0h4m3 0h0m5 0h3m3 0h0m9 0h0M13 122h0m16 0h0m4 0h1m7 0h1m5 0h0m7 0h0m4 0h0m4 0h0m5 0h0m6 0h0m4 0h0m28 0h0M24 123h0m3 0h0m2 0h0m2 0h0m4 0h1m2 0h0m6 0h1m3 0h0m10 0h0m2 0h0m3 0h0m9 0h1M2 124h0m6 0h0m18 0h0m4 0h1m8 0h0m4 0h2m5 0h0m2 0h0m3 0h1m3 0h1m2 0h1m3 0h0m2 0h0m7 0h0M3 125h0m11 0h0m20 0h0m2 0h0m6 0h1m4 0h0m2 0h1m2 0h1m5 0h2m3 0h0m7 0h0m9 0h0m17 0h0m10 0h0M3 126h0m16 0h0m10 0h0m4 0h0m2 0h1m3 0h0m5 0h0m5 0h3m2 0h0m3 0h0m9 0h0m14 0h0m4 0h0m2 0h0m14 0h0m5 0h1m12 0h0m41 0h0M29 127h1m3 0h0m4 0h0m3 0h1m2 0h0m41 0h1m5 0h1m8 0h0m20 0h0m4 0h0m4 0h0M3 128h0m12 0h0m9 0h0m4 0h0m8 0h1m11 0h2m7 0h0m2 0h0m4 0h1m25 0h0m4 0h0m18 0h0m2 0h1m15 0h0m20 0h0M6 129h0m3 0h0m14 0h0m4 0h0m2 0h1m5 0h0m6 0h3m3 0h1m6 0h0m5 0h0m33 0h1m16 0h0m19 0h0M17 130h0m13 0h0m3 0h0m4 0h0m2 0h0m3 0h0m6 0h0m2 0h0m2 0h0m3 0h0m4 0h0m5 0h1m2 0h0m2 0h0m5 0h0m12 0h0m9 0h0m23 0h0m20 0h0M10 131h1m19 0h2m2 0h1m2 0h0m4 0h1m2 0h0m2 0h0m2 0h0m2 0h0m18 0h1m27 0h0m12 0h0m14 0h0m4 0h0m17 0h0M10 132h0m4 0h1m10 0h0m8 0h1m2 0h0m4 0h0m4 0h0m3 0h0m5 0h0m3 0h0m2 0h0m4 0h0m2 0h0m3 0h0m3 0h0m8 0h0m12 0h0m3 0h0m7 0h0m6 0h0m6 0h0m2 0h0m5 0h0m20 0h0M13 133h0m2 0h1m4 0h1m3 0h0m6 0h0m3 0h0m4 0h1m3 0h0m4 0h2m3 0h1m5 0h0m2 0h0m2 0h0m4 0h0m4 0h1m6 0h0m3 0h2m16 0h1m3 0h0m10 0h0m2 0h1m5 0h0m3 0h0m17 0h0M14 134h0m7 0h0m5 0h0m4 0h0m3 0h2m3 0h1m2 0h0m2 0h0m4 0h1m4 0h0m3 0h0m7 0h0m3 0h1m3 0h1m2 0h0m4 0h1m16 0h1m2 0h0m2 0h0m7 0h0m7 0h0m14 0h0M5 135h0m2 0h0m6 0h1m3 0h0m7 0h0m7 0h0m2 0h0m4 0h0m2 0h0m2 0h0m2 0h1m2 0h8m2 0h0m6 0h0m7 0h0m6 0h0m4 0h0m12 0h0m4 0h0m5 0h0m4 0h0m7 0h1m9 0h0m7 0h0M3 136h0m2 0h0m8 0h0m8 0h0m2 0h0m15 0h0m2 0h1m3 0h0m2 0h0m3 0h0m2 0h0m2 0h6m5 0h0m7 0h0m5 0h0m2 0h0m2 0h0m2 0h1m4 0h1m4 0h0m4 0h0m15 0h0m10 0h1m2 0h0m5 0h0m7 0h0m10 0h0M3 137h0m11 0h0m13 0h1m2 0h2m6 0h0m2 0h0m6 0h1m2 0h6m2 0h0m3 0h1m3 0h2m3 0h2m6 0h0m7 0h0m4 0h0m6 0h0m4 0h0m3 0h1m9 0h0m5 0h0m3 0h1M14 138h0m2 0h1m6 0h0m7 0h0m2 0h0m3 0h0m2 0h2m2 0h0m2 0h3m2 0h0m3 0h1m2 0h1m8 0h0m2 0h0m2 0h0m17 0h0m3 0h0m3 0h0m7 0h0m2 0h1m2 0h0m4 0h0m16 0h0m3 0h0m21 0h1M3 139h0m21 0h0m11 0h0m2 0h0m6 0h4m2 0h0m2 0h0m3 0h0m2 0h2m4 0h0m3 0h1m2 0h0m5 0h0m2 0h1m13 0h1m2 0h0m5 0h0m4 0h1m4 0h0m2 0h0m5 0h0m2 0h0m6 0h0m22 0h0m10 0h0M3 140h0m3 0h0m2 0h0m12 0h0m3 0h2m2 0h0m2 0h0m3 0h0m3 0h0m4 0h1m2 0h1m3 0h0m2 0h4m2 0h0m2 0h1m2 0h3m3 0h0m2 0h0m3 0h0m2 0h1m3 0h0m5 0h0m2 0h0m4 0h0m3 0h0m3 0h0m5 0h0m4 0h2m3 0h0m2 0h0m3 0h0m3 0h0m2 0h0m28 0h0m6 0h0M8 141h0m5 0h0m7 0h0m3 0h0m5 0h0m3 0h0m3 0h0m2 0h2m2 0h3m2 0h0m2 0h0m6 0h0m2 0h0m3 0h0m3 0h0m2 0h0m3 0h1m4 0h0m2 0h0m3 0h0m6 0h1m2 0h0m6 0h1m4 0h0m2 0h0m3 0h0m2 0h0m6 0h0m6 0h0m2 0h0m4 0h0m8 0h0M3 142h0m7 0h0m4 0h0m4 0h0m3 0h1m2 0h0m2 0h0m6 0h4m3 0h1m2 0h1m4 0h2m2 0h3m2 0h0m2 0h0m7 0h0m3 0h0m2 0h0m2 0h0m3 0h0m19 0h0m3 0h1m4 0h0m3 0h0m3 0h0m3 0h0m2 0h1m9 0h0m4 0h0m4 0h0m18 0h0m2 0h0m3 0h0M3 143h1m2 0h0m6 0h0m3 0h0m10 0h3m5 0h3m2 0h1m2 0h4m4 0h0m2 0h2m5 0h3m4 0h2m3 0h0m10 0h0m7 0h0m4 0h0m2 0h0m3 0h0m3 0h0m4 0h0m3 0h0m4 0h1m4 0h0m2 0h0m4 0h0m5 0h0m5 0h0m3 0h0m4 0h0m2 0h0m8 0h0M11 144h0m2 0h0m4 0h0m3 0h2m5 0h0m2 0h2m2 0h0m2 0h2m2 0h4m2 0h2m2 0h1m3 0h0m2 0h3m3 0h0m2 0h0m3 0h1m2 0h2m8 0h0m6 0h0m2 0h2m3 0h0m2 0h0m4 0h2m3 0h0m2 0h1m2 0h0m2 0h0m2 0h0m3 0h1m2 0h1m7 0h0m3 0h0m4 0h1m6 0h1m12 0h0m5 0h0M2 145h1m8 0h1m3 0h1m4 0h0m2 0h0m3 0h3m2 0h0m2 0h2m2 0h0m2 0h0m2 0h0m2 0h3m3 0h0m3 0h1m4 0h0m5 0h3m4 0h1m3 0h0m2 0h0m3 0h1m5 0h2m3 0h7m2 0h2m4 0h0m8 0h0m4 0h0m4 0h0m2 0h2m12 0h0m8 0h0M10 146h1m2 0h1m9 0h0m2 0h0m2 0h1m4 0h1m2 0h1m2 0h5m3 0h2m2 0h6m3 0h1m7 0h2m3 0h0m2 0h0m3 0h1m3 0h1m2 0h3m2 0h0m8 0h1m2 0h4m2 0h0m2 0h0m2 0h1m9 0h2m2 0h1m2 0h0m2 0h0m4 0h0m4 0h1M3 147h0m4 0h0m4 0h0m5 0h1m2 0h0m3 0h0m4 0h0m2 0h0m2 0h0m3 0h0m2 0h0m2 0h0m2 0h3m2 0h1m2 0h5m3 0h0m2 0h1m2 0h2m6 0h0m4 0h1m3 0h0m3 0h0m3 0h0m3 0h0m6 0h0m11 0h1m3 0h1m2 0h2m4 0h0m7 0h0m2 0h1m4 0h0m11 0h0M3 148h2m5 0h0m4 0h0m3 0h0m2 0h4m4 0h1m5 0h0m2 0h1m3 0h0m2 0h1m2 0h8m3 0h3m2 0h3m2 0h0m3 0h1m7 0h0m4 0h2m5 0h0m4 0h2m2 0h0m3 0h1m3 0h0m3 0h1m2 0h1m4 0h2m2 0h0m2 0h0m3 0h0m5 0h0m3 0h0m3 0h0m3 0h0m2 0h0m38 0h0M8 149h0m3 0h0m5 0h0m2 0h1m6 0h2m3 0h4m4 0h2m2 0h0m2 0h2m4 0h0m3 0h6m2 0h2m2 0h0m2 0h0m3 0h0m2 0h4m2 0h1m2 0h0m5 0h1m4 0h1m6 0h0m3 0h0m2 0h0m9 0h0m3 0h2m2 0h2m2 0h3m2 0h0m5 0h0m10 0h0M3 150h1m3 0h0m2 0h0m3 0h0m4 0h3m6 0h0m3 0h2m4 0h0m3 0h1m4 0h4m2 0h4m4 0h2m2 0h3m6 0h3m3 0h1m7 0h1m4 0h0m6 0h1m4 0h1m6 0h1m4 0h0m2 0h1m3 0h0m2 0h0m4 0h0m3 0h0m2 0h1m10 0h0M3 151h0m2 0h1m5 0h0m3 0h0m2 0h1m13 0h1m2 0h0m2 0h2m2 0h6m2 0h8m2 0h0m3 0h0m3 0h0m2 0h1m4 0h4m6 0h1m3 0h0m2 0h1m7 0h0m4 0h0m2 0h2m5 0h0m2 0h0m2 0h2m2 0h2m2 0h0m2 0h0m2 0h0m4 0h0m9 0h0m12 0h0M7 152h0m2 0h0m8 0h0m4 0h0m2 0h1m3 0h0m3 0h0m2 0h5m2 0h2m2 0h1m2 0h0m2 0h1m2 0h2m2 0h3m3 0h1m3 0h0m3 0h0m2 0h1m6 0h1m10 0h0m3 0h2m2 0h0m5 0h1m5 0h1m3 0h1m4 0h0m3 0h0m2 0h2m4 0h0m2 0h0m5 0h1m14 0h0m2 0h0M10 153h0m8 0h1m2 0h1m5 0h5m3 0h1m2 0h0m3 0h0m2 0h2m2 0h0m4 0h0m2 0h8m4 0h2m7 0h1m5 0h5m2 0h0m6 0h1m14 0h0m5 0h1m8 0h1m7 0h0m4 0h0m4 0h0M14 154h2m3 0h0m2 0h1m2 0h0m2 0h0m3 0h0m3 0h0m2 0h2m2 0h0m2 0h0m2 0h9m2 0h1m2 0h0m2 0h5m3 0h0m6 0h0m3 0h2m3 0h0m2 0h0m3 0h0m2 0h0m5 0h0m4 0h0m2 0h0m5 0h0m2 0h0m6 0h0m2 0h0m3 0h0m2 0h0m2 0h0m7 0h0m3 0h0m2 0h0m12 0h0m10 0h0M5 155h0m5 0h1m11 0h1m5 0h0m2 0h2m2 0h1m2 0h0m2 0h1m2 0h0m2 0h1m2 0h0m3 0h0m2 0h4m2 0h1m3 0h0m4 0h2m3 0h0m4 0h0m6 0h1m4 0h0m2 0h0m2 0h0m5 0h1m2 0h1m3 0h1m4 0h1m3 0h0m2 0h0m5 0h0m2 0h0m2 0h0m4 0h0m19 0h0m3 0h0M10 156h1m2 0h0m6 0h0m5 0h0m2 0h0m2 0h1m2 0h0m3 0h0m2 0h4m2 0h4m3 0h0m2 0h1m2 0h1m3 0h0m2 0h2m5 0h0m2 0h1m3 0h2m3 0h0m3 0h0m2 0h0m3 0h1m3 0h0m8 0h1m3 0h0m2 0h1m3 0h1m2 0h1m8 0h0m4 0h2m6 0h0m4 0h0m14 0h0m8 0h0M12 157h0m3 0h0m3 0h0m2 0h0m3 0h14m2 0h3m2 0h0m2 0h1m2 0h0m3 0h2m2 0h6m3 0h1m2 0h0m2 0h1m2 0h0m7 0h1m4 0h0m3 0h0m8 0h1m3 0h0m5 0h0m3 0h0m6 0h0m2 0h0m4 0h0m2 0h3m4 0h0m2 0h0m5 0h0M3 158h1m2 0h0m2 0h0m16 0h2m4 0h4m2 0h4m2 0h0m6 0h0m3 0h2m3 0h5m3 0h0m2 0h0m2 0h0m2 0h1m7 0h0m3 0h0m4 0h0m12 0h0m4 0h0m16 0h0m3 0h0m2 0h0m2 0h0m4 0h0m2 0h1m4 0h1M3 159h0m4 0h0m3 0h0m7 0h0m4 0h0m2 0h0m4 0h0m3 0h1m4 0h0m2 0h0m2 0h0m2 0h0m3 0h3m2 0h0m2 0h1m7 0h0m2 0h0m2 0h1m3 0h1m3 0h2m4 0h1m7 0h0m3 0h1m2 0h0m5 0h1m9 0h0m3 0h0m5 0h0m4 0h0m12 0h0m16 0h0M5 160h0m12 0h0m4 0h0m6 0h1m2 0h1m2 0h0m2 0h2m3 0h4m2 0h2m2 0h4m4 0h1m2 0h3m6 0h1m6 0h0m4 0h1m9 0h0m11 0h0m4 0h1m2 0h0m2 0h1m3 0h0m3 0h0m2 0h0m13 0h0m11 0h0m4 0h0M14 161h0m3 0h0m2 0h0m2 0h1m3 0h1m6 0h0m3 0h3m2 0h2m3 0h3m2 0h5m2 0h0m2 0h0m3 0h1m2 0h0m3 0h0m5 0h0m6 0h0m13 0h3m2 0h0m4 0h2m2 0h0m11 0h2m8 0h0m6 0h0m29 0h0M2 162h1m5 0h0m7 0h1m3 0h0m3 0h0m2 0h2m6 0h0m2 0h2m2 0h2m6 0h0m3 0h1m2 0h6m7 0h1m3 0h0m9 0h0m5 0h1m6 0h0m3 0h0m4 0h1m4 0h1m6 0h0m3 0h0m5 0h0m2 0h2m10 0h0m3 0h0m3 0h0m2 0h0m2 0h0M3 163h0m8 0h1m5 0h0m4 0h0m2 0h0m2 0h0m4 0h0m5 0h1m2 0h0m3 0h1m5 0h1m4 0h1m3 0h1m2 0h0m4 0h0m5 0h1m18 0h0m5 0h0m4 0h0m5 0h0m2 0h0m5 0h0m6 0h0m26 0h0m6 0h0M2 164h1m5 0h0m8 0h0m4 0h0m2 0h0m2 0h0m6 0h0m2 0h0m2 0h0m3 0h1m2 0h1m2 0h1m6 0h4m4 0h0m6 0h0m2 0h0m5 0h0m2 0h0m11 0h1m5 0h0m5 0h0m2 0h0m3 0h0m7 0h0m3 0h0m5 0h1m5 0h0m23 0h0M4 165h0m4 0h0m9 0h0m2 0h0m3 0h0m9 0h1m7 0h0m3 0h0m3 0h0m2 0h0m3 0h0m4 0h1m7 0h0m3 0h0m5 0h0m3 0h0m10 0h0m3 0h0m6 0h0m2 0h0m2 0h2m8 0h0m4 0h0m4 0h0m8 0h0m5 0h0M6 166h0m8 0h0m7 0h0m6 0h0m3 0h3m4 0h0m2 0h2m3 0h0m3 0h0m3 0h1m5 0h1m5 0h0m3 0h0m3 0h0m2 0h1m12 0h0m2 0h0m7 0h0m8 0h0m17 0h0m14 0h0M3 167h0m9 0h0m6 0h0m2 0h0m3 0h0m2 0h2m5 0h3m2 0h2m6 0h1m2 0h0m2 0h0m2 0h1m2 0h0m3 0h0m4 0h3m2 0h1m2 0h0m16 0h0m19 0h0m4 0h0m3 0h0m2 0h0m5 0h0m7 0h0m21 0h0M6 168h0m2 0h0m2 0h0m13 0h0m3 0h0m3 0h0m7 0h0m2 0h0m3 0h0m5 0h0m6 0h0m2 0h1m8 0h0m2 0h1m8 0h0m7 0h0m11 0h0m11 0h1m7 0h0m25 0h0m34 0h0M2 169h1m5 0h0m4 0h0m15 0h0m3 0h0m11 0h0m2 0h0m4 0h0m4 0h1m3 0h2m3 0h0m15 0h0m10 0h0m9 0h2m13 0h0m4 0h0m13 0h0m9 0h0m15 0h0m5 0h0M3 170h0m7 0h0m2 0h0m3 0h0m2 0h0m5 0h2m4 0h0m4 0h0m3 0h0m5 0h0m4 0h1m5 0h2m7 0h0m5 0h0m15 0h0m2 0h0m7 0h0m5 0h0m4 0h0m6 0h0m24 0h0M3 171h0m17 0h0m16 0h0m7 0h0m6 0h0m2 0h0m12 0h0m7 0h0m5 0h0m5 0h0m9 0h0m11 0h0m16 0h0M11 172h0m2 0h0m4 0h0m10 0h0m2 0h0m6 0h0m2 0h0m2 0h0m3 0h0m3 0h0m13 0h2m4 0h0m24 0h0m20 0h0m35 0h0m3 0h0M30 173h0m13 0h0m4 0h0m2 0h2m6 0h0m6 0h0m9 0h0m8 0h0m12 0h0m16 0h0m3 0h0m5 0h0m13 0h0m2 0h0M31 174h0m8 0h0m6 0h0m6 0h0m27 0h0m27 0h0m5 0h0m7 0h0m13 0h0m15 0h0M3 175h0m21 0h1m7 0h0m3 0h0m5 0h0m3 0h0m3 0h0m62 0h0m18 0h0M16 176h0m13 0h0m8 0h0m7 0h0m14 0h0m13 0h0m20 0h0M6 177h0m16 0h0m7 0h0m2 0h0m7 0h0m2 0h0m2 0h1m2 0h0m8 0h0m24 0h0m5 0h0m34 0h0m5 0h0M11 178h0m10 0h0m17 0h0m6 0h0m13 0h1m26 0h0m4 0h0m13 0h0m7 0h0m2 0h0m7 0h0M10 179h0m9 0h0m8 0h0m18 0h0m6 0h0m15 0h0M56 180h0m11 0h0m16 0h0m15 0h0m2 0h0M13 181h0m24 0h0m9 0h0m31 0h0m48 0h0M27 182h0m6 0h0m6 0h0m84 0h0M3 183h0m21 0h0m2 0h0m14 0h0m47 0h0m42 0h0m12 0h0M43 184h0m7 0h0m37 0h1m26 0h0M2 185h0m57 0h0m53 0h0m2 0h0m12 0h0m2 0h0m3 0h0m7 0h0m9 0h0m26 0h0M32 186h0m15 0h0m25 0h1m2 0h0m5 0h0m9 0h0m15 0h1m5 0h0m3 0h0m3 0h0m3 0h2m3 0h1m2 0h0m5 0h0m8 0h2m4 0h0m3 0h0m2 0h1M27 187h0m30 0h0m10 0h0m6 0h0m36 0h0m2 0h0m11 0h3m3 0h0m5 0h0m7 0h0m2 0h0m28 0h0" stroke="#000" stroke-width="1.6" stroke-linecap="square" fill="none"/></g>
<rect x="227.2" y="437.2" width="115.5" height="94.59999999999997" fill="none" stroke="#111" stroke-width="1.1"/>
<path d="M264.7 437.2V531.8M227.2 501.2H342.7" stroke="#111" stroke-width="1.2" fill="none"/>
<path d="M227.2 531.8v2.5M227.2 531.8h-2.5M235.9 531.8v1.4M227.2 524.7h-1.4M241.0 531.8v1.4M227.2 520.5h-1.4M244.6 531.8v1.4M227.2 517.6h-1.4M247.4 531.8v1.4M227.2 515.3h-1.4M249.7 531.8v1.4M227.2 513.4h-1.4M251.6 531.8v1.4M227.2 511.8h-1.4M253.3 531.8v1.4M227.2 510.4h-1.4M254.8 531.8v1.4M227.2 509.2h-1.4M256.1 531.8v2.5M227.2 508.1h-2.5M264.8 531.8v1.4M227.2 501.0h-1.4M269.9 531.8v1.4M227.2 496.9h-1.4M273.5 531.8v1.4M227.2 493.9h-1.4M276.3 531.8v1.4M227.2 491.6h-1.4M278.5 531.8v1.4M227.2 489.7h-1.4M280.5 531.8v1.4M227.2 488.2h-1.4M282.2 531.8v1.4M227.2 486.8h-1.4M283.6 531.8v1.4M227.2 485.6h-1.4M284.9 531.8v2.5M227.2 484.5h-2.5M293.6 531.8v1.4M227.2 477.4h-1.4M298.7 531.8v1.4M227.2 473.2h-1.4M302.3 531.8v1.4M227.2 470.3h-1.4M305.1 531.8v1.4M227.2 468.0h-1.4M307.4 531.8v1.4M227.2 466.1h-1.4M309.4 531.8v1.4M227.2 464.5h-1.4M311.0 531.8v1.4M227.2 463.1h-1.4M312.5 531.8v1.4M227.2 461.9h-1.4M313.8 531.8v2.5M227.2 460.8h-2.5M322.5 531.8v1.4M227.2 453.7h-1.4M327.6 531.8v1.4M227.2 449.6h-1.4M331.2 531.8v1.4M227.2 446.6h-1.4M334.0 531.8v1.4M227.2 444.3h-1.4M336.3 531.8v1.4M227.2 442.4h-1.4M338.2 531.8v1.4M227.2 440.9h-1.4M339.9 531.8v1.4M227.2 439.5h-1.4M341.4 531.8v1.4M227.2 438.3h-1.4M342.7 531.8v2.5M227.2 437.2h-2.5" stroke="#222" stroke-width="0.55" fill="none"/>
<text transform="translate(223.9 541.8) scale(0.9 1)" font-family="Liberation Sans, sans-serif" font-weight="bold" font-size="6.9" fill="#111">10<tspan dy="-2.7" font-size="5.9">0</tspan></text>
<text transform="translate(222.2 535.6) rotate(-90) scale(0.9 1)" font-family="Liberation Sans, sans-serif" font-weight="bold" font-size="6.9" fill="#111">10<tspan dy="-2.7" font-size="5.9">0</tspan></text>
<text transform="translate(252.8 541.8) scale(0.9 1)" font-family="Liberation Sans, sans-serif" font-weight="bold" font-size="6.9" fill="#111">10<tspan dy="-2.7" font-size="5.9">1</tspan></text>
<text transform="translate(222.2 511.9) rotate(-90) scale(0.9 1)" font-family="Liberation Sans, sans-serif" font-weight="bold" font-size="6.9" fill="#111">10<tspan dy="-2.7" font-size="5.9">1</tspan></text>
<text transform="translate(281.6 541.8) scale(0.9 1)" font-family="Liberation Sans, sans-serif" font-weight="bold" font-size="6.9" fill="#111">10<tspan dy="-2.7" font-size="5.9">2</tspan></text>
<text transform="translate(222.2 488.3) rotate(-90) scale(0.9 1)" font-family="Liberation Sans, sans-serif" font-weight="bold" font-size="6.9" fill="#111">10<tspan dy="-2.7" font-size="5.9">2</tspan></text>
<text transform="translate(310.5 541.8) scale(0.9 1)" font-family="Liberation Sans, sans-serif" font-weight="bold" font-size="6.9" fill="#111">10<tspan dy="-2.7" font-size="5.9">3</tspan></text>
<text transform="translate(222.2 464.6) rotate(-90) scale(0.9 1)" font-family="Liberation Sans, sans-serif" font-weight="bold" font-size="6.9" fill="#111">10<tspan dy="-2.7" font-size="5.9">3</tspan></text>
<text transform="translate(339.4 541.8) scale(0.9 1)" font-family="Liberation Sans, sans-serif" font-weight="bold" font-size="6.9" fill="#111">10<tspan dy="-2.7" font-size="5.9">4</tspan></text>
<text transform="translate(222.2 441.0) rotate(-90) scale(0.9 1)" font-family="Liberation Sans, sans-serif" font-weight="bold" font-size="6.9" fill="#111">10<tspan dy="-2.7" font-size="5.9">4</tspan></text>
<text x="285.4" y="548.1" text-anchor="middle" font-family="Liberation Sans, sans-serif" font-weight="bold" font-size="5.8" fill="#111">FL1-H</text>
<text transform="translate(215.9 486.0) rotate(-90)" text-anchor="middle" font-family="Liberation Sans, sans-serif" font-weight="bold" font-size="5.8" fill="#111">FL2-H</text>
<text transform="translate(262.2 454.6) scale(0.91 1)" text-anchor="end" font-family="Liberation Serif, serif" font-size="10.7" fill="#111">30.3%</text>
<text transform="translate(340.3 454.6) scale(0.91 1)" text-anchor="end" font-family="Liberation Serif, serif" font-size="10.7" fill="#111">6.1%</text>
<text transform="translate(339 517) scale(0.91 1)" text-anchor="end" font-family="Liberation Serif, serif" font-size="10.7" fill="#111">23.1%</text>
<g transform="translate(367.6 437.1) scale(0.5)"><path d="M131 22h0M215 28h0M189 50h0M173 65h0M57 75h0m43 0h0M78 78h0M19 79h0M25 80h0m77 0h0m44 0h0M21 81h0M54 82h0M29 83h0M30 84h0m5 0h0m8 0h0m12 0h0M38 85h0m26 0h0M23 86h0m14 0h1m9 0h1m10 0h0m19 0h0m40 0h0m9 0h0M25 87h0m8 0h0m5 0h0m3 0h0m26 0h0m71 0h0m46 0h0M30 88h1m3 0h0m8 0h0m7 0h0m8 0h0m2 0h0m14 0h1m55 0h0m24 0h0M3 89h0m17 0h0m10 0h0m5 0h0m19 0h0m3 0h0m4 0h0M29 90h0m5 0h0m13 0h0m10 0h1m20 0h0m5 0h0m74 0h0M15 91h0m16 0h0m2 0h0m4 0h0m3 0h0m6 0h0m4 0h0m2 0h2m2 0h0m3 0h0m2 0h0m4 0h0m37 0h0m75 0h0M36 92h0m5 0h2m9 0h0m3 0h1m3 0h0M29 93h0m6 0h0m4 0h0m6 0h0m3 0h1m3 0h2m2 0h0m2 0h0m12 0h0M24 94h0m4 0h0m4 0h0m3 0h0m2 0h0m3 0h0m2 0h1m3 0h2m3 0h1m3 0h0m4 0h0m5 0h0m3 0h0m59 0h0M21 95h0m7 0h0m4 0h0m2 0h1m3 0h2m2 0h1m5 0h1m3 0h0m2 0h1m4 0h0m6 0h0m5 0h0m43 0h0m52 0h0M22 96h0m4 0h0m7 0h2m4 0h1m6 0h1m2 0h1m2 0h0m3 0h0m4 0h1m9 0h1m15 0h1m8 0h0m28 0h0m8 0h0M30 97h0m2 0h0m2 0h0m2 0h0m5 0h0m4 0h0m2 0h0m4 0h8m8 0h0m8 0h0m21 0h0m14 0h0m45 0h0M21 98h0m6 0h0m8 0h1m3 0h0m2 0h0m2 0h0m2 0h1m2 0h1m4 0h0m3 0h2m2 0h0m2 0h0m3 0h0m3 0h0m3 0h0m14 0h0m21 0h0m8 0h0M20 99h0m4 0h0m2 0h0m9 0h4m2 0h0m3 0h2m3 0h2m2 0h0m3 0h6m3 0h1m10 0h0m3 0h0m66 0h0M17 100h0m4 0h0m5 0h0m3 0h0m4 0h5m2 0h1m2 0h0m3 0h1m2 0h1m2 0h0m2 0h0m3 0h5m3 0h1m3 0h0m3 0h0m6 0h0m36 0h0m5 0h0M12 101h0m4 0h0m7 0h0m3 0h0m3 0h0m7 0h0m2 0h4m3 0h0m3 0h1m2 0h0m2 0h3m4 0h0m8 0h1m2 0h0m36 0h0M26 102h0m3 0h0m3 0h1m2 0h0m3 0h8m2 0h0m3 0h8m5 0h0m2 0h0m7 0h0M17 103h0m4 0h0m5 0h0m2 0h0m8 0h0m2 0h3m3 0h1m2 0h3m2 0h0m4 0h0m4 0h1m2 0h0m3 0h0m4 0h0m3 0h0m36 0h0m4 0h0m5 0h0m23 0h0m30 0h0M23 104h0m6 0h3m2 0h1m2 0h2m2 0h1m3 0h0m2 0h2m4 0h3m2 0h0m2 0h3m2 0h0m5 0h0m4 0h0m13 0h0M17 105h0m12 0h3m7 0h0m2 0h7m2 0h3m2 0h0m2 0h1m4 0h0m3 0h1m17 0h0m33 0h0m19 0h0m5 0h0m6 0h0m2 0h0M13 106h0m4 0h0m4 0h0m7 0h0m5 0h1m3 0h0m4 0h4m5 0h8m2 0h0m3 0h1m4 0h0m2 0h0m8 0h0m4 0h1m40 0h1m6 0h0m19 0h0m17 0h0M29 107h0m6 0h0m2 0h0m2 0h2m2 0h14m2 0h2m4 0h1m7 0h0m3 0h0m20 0h0m16 0h0m10 0h1m8 0h0m5 0h0m12 0h0m12 0h0m15 0h0M21 108h0m11 0h0m7 0h1m2 0h2m2 0h2m2 0h3m2 0h3m2 0h1m2 0h3m2 0h0m6 0h0m2 0h0m39 0h0m5 0h1m14 0h0m12 0h0m6 0h0m4 0h0M25 109h0m4 0h0m4 0h0m6 0h0m2 0h2m3 0h0m2 0h0m2 0h4m3 0h2m2 0h1m4 0h0m2 0h0m11 0h0m19 0h0m15 0h0m5 0h0m3 0h1m5 0h0m3 0h0m5 0h0m17 0h0M24 110h1m2 0h0m3 0h0m4 0h1m3 0h0m2 0h10m3 0h0m4 0h0m2 0h1m3 0h1m5 0h3m11 0h0m10 0h0m12 0h0m11 0h0m11 0h1m28 0h0m12 0h0M28 111h0m2 0h0m2 0h0m3 0h0m2 0h1m2 0h5m2 0h3m7 0h1m2 0h1m2 0h3m2 0h0m2 0h1m36 0h0m52 0h0m25 0h0M16 112h0m11 0h0m2 0h0m2 0h0m2 0h0m3 0h0m3 0h3m2 0h3m2 0h0m2 0h0m2 0h1m3 0h2m2 0h0m2 0h0m9 0h0m3 0h0m17 0h1m2 0h0m45 0h0m8 0h0M24 113h0m3 0h0m4 0h0m2 0h0m4 0h0m2 0h0m2 0h0m3 0h2m2 0h2m4 0h0m2 0h0m2 0h0m2 0h0m4 0h0m3 0h1m5 0h0m32 0h0m8 0h0m5 0h0m38 0h0M26 114h0m4 0h0m6 0h0m2 0h1m2 0h2m4 0h3m5 0h1m2 0h1m4 0h1m2 0h0m2 0h1m16 0h0m30 0h0m14 0h0m9 0h0m4 0h0m10 0h0M9 115h0m12 0h0m9 0h1m2 0h1m6 0h0m2 0h2m2 0h7m2 0h0m2 0h1m3 0h1m7 0h1m50 0h0m6 0h0m7 0h0m10 0h0m7 0h0m41 0h0M20 116h0m16 0h3m3 0h0m2 0h0m2 0h1m2 0h1m10 0h1m9 0h0m4 0h0m21 0h0m14 0h1m19 0h0m21 0h0m22 0h0M21 117h0m6 0h0m5 0h0m4 0h1m5 0h2m4 0h1m2 0h0m2 0h1m4 0h5m7 0h0m16 0h0m7 0h0m4 0h0m30 0h0m2 0h0m7 0h0m2 0h0M30 118h0m4 0h1m2 0h0m2 0h0m3 0h0m2 0h2m3 0h0m4 0h1m3 0h1m6 0h0m2 0h1m9 0h0m4 0h0m47 0h0m17 0h0m35 0h0M27 119h1m9 0h0m2 0h0m3 0h1m2 0h3m3 0h0m2 0h0m9 0h0m2 0h2m28 0h0m8 0h0m40 0h0m15 0h0M18 120h0m5 0h0m2 0h0m11 0h0m3 0h1m5 0h0m2 0h1m2 0h2m2 0h0m3 0h0m4 0h0m5 0h0m7 0h0m8 0h0m54 0h0m8 0h0m19 0h0m12 0h0M34 121h1m3 0h1m3 0h1m4 0h0m8 0h2m44 0h0m14 0h0m61 0h0M31 122h0m4 0h0m8 0h0m4 0h0m6 0h0m3 0h1m7 0h0m4 0h0m8 0h0m31 0h0m33 0h0m30 0h0M12 123h0m15 0h0m7 0h0m6 0h0m3 0h0m2 0h0m2 0h0m6 0h1m3 0h0m5 0h0m3 0h0m7 0h0m33 0h0m6 0h0m26 0h0m7 0h0m17 0h0m3 0h0m18 0h0M20 124h0m4 0h0m22 0h2m2 0h0m3 0h1m8 0h0m6 0h0m5 0h0m3 0h0m10 0h0m8 0h0m14 0h0m5 0h0m2 0h0m10 0h0m3 0h0m2 0h0m10 0h0m8 0h0m7 0h0m2 0h0m13 0h0M3 125h1m27 0h0m11 0h0m5 0h0m5 0h1m3 0h0m4 0h0m4 0h0m58 0h0m8 0h0m8 0h0m9 0h0m4 0h0m16 0h2M13 126h0m11 0h1m2 0h0m9 0h0m3 0h0m10 0h1m6 0h1m13 0h0m25 0h0m35 0h0m5 0h0m8 0h1m5 0h0m2 0h0m3 0h0m5 0h0m3 0h0m21 0h0m3 0h0m15 0h0M13 127h0m2 0h1m13 0h0m6 0h3m3 0h0m4 0h3m3 0h0m10 0h0m22 0h0m20 0h0m22 0h0m12 0h0m4 0h0m6 0h0m3 0h1m3 0h0m2 0h0m3 0h0m12 0h0m3 0h0M10 128h0m15 0h0m4 0h0m2 0h0m5 0h0m5 0h0m2 0h1m4 0h0m3 0h0m4 0h2m3 0h0m6 0h0m2 0h0m18 0h0m27 0h0m6 0h0m8 0h0m10 0h0m2 0h0m5 0h0m8 0h0m4 0h0m3 0h1m5 0h0m10 0h1m2 0h0m2 0h0m4 0h0M22 129h0m5 0h0m2 0h0m5 0h0m3 0h0m2 0h0m5 0h0m2 0h1m2 0h0m15 0h0m2 0h0m57 0h0m4 0h0m6 0h1m5 0h1m4 0h0m6 0h0m5 0h0m15 0h0m4 0h0m13 0h0M28 130h1m3 0h0m4 0h0m5 0h0m6 0h0m2 0h1m5 0h0m3 0h0m11 0h0m33 0h0m12 0h0m4 0h0m3 0h0m26 0h0m14 0h0m4 0h0m2 0h0m2 0h0m4 0h0m7 0h0m2 0h0M3 131h0m28 0h0m11 0h0m2 0h0m2 0h1m2 0h0m8 0h0m2 0h1m7 0h1m6 0h0m3 0h0m8 0h0m17 0h0m24 0h2m11 0h0m7 0h0m5 0h0m13 0h0m7 0h0m3 0h0m2 0h0m9 0h0m15 0h0M19 132h0m5 0h0m2 0h1m13 0h0m2 0h2m2 0h0m36 0h0m6 0h0m14 0h0m19 0h0m3 0h0m4 0h0m23 0h0m3 0h0m2 0h0m4 0h0m2 0h0m7 0h0m4 0h0m15 0h0M11 133h0m7 0h1m9 0h0m9 0h0m4 0h2m19 0h0m4 0h0m3 0h1m10 0h0m41 0h0m13 0h0m7 0h0m5 0h0m3 0h1m3 0h0m3 0h0m8 0h0m17 0h0M17 134h0m3 0h0m4 0h0m5 0h0m2 0h0m3 0h1m3 0h1m3 0h0m5 0h0m2 0h4m2 0h0m4 0h2m5 0h0m3 0h0m37 0h0m12 0h1m4 0h1m6 0h0m3 0h1m7 0h0m4 0h0m21 0h0m11 0h0m11 0h0M2 135h0m10 0h0m2 0h0m5 0h0m11 0h0m4 0h0m3 0h0m3 0h0m2 0h0m3 0h0m2 0h0m5 0h0m3 0h0m2 0h0m7 0h0m2 0h0m4 0h0m4 0h0m20 0h0m27 0h0m16 0h0m5 0h0m11 0h0m11 0h0m6 0h0m3 0h0m20 0h0M3 136h0m14 0h0m3 0h0m4 0h0m4 0h0m2 0h1m3 0h0m4 0h0m3 0h2m3 0h0m4 0h1m4 0h0m2 0h0m2 0h0m2 0h0m9 0h0m10 0h0m25 0h0m17 0h0m2 0h0m8 0h1m3 0h0m2 0h0m5 0h0m12 0h0m6 0h1m2 0h0m3 0h0m4 0h0m14 0h0M5 137h0m12 0h0m7 0h0m5 0h0m2 0h0m4 0h5m2 0h0m5 0h0m6 0h5m2 0h0m9 0h0m4 0h0m4 0h1m9 0h0m5 0h0m29 0h0m5 0h0m12 0h0m3 0h0m9 0h0m4 0h1m6 0h1m3 0h0m10 0h0M32 138h1m2 0h1m7 0h0m3 0h0m2 0h1m2 0h0m9 0h0m10 0h1m6 0h0m51 0h0m2 0h0m15 0h1m5 0h0m10 0h0m5 0h0m14 0h0m2 0h0m44 0h0M3 139h0m17 0h0m8 0h1m5 0h2m4 0h2m2 0h1m3 0h4m2 0h1m8 0h0m2 0h0m2 0h0m7 0h1m2 0h0m18 0h0m14 0h0m5 0h0m5 0h0m3 0h0m2 0h0m3 0h0m3 0h0m2 0h0m8 0h0m5 0h0m4 0h0m7 0h0m11 0h0m5 0h0M20 140h0m9 0h0m3 0h0m2 0h2m2 0h1m2 0h1m2 0h0m2 0h4m3 0h0m2 0h1m3 0h4m4 0h0m12 0h0m6 0h0m8 0h0m26 0h0m2 0h0m2 0h0m4 0h0m4 0h0m3 0h0m6 0h0m6 0h0m4 0h0m5 0h0m7 0h1m6 0h0m3 0h0M14 141h0m6 0h1m2 0h0m2 0h0m2 0h1m2 0h0m2 0h0m3 0h1m5 0h1m2 0h0m3 0h2m7 0h1m2 0h1m3 0h2m5 0h0m3 0h0m5 0h0m3 0h0m17 0h0m23 0h0m18 0h0m7 0h0m2 0h1m2 0h0m6 0h0m2 0h0m4 0h0m2 0h1m22 0h0M3 142h0m16 0h0m9 0h1m3 0h2m5 0h4m2 0h0m2 0h3m2 0h0m2 0h3m2 0h0m2 0h0m5 0h0m4 0h0m3 0h0m6 0h0m36 0h0m3 0h0m7 0h0m10 0h0m2 0h0m4 0h0m2 0h0m4 0h0m3 0h0m10 0h2m29 0h0M7 143h0m11 0h0m7 0h0m2 0h0m7 0h5m3 0h0m2 0h2m3 0h1m2 0h0m2 0h1m2 0h1m2 0h1m7 0h1m6 0h0m6 0h0m31 0h0m15 0h0m9 0h1m2 0h1m13 0h1m5 0h0m2 0h0m3 0h1m14 0h0M3 144h0m6 0h0m10 0h0m11 0h2m3 0h4m2 0h0m2 0h0m2 0h0m2 0h2m2 0h2m4 0h0m3 0h0m3 0h0m4 0h0m7 0h0m42 0h0m4 0h0m6 0h0m12 0h1m4 0h0m5 0h2m5 0h1m22 0h1M2 145h1m16 0h1m3 0h3m2 0h0m2 0h0m3 0h0m2 0h0m2 0h1m3 0h0m2 0h4m2 0h0m4 0h0m3 0h0m3 0h0m3 0h0m9 0h0m24 0h0m14 0h0m28 0h0m9 0h3m2 0h0m10 0h0m9 0h0m4 0h0m39 0h0M25 146h1m4 0h2m2 0h0m2 0h5m2 0h3m2 0h0m3 0h1m2 0h4m2 0h0m2 0h0m4 0h0m2 0h0m6 0h0m16 0h0m2 0h0m4 0h1m22 0h1m4 0h0m2 0h0m5 0h0m14 0h2m2 0h1m8 0h0m5 0h0m2 0h0M10 147h0m4 0h2m2 0h0m2 0h0m2 0h3m6 0h1m2 0h6m3 0h1m2 0h4m2 0h2m5 0h2m2 0h2m4 0h1m46 0h0m16 0h0m5 0h0m10 0h0m3 0h0m3 0h0m5 0h0m4 0h1m25 0h0m17 0h0m20 0h0M4 148h0m8 0h0m9 0h3m3 0h1m2 0h1m2 0h2m2 0h1m2 0h1m2 0h4m2 0h3m3 0h0m4 0h2m2 0h1m2 0h1m6 0h0m3 0h0m3 0h0m7 0h0m22 0h0m2 0h0m3 0h0m6 0h1m8 0h1m19 0h1m4 0h0m3 0h0m12 0h1m8 0h0m17 0h0M6 149h0m7 0h0m4 0h0m4 0h0m3 0h1m2 0h0m4 0h0m4 0h2m2 0h1m2 0h0m2 0h13m2 0h0m2 0h0m3 0h1m23 0h0m3 0h0m2 0h0m48 0h0m2 0h0m8 0h4m4 0h0m3 0h0m2 0h1M8 150h0m6 0h4m9 0h1m5 0h0m2 0h1m2 0h2m2 0h2m3 0h6m5 0h0m4 0h3m4 0h2m9 0h0m43 0h1m8 0h0m5 0h1m15 0h0m2 0h0m2 0h0m2 0h0m5 0h0m2 0h0m2 0h0m3 0h0m2 0h0m18 0h1M5 151h0m4 0h1m5 0h0m5 0h0m2 0h1m4 0h0m2 0h3m2 0h0m3 0h1m2 0h0m2 0h2m2 0h1m2 0h0m2 0h0m2 0h0m3 0h0m2 0h3m2 0h0m2 0h0m2 0h1m4 0h0m10 0h0m2 0h0m4 0h0m9 0h0m34 0h0m4 0h0m3 0h0m2 0h0m2 0h1m14 0h0m3 0h0m10 0h0m5 0h0m12 0h0M11 152h0m7 0h1m6 0h0m2 0h2m3 0h3m4 0h6m3 0h1m4 0h0m3 0h0m2 0h2m2 0h1m2 0h0m4 0h4m4 0h0m2 0h0m4 0h0m14 0h0m22 0h1m10 0h0m6 0h0m7 0h0m8 0h0m3 0h0m18 0h0m8 0h0m7 0h0M6 153h0m5 0h0m5 0h0m7 0h0m3 0h0m2 0h11m2 0h1m3 0h0m2 0h10m3 0h1m2 0h4m4 0h0m4 0h0m36 0h0m19 0h0m7 0h0m5 0h0m12 0h0m5 0h0m17 0h0m14 0h0M17 154h0m7 0h0m3 0h0m2 0h5m2 0h2m2 0h0m3 0h1m2 0h5m2 0h1m2 0h2m3 0h1m2 0h1m5 0h0m6 0h0m3 0h0m65 0h0m7 0h0m2 0h0m3 0h0m10 0h0m7 0h0M9 155h0m10 0h0m2 0h0m4 0h0m2 0h0m3 0h0m2 0h0m2 0h2m2 0h0m2 0h0m2 0h4m3 0h0m2 0h0m2 0h0m3 0h0m2 0h2m4 0h0m2 0h0m2 0h0m8 0h0m2 0h0m15 0h0m34 0h0m3 0h0m4 0h1m2 0h0m3 0h0m21 0h1m4 0h0m5 0h0m6 0h0M5 156h0m12 0h0m5 0h1m2 0h0m2 0h2m2 0h3m2 0h4m2 0h3m2 0h8m2 0h2m3 0h0m3 0h0m5 0h0m2 0h0m2 0h0m2 0h0m19 0h0m57 0h0m2 0h0m27 0h0M3 157h0m2 0h0m16 0h1m2 0h2m3 0h0m2 0h0m2 0h1m2 0h9m3 0h6m2 0h1m3 0h2m4 0h1m16 0h0m5 0h1m22 0h0m27 0h0m5 0h0m11 0h0m23 0h0m16 0h0M23 158h1m3 0h1m2 0h1m2 0h8m2 0h2m2 0h4m2 0h2m2 0h0m2 0h2m3 0h0m2 0h0m3 0h2m4 0h0m67 0h0m3 0h0m9 0h0m11 0h0M11 159h0m3 0h1m9 0h0m2 0h0m2 0h2m2 0h0m2 0h0m2 0h4m2 0h0m2 0h3m2 0h5m3 0h0m2 0h1m2 0h1m2 0h0m2 0h0m3 0h1m4 0h0m7 0h0m22 0h0m12 0h0m11 0h0m20 0h0m15 0h0M3 160h2m9 0h0m2 0h0m2 0h0m3 0h0m2 0h2m3 0h3m3 0h0m2 0h1m2 0h1m3 0h1m2 0h0m2 0h0m2 0h1m2 0h0m2 0h5m3 0h0m2 0h0m2 0h0m5 0h0m31 0h0m18 0h0m2 0h0m8 0h0m11 0h0m3 0h0m2 0h0m6 0h1m2 0h0M10 161h0m11 0h0m2 0h0m4 0h0m2 0h2m2 0h5m5 0h1m2 0h0m2 0h0m3 0h0m4 0h1m2 0h3m2 0h0m3 0h1m4 0h0m6 0h0m12 0h0m26 0h0m4 0h0m29 0h0m7 0h0m19 0h0M26 162h0m2 0h1m2 0h0m2 0h3m2 0h3m2 0h7m2 0h2m3 0h1m3 0h0m2 0h0m6 0h0m2 0h0m34 0h0m66 0h0M18 163h0m5 0h0m2 0h0m3 0h0m7 0h0m2 0h2m2 0h1m3 0h9m2 0h0m3 0h0m2 0h4m2 0h0m3 0h0m4 0h0m7 0h0m7 0h0m42 0h0m5 0h0m7 0h0m2 0h0M11 164h0m2 0h0m5 0h0m4 0h0m5 0h1m2 0h1m2 0h1m2 0h3m2 0h2m2 0h0m2 0h0m4 0h0m3 0h2m2 0h0m2 0h0m9 0h0m4 0h0m5 0h0m4 0h0m17 0h0m4 0h0m25 0h0m18 0h0M3 165h0m14 0h0m8 0h1m3 0h5m2 0h0m2 0h0m2 0h3m2 0h3m2 0h0m2 0h1m2 0h0m2 0h0m3 0h3m4 0h0m7 0h0m4 0h0m39 0h0m19 0h0m13 0h0m13 0h0m14 0h0M3 166h0m6 0h2m11 0h1m2 0h0m6 0h2m3 0h1m2 0h0m4 0h0m3 0h1m2 0h2m3 0h0m2 0h1m2 0h1m5 0h0m4 0h0m2 0h0m4 0h0m18 0h0m101 0h0M16 167h0m8 0h0m6 0h0m7 0h1m2 0h1m4 0h1m2 0h1m5 0h3m2 0h0m4 0h0m2 0h1m12 0h0m48 0h0m9 0h0m6 0h0m17 0h0m3 0h0m10 0h0M25 168h1m5 0h0m2 0h4m2 0h1m4 0h1m2 0h0m3 0h0m2 0h0m2 0h0m2 0h0m2 0h0m5 0h0m2 0h1m3 0h1m38 0h0m14 0h0m33 0h0m11 0h0m13 0h0M17 169h0m14 0h0m2 0h1m4 0h1m2 0h0m2 0h0m2 0h1m2 0h0m2 0h0m2 0h1m4 0h0m6 0h0m12 0h0M3 170h0m11 0h0m14 0h0m2 0h0m10 0h0m2 0h1m2 0h0m4 0h1m2 0h0m5 0h0m3 0h0m2 0h3m4 0h0m48 0h0m47 0h0M3 171h0m25 0h0m3 0h0m8 0h3m2 0h0m2 0h1m2 0h0m4 0h2m3 0h1m2 0h0m6 0h0m2 0h0m6 0h0m29 0h0m39 0h0m10 0h0M22 172h0m10 0h0m11 0h0m3 0h0m2 0h0m2 0h0m3 0h1M16 173h0m11 0h0m2 0h1m8 0h0m2 0h1m3 0h1m4 0h3m9 0h1m5 0h0m17 0h0m45 0h0M10 174h0m18 0h0m4 0h0m2 0h2m6 0h1m2 0h0m3 0h0m4 0h0m3 0h0m5 0h1m2 0h0m4 0h1m3 0h1m77 0h0m12 0h0M13 175h0m12 0h1m5 0h0m4 0h0m9 0h0m2 0h0m6 0h0m2 0h0m4 0h2m2 0h1m4 0h0m4 0h0m14 0h0m53 0h0m39 0h0M25 176h0m5 0h0m6 0h0m5 0h2m3 0h0m2 0h0m9 0h0m175 0h0M16 177h0m3 0h0m9 0h0m4 0h0m5 0h0m2 0h0m3 0h1m2 0h0m6 0h0m18 0h0m78 0h0m21 0h0M27 178h1m12 0h0m14 0h0m3 0h0m13 0h0m14 0h0M23 179h0m9 0h0m13 0h0m3 0h1m5 0h1m9 0h0m6 0h0M29 180h0m10 0h0m3 0h0m3 0h2m3 0h0m3 0h0m5 0h0m2 0h0m62 0h0M27 181h1m8 0h0m12 0h0m99 0h0M39 182h0m16 0h0M3 183h0m12 0h0m14 0h0m6 0h0m15 0h0m12 0h0m2 0h0m7 0h0M10 184h0m16 0h0m6 0h0m16 0h0m4 0h0M39 185h0M3 186h0m14 0h0m12 0h0m7 0h0m133 0h0m2 0h0M18 187h0m9 0h0m6 0h0m11 0h1m8 0h0m11 0h0m6 0h0m15 0h0m28 0h0m2 0h0m9 0h0" stroke="#000" stroke-width="1.6" stroke-linecap="square" fill="none"/></g>
<rect x="367.6" y="437.1" width="119.19999999999999" height="94.89999999999998" fill="none" stroke="#111" stroke-width="1.1"/>
<path d="M405.2 437.1V532M367.6 500.4H486.8" stroke="#111" stroke-width="1.2" fill="none"/>
<path d="M367.6 532v2.5M367.6 532.0h-2.5M376.6 532v1.4M367.6 524.9h-1.4M381.8 532v1.4M367.6 520.7h-1.4M385.5 532v1.4M367.6 517.7h-1.4M388.4 532v1.4M367.6 515.4h-1.4M390.8 532v1.4M367.6 513.5h-1.4M392.8 532v1.4M367.6 512.0h-1.4M394.5 532v1.4M367.6 510.6h-1.4M396.0 532v1.4M367.6 509.4h-1.4M397.4 532v2.5M367.6 508.3h-2.5M406.4 532v1.4M367.6 501.1h-1.4M411.6 532v1.4M367.6 497.0h-1.4M415.3 532v1.4M367.6 494.0h-1.4M418.2 532v1.4M367.6 491.7h-1.4M420.6 532v1.4M367.6 489.8h-1.4M422.6 532v1.4M367.6 488.2h-1.4M424.3 532v1.4M367.6 486.8h-1.4M425.8 532v1.4M367.6 485.6h-1.4M427.2 532v2.5M367.6 484.6h-2.5M436.2 532v1.4M367.6 477.4h-1.4M441.4 532v1.4M367.6 473.2h-1.4M445.1 532v1.4M367.6 470.3h-1.4M448.0 532v1.4M367.6 468.0h-1.4M450.4 532v1.4M367.6 466.1h-1.4M452.4 532v1.4M367.6 464.5h-1.4M454.1 532v1.4M367.6 463.1h-1.4M455.6 532v1.4M367.6 461.9h-1.4M457.0 532v2.5M367.6 460.8h-2.5M466.0 532v1.4M367.6 453.7h-1.4M471.2 532v1.4M367.6 449.5h-1.4M474.9 532v1.4M367.6 446.5h-1.4M477.8 532v1.4M367.6 444.2h-1.4M480.2 532v1.4M367.6 442.4h-1.4M482.2 532v1.4M367.6 440.8h-1.4M483.9 532v1.4M367.6 439.4h-1.4M485.4 532v1.4M367.6 438.2h-1.4M486.8 532v2.5M367.6 437.1h-2.5" stroke="#222" stroke-width="0.55" fill="none"/>
<text transform="translate(364.3 542.0) scale(0.9 1)" font-family="Liberation Sans, sans-serif" font-weight="bold" font-size="6.9" fill="#111">10<tspan dy="-2.7" font-size="5.9">0</tspan></text>
<text transform="translate(362.6 535.8) rotate(-90) scale(0.9 1)" font-family="Liberation Sans, sans-serif" font-weight="bold" font-size="6.9" fill="#111">10<tspan dy="-2.7" font-size="5.9">0</tspan></text>
<text transform="translate(394.1 542.0) scale(0.9 1)" font-family="Liberation Sans, sans-serif" font-weight="bold" font-size="6.9" fill="#111">10<tspan dy="-2.7" font-size="5.9">1</tspan></text>
<text transform="translate(362.6 512.1) rotate(-90) scale(0.9 1)" font-family="Liberation Sans, sans-serif" font-weight="bold" font-size="6.9" fill="#111">10<tspan dy="-2.7" font-size="5.9">1</tspan></text>
<text transform="translate(423.9 542.0) scale(0.9 1)" font-family="Liberation Sans, sans-serif" font-weight="bold" font-size="6.9" fill="#111">10<tspan dy="-2.7" font-size="5.9">2</tspan></text>
<text transform="translate(362.6 488.4) rotate(-90) scale(0.9 1)" font-family="Liberation Sans, sans-serif" font-weight="bold" font-size="6.9" fill="#111">10<tspan dy="-2.7" font-size="5.9">2</tspan></text>
<text transform="translate(453.7 542.0) scale(0.9 1)" font-family="Liberation Sans, sans-serif" font-weight="bold" font-size="6.9" fill="#111">10<tspan dy="-2.7" font-size="5.9">3</tspan></text>
<text transform="translate(362.6 464.6) rotate(-90) scale(0.9 1)" font-family="Liberation Sans, sans-serif" font-weight="bold" font-size="6.9" fill="#111">10<tspan dy="-2.7" font-size="5.9">3</tspan></text>
<text transform="translate(483.5 542.0) scale(0.9 1)" font-family="Liberation Sans, sans-serif" font-weight="bold" font-size="6.9" fill="#111">10<tspan dy="-2.7" font-size="5.9">4</tspan></text>
<text transform="translate(362.6 440.9) rotate(-90) scale(0.9 1)" font-family="Liberation Sans, sans-serif" font-weight="bold" font-size="6.9" fill="#111">10<tspan dy="-2.7" font-size="5.9">4</tspan></text>
<text x="427.7" y="548.3" text-anchor="middle" font-family="Liberation Sans, sans-serif" font-weight="bold" font-size="5.8" fill="#111">FL1-H</text>
<text transform="translate(356.3 486.1) rotate(-90)" text-anchor="middle" font-family="Liberation Sans, sans-serif" font-weight="bold" font-size="5.8" fill="#111">FL2-H</text>
<text transform="translate(402 454.4) scale(0.91 1)" text-anchor="end" font-family="Liberation Serif, serif" font-size="10.7" fill="#111">29.2%</text>
<text transform="translate(483.8 454.4) scale(0.91 1)" text-anchor="end" font-family="Liberation Serif, serif" font-size="10.7" fill="#111">2.8%</text>
<text transform="translate(486 517.5) scale(0.91 1)" text-anchor="end" font-family="Liberation Serif, serif" font-size="10.7" fill="#111">15.9%</text>
</svg>
</body></html>
